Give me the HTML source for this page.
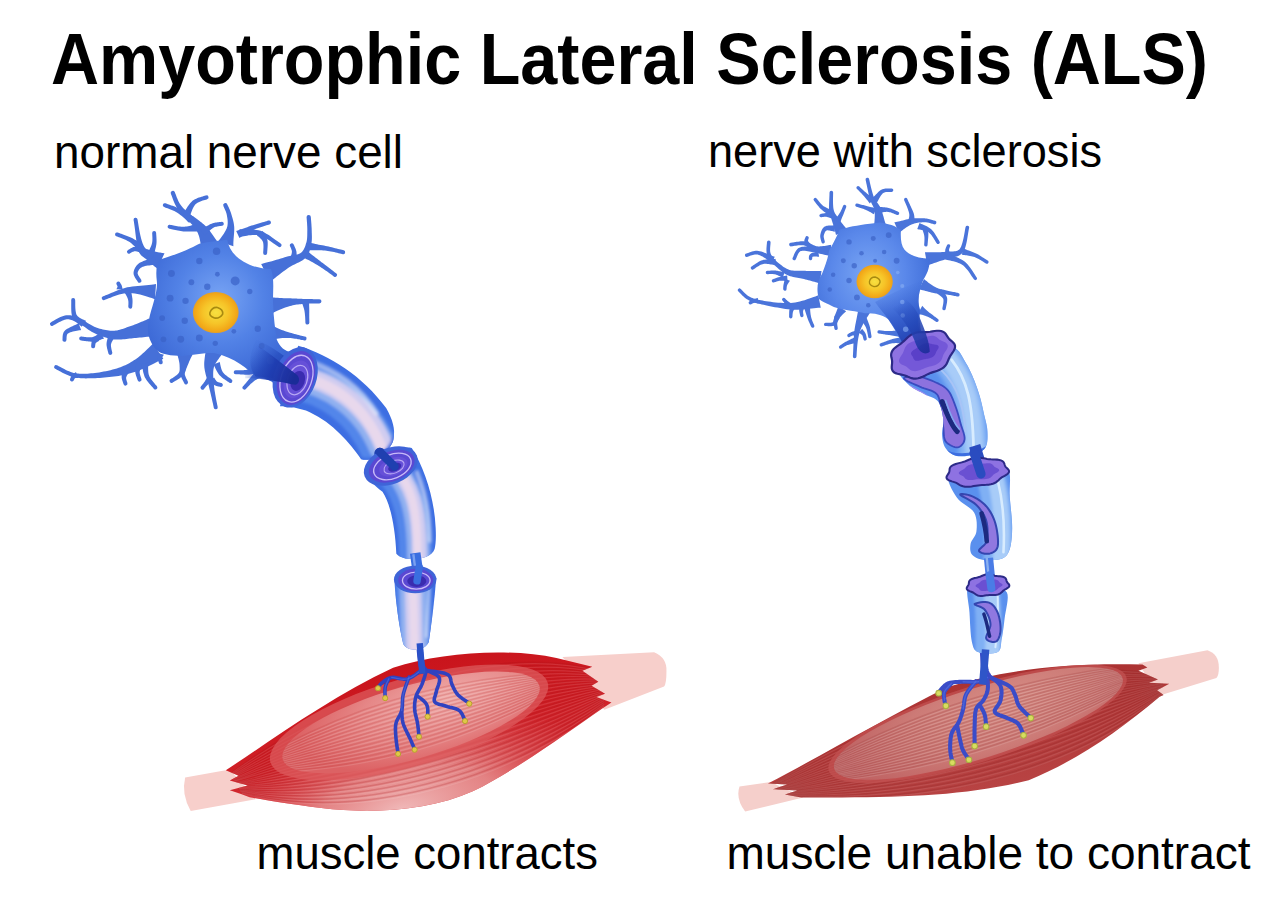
<!DOCTYPE html>
<html><head><meta charset="utf-8">
<style>
html,body{margin:0;padding:0;background:#fff;width:1280px;height:904px;overflow:hidden}
svg{display:block}
text{font-family:"Liberation Sans",sans-serif}
</style></head>
<body>
<svg width="1280" height="904" viewBox="0 0 1280 904">
<defs>
<linearGradient id="mL" x1="0" y1="0" x2="0.25" y2="1">
  <stop offset="0" stop-color="#c20e16"/>
  <stop offset="0.5" stop-color="#cf2a2e"/>
  <stop offset="0.8" stop-color="#d85a5c"/>
  <stop offset="1" stop-color="#e8a4a4"/>
</linearGradient>
<radialGradient id="mLi" cx="0.6" cy="0.4" r="0.65">
  <stop offset="0" stop-color="#f0b0ae"/>
  <stop offset="0.55" stop-color="#e48484"/>
  <stop offset="1" stop-color="#d45a5c"/>
</radialGradient>

<radialGradient id="soma" cx="0.5" cy="0.4" r="0.6">
  <stop offset="0" stop-color="#78a4f4"/>
  <stop offset="0.5" stop-color="#5282e6"/>
  <stop offset="1" stop-color="#3a66d4"/>
</radialGradient>
<radialGradient id="nuc" cx="0.5" cy="0.5" r="0.5">
  <stop offset="0" stop-color="#f6e040"/>
  <stop offset="0.55" stop-color="#f6c428"/>
  <stop offset="0.9" stop-color="#f2a818"/>
  <stop offset="1" stop-color="#e8a020"/>
</radialGradient>
<linearGradient id="hill" x1="0" y1="0" x2="1" y2="1">
  <stop offset="0" stop-color="#4a78e0" stop-opacity="0"/>
  <stop offset="0.45" stop-color="#2c54c4"/>
  <stop offset="1" stop-color="#1a34a0"/>
</linearGradient>

<radialGradient id="open" cx="0.5" cy="0.5" r="0.5">
  <stop offset="0" stop-color="#2a22a0"/>
  <stop offset="0.35" stop-color="#4a36c8"/>
  <stop offset="0.75" stop-color="#7a62e2"/>
  <stop offset="1" stop-color="#5a48d6"/>
</radialGradient>
<linearGradient id="tubeIn" x1="0" y1="0" x2="1" y2="1">
  <stop offset="0" stop-color="#dcdaf4"/>
  <stop offset="0.5" stop-color="#e9d8ec"/>
  <stop offset="1" stop-color="#d6d0f0"/>
</linearGradient>

<linearGradient id="mR" x1="0" y1="0" x2="0.2" y2="1">
  <stop offset="0" stop-color="#a83434"/>
  <stop offset="0.5" stop-color="#b84444"/>
  <stop offset="1" stop-color="#c86262"/>
</linearGradient>
<radialGradient id="mRi" cx="0.6" cy="0.4" r="0.65">
  <stop offset="0" stop-color="#dc9a9a"/>
  <stop offset="0.6" stop-color="#d07c7c"/>
  <stop offset="1" stop-color="#c66464"/>
</radialGradient>
<radialGradient id="somaR" cx="0.45" cy="0.4" r="0.6">
  <stop offset="0" stop-color="#7aa6f4"/>
  <stop offset="0.55" stop-color="#5a88ea"/>
  <stop offset="1" stop-color="#3e6cd8"/>
</radialGradient>
<linearGradient id="damTube" x1="0" y1="0" x2="1" y2="0">
  <stop offset="0" stop-color="#4a7ee6"/>
  <stop offset="0.4" stop-color="#8cb4f4"/>
  <stop offset="0.7" stop-color="#a6c6f8"/>
  <stop offset="1" stop-color="#5a8cec"/>
</linearGradient>
</defs>
<rect width="1280" height="904" fill="#fff"/>
<!--TEXT-->
<text x="51" y="83.5" font-size="72" font-weight="bold" fill="#000" textLength="1157" lengthAdjust="spacingAndGlyphs">Amyotrophic Lateral Sclerosis (ALS)</text>
<text x="54" y="167.5" font-size="46.5" fill="#000" textLength="349" lengthAdjust="spacingAndGlyphs">normal nerve cell</text>
<text x="708" y="167" font-size="46.5" fill="#000" textLength="394" lengthAdjust="spacingAndGlyphs">nerve with sclerosis</text>
<text x="256.5" y="869" font-size="46.5" fill="#000" textLength="341.5" lengthAdjust="spacingAndGlyphs">muscle contracts</text>
<text x="726.5" y="868.8" font-size="46.5" fill="#000" textLength="524" lengthAdjust="spacingAndGlyphs">muscle unable to contract</text>

<!--LEFT-->

<g id="muscleL" transform="translate(170,630) scale(0.39844)">
  <defs>
   <clipPath id="cmL"><path d="M140,352 C250,280 400,170 560,95 C680,55 850,45 970,70 L1060,92 L1035,102 L1075,130 L1058,140 L1092,160 L1070,168 L1108,182 L1085,197 C1000,255 880,345 760,405 C650,455 500,462 380,447 C300,437 240,427 200,420 L180,412 L150,402 L195,390 L150,378 L172,366 Z"/></clipPath>
   <clipPath id="cmLi"><ellipse cx="605" cy="232" rx="335" ry="92" transform="rotate(-16 605 232)"/></clipPath>
   <linearGradient id="mL2" gradientUnits="userSpaceOnUse" x1="560" y1="60" x2="640" y2="460">
    <stop offset="0" stop-color="#c8121a"/>
    <stop offset="0.5" stop-color="#cf1f26"/>
    <stop offset="1" stop-color="#d63a40"/>
   </linearGradient>
   <radialGradient id="mLpink" gradientUnits="userSpaceOnUse" cx="580" cy="450" r="520" gradientTransform="translate(580 450) rotate(-14) scale(1 0.42) translate(-580 -450)">
    <stop offset="0" stop-color="#f0b8b8" stop-opacity="1"/>
    <stop offset="0.45" stop-color="#e69090" stop-opacity="0.85"/>
    <stop offset="0.8" stop-color="#dc5a5e" stop-opacity="0.4"/>
    <stop offset="1" stop-color="#d84a50" stop-opacity="0"/>
   </radialGradient>
   <radialGradient id="mLi2" gradientUnits="userSpaceOnUse" cx="700" cy="200" r="380" gradientTransform="translate(700 200) scale(1 0.4) rotate(-16) translate(-700 -200)">
    <stop offset="0" stop-color="#f0aeac"/>
    <stop offset="0.55" stop-color="#e68888"/>
    <stop offset="1" stop-color="#dc6264"/>
   </radialGradient>
  </defs>
  <path d="M38,370 L150,350 L215,425 L52,454 Q28,412 38,370 Z" fill="#f7cfcb"/>
  <path d="M985,68 L1215,56 Q1248,70 1246,104 Q1246,135 1240,142 L1090,200 Z" fill="#f7cfcb"/>
  <path d="M140,352 C250,280 400,170 560,95 C680,55 850,45 970,70 L1060,92 L1035,102 L1075,130 L1058,140 L1092,160 L1070,168 L1108,182 L1085,197 C1000,255 880,345 760,405 C650,455 500,462 380,447 C300,437 240,427 200,420 L180,412 L150,402 L195,390 L150,378 L172,366 Z" fill="url(#mL2)"/>
  <g clip-path="url(#cmL)">
   <rect x="0" y="0" width="1300" height="600" fill="url(#mLpink)"/>
   <g fill="none" stroke="#a80c14" stroke-opacity="0.22" stroke-width="4"><path d="M151,361 C422,158 802,28 1080,102"/><path d="M152,363 C427,174 807,42 1081,106"/><path d="M153,366 C431,190 811,58 1081,110"/><path d="M155,368 C436,206 816,72 1082,114"/><path d="M156,370 C440,222 820,88 1082,118"/><path d="M158,372 C445,238 825,102 1082,122"/><path d="M159,375 C450,253 830,118 1083,127"/><path d="M160,377 C454,269 834,132 1083,131"/><path d="M162,379 C459,285 839,148 1084,135"/><path d="M163,382 C463,301 843,162 1084,139"/><path d="M164,384 C468,317 848,178 1085,143"/><path d="M166,386 C472,333 852,192 1085,147"/><path d="M167,388 C477,349 857,208 1086,151"/><path d="M168,391 C481,365 861,222 1086,155"/><path d="M170,393 C486,381 866,237 1087,159"/><path d="M171,395 C490,397 870,252 1087,163"/><path d="M172,398 C495,412 875,268 1088,168"/><path d="M174,400 C500,428 880,282 1088,172"/><path d="M175,402 C504,444 884,298 1088,176"/><path d="M177,404 C509,460 889,312 1089,180"/><path d="M178,407 C513,476 893,328 1089,184"/><path d="M179,409 C518,492 898,342 1090,188"/></g>
   <g fill="none" stroke="#ffffff" stroke-opacity="0.1" stroke-width="3"><path d="M151,362 C424,165 804,34 1080,104"/><path d="M153,364 C429,181 809,49 1081,108"/><path d="M154,367 C433,197 813,64 1081,112"/><path d="M155,369 C438,213 818,79 1082,116"/><path d="M157,371 C442,229 822,94 1082,120"/><path d="M158,374 C447,244 827,109 1083,124"/><path d="M159,376 C452,260 832,124 1083,128"/><path d="M161,378 C456,276 836,139 1084,132"/><path d="M162,380 C461,292 841,154 1084,137"/><path d="M164,383 C465,308 845,169 1085,141"/><path d="M165,385 C470,324 850,184 1085,145"/><path d="M166,387 C474,340 854,199 1085,149"/><path d="M168,389 C479,356 859,214 1086,153"/><path d="M169,392 C483,372 863,229 1086,157"/><path d="M170,394 C488,388 868,244 1087,161"/><path d="M172,396 C492,404 872,259 1087,165"/><path d="M173,398 C497,420 877,274 1088,169"/><path d="M174,401 C502,435 882,289 1088,173"/><path d="M176,403 C506,451 886,304 1089,177"/><path d="M177,405 C511,467 891,319 1089,182"/><path d="M179,408 C515,483 895,334 1090,186"/><path d="M180,410 C520,499 900,349 1090,190"/></g>
  </g>
  <ellipse cx="600" cy="232" rx="362" ry="110" transform="rotate(-16 600 232)" fill="#dc5a5c" opacity="0.75"/>
  <ellipse cx="605" cy="232" rx="335" ry="92" transform="rotate(-16 605 232)" fill="url(#mLi2)"/>
  <g clip-path="url(#cmLi)"><g transform="rotate(-16 605 232)">
   <g fill="none" stroke="#c03838" stroke-opacity="0.22" stroke-width="4"><path d="M250,206 Q605,125 960,206"/><path d="M250,210 Q605,142 960,210"/><path d="M250,214 Q605,158 960,214"/><path d="M250,218 Q605,174 960,218"/><path d="M250,222 Q605,191 960,222"/><path d="M250,226 Q605,207 960,226"/><path d="M250,230 Q605,224 960,230"/><path d="M250,234 Q605,240 960,234"/><path d="M250,238 Q605,257 960,238"/><path d="M250,242 Q605,273 960,242"/><path d="M250,246 Q605,290 960,246"/><path d="M250,250 Q605,306 960,250"/><path d="M250,254 Q605,322 960,254"/><path d="M250,258 Q605,339 960,258"/></g>
   <g fill="none" stroke="#ffffff" stroke-opacity="0.12" stroke-width="3"><path d="M250,208 Q605,133 960,208"/><path d="M250,212 Q605,150 960,212"/><path d="M250,216 Q605,166 960,216"/><path d="M250,220 Q605,183 960,220"/><path d="M250,224 Q605,199 960,224"/><path d="M250,228 Q605,216 960,228"/><path d="M250,232 Q605,232 960,232"/><path d="M250,236 Q605,248 960,236"/><path d="M250,240 Q605,265 960,240"/><path d="M250,244 Q605,281 960,244"/><path d="M250,248 Q605,298 960,248"/><path d="M250,252 Q605,314 960,252"/><path d="M250,256 Q605,331 960,256"/><path d="M250,260 Q605,347 960,260"/></g>
  </g></g>
</g>

<g transform="translate(170,630) scale(0.39844)">
<g fill="none" stroke="#3042c0" stroke-linecap="round" stroke-linejoin="round">
<path d="M624.9,20.0 L625.1,23.2 L625.4,27.4 L625.8,32.5 L626.2,38.1 L626.6,44.0 L627.1,49.8 L627.5,55.2 L628.0,60.0 L628.4,64.4 L628.9,68.7 L629.3,72.9 L629.7,76.9 L630.2,80.7 L630.8,84.2 L631.4,87.4 L632.1,90.2 L633.0,92.6 L634.0,94.7 L635.1,96.5 L636.3,98.0 L637.4,99.2 L638.5,100.3 L639.4,101.2 L640.0,102.0" stroke-width="16"/>
<path d="M632.0,100.0 L629.2,101.9 L625.6,104.7 L621.3,108.0 L616.5,111.6 L611.4,115.1 L606.1,118.3 L600.9,121.0 L596.0,122.7 L591.1,123.4 L586.0,123.2 L580.8,122.5 L575.5,121.4 L570.3,120.3 L565.3,119.4 L560.6,118.9 L556.3,119.1 L552.3,120.1 L548.6,121.5 L545.0,123.3 L541.7,125.3 L538.7,127.4 L535.8,129.6 L533.3,131.7 L531.0,133.5 L529.0,135.3 L527.4,137.1 L526.0,138.9 L524.9,140.8 L524.0,142.4 L523.2,144.0 L522.6,145.2 L522.0,146.2" stroke-width="9"/>
<path d="M549.1,122.7 L548.3,124.4 L547.3,126.5 L546.0,129.1 L544.6,132.0 L543.2,135.1 L541.9,138.2 L540.9,141.4 L540.1,144.4 L539.7,147.6 L539.5,151.0 L539.4,154.7 L539.5,158.4 L539.7,161.8 L539.9,165.0 L540.0,167.6 L540.1,169.6" stroke-width="9"/>
<path d="M600.0,118.0 L598.8,121.5 L597.1,126.1 L595.0,131.6 L592.8,137.7 L590.6,144.1 L588.5,150.6 L586.6,156.8 L585.2,162.4 L584.3,167.6 L583.8,172.8 L583.5,177.9 L583.4,183.0 L583.3,187.9 L583.0,192.8 L582.5,197.5 L581.6,202.1 L580.2,206.5 L578.4,210.6 L576.3,214.7 L574.1,218.6 L572.0,222.5 L570.0,226.4 L568.3,230.4 L567.1,234.6 L566.4,238.9 L566.0,243.3 L565.8,247.7 L565.9,252.2 L566.1,256.7 L566.4,261.3 L566.7,266.0 L567.1,270.7 L567.6,275.8 L568.2,281.3 L569.0,287.1 L569.8,292.8 L570.6,298.3 L571.4,303.2 L572.0,307.3 L572.5,310.4" stroke-width="9"/>
<path d="M581.6,202.1 L581.8,204.6 L581.9,207.8 L582.1,211.6 L582.3,215.9 L582.6,220.5 L583.2,225.2 L584.0,230.0 L585.2,234.6 L586.8,239.3 L588.9,244.4 L591.2,249.6 L593.8,254.9 L596.3,260.2 L598.9,265.2 L601.2,270.0 L603.2,274.3 L605.0,278.3 L606.7,282.2 L608.3,285.9 L609.7,289.4 L611.1,292.5 L612.2,295.3 L613.2,297.7 L614.0,299.5" stroke-width="9"/>
<path d="M642.9,104.7 L642.1,107.2 L641.0,110.6 L639.8,114.6 L638.4,119.1 L636.9,123.8 L635.3,128.5 L633.7,133.0 L632.1,137.1 L630.4,140.9 L628.5,144.5 L626.5,148.0 L624.4,151.5 L622.4,155.1 L620.5,158.6 L618.9,162.2 L617.6,166.0 L616.6,169.9 L615.7,173.8 L615.0,177.8 L614.4,181.8 L614.1,185.9 L613.9,190.0 L613.9,194.2 L614.0,198.5 L614.4,202.9 L615.1,207.4 L616.1,211.9 L617.2,216.6 L618.4,221.2 L619.5,225.7 L620.5,230.2 L621.3,234.6 L622.0,239.1 L622.5,243.7 L623.1,248.5 L623.6,253.1 L624.0,257.5 L624.3,261.3 L624.6,264.6 L624.9,267.1" stroke-width="9"/>
<path d="M621.3,166.0 L622.8,167.1 L624.8,168.6 L627.2,170.4 L629.8,172.3 L632.5,174.4 L635.1,176.5 L637.4,178.6 L639.3,180.5 L640.8,182.3 L642.0,183.9 L643.1,185.6 L644.0,187.3 L644.8,189.0 L645.5,190.8 L646.0,192.8 L646.5,194.9 L646.8,197.4 L647.0,200.3 L647.0,203.4 L647.0,206.6 L646.8,209.7 L646.7,212.5 L646.5,214.8 L646.5,216.5" stroke-width="9"/>
<path d="M640.0,100.0 L643.0,101.4 L647.4,103.0 L652.6,105.0 L658.1,107.3 L663.7,109.9 L668.7,112.7 L672.8,115.8 L675.4,119.1 L676.5,122.9 L676.5,127.2 L675.7,131.9 L674.2,136.8 L672.5,141.7 L670.7,146.5 L669.2,151.1 L668.2,155.2 L667.4,159.0 L666.3,162.6 L665.2,166.1 L664.1,169.4 L663.4,172.5 L663.1,175.4 L663.5,178.1 L664.6,180.5 L666.6,182.5 L669.4,184.2 L672.9,185.6 L676.7,186.8 L680.9,187.9 L685.2,188.9 L689.4,190.0 L693.4,191.3 L697.4,192.6 L701.7,193.7 L706.1,194.7 L710.5,195.8 L714.9,197.0 L719.0,198.4 L722.7,200.1 L725.9,202.1 L728.7,204.7 L731.1,208.0 L733.3,211.6 L735.2,215.4 L736.8,219.1 L738.2,222.5 L739.4,225.3 L740.4,227.4" stroke-width="9"/>
<path d="M650.0,102.0 L653.9,102.7 L659.3,103.4 L665.8,104.3 L672.8,105.4 L680.0,106.6 L686.7,108.1 L692.5,109.9 L697.0,111.9 L700.1,114.3 L702.2,117.1 L703.6,120.2 L704.5,123.5 L705.1,127.0 L705.8,130.4 L706.6,133.8 L707.9,137.1 L709.4,140.3 L710.9,143.5 L712.4,146.7 L714.0,150.0 L715.7,153.2 L717.6,156.3 L719.8,159.4 L722.3,162.4 L725.4,165.4 L729.2,168.6 L733.3,171.8 L737.6,174.8 L741.8,177.7 L745.7,180.3 L748.9,182.5 L751.2,184.1" stroke-width="9"/>
</g><g fill="none" stroke="#5a7ae8" stroke-opacity="0.5" stroke-linecap="round">
<path d="M632.0,100.0 L629.2,101.9 L625.6,104.7 L621.3,108.0 L616.5,111.6 L611.4,115.1 L606.1,118.3 L600.9,121.0 L596.0,122.7 L590.9,123.5 L585.4,123.6 L579.6,123.1 L573.9,122.3 L568.4,121.3 L563.5,120.4 L559.4,119.6 L556.3,119.1" stroke-width="3.15"/>
<path d="M549.1,122.7 L548.3,124.4 L547.3,126.5 L546.0,129.1 L544.6,132.0 L543.2,135.1 L541.9,138.2 L540.9,141.4 L540.1,144.4 L539.7,147.6 L539.5,151.0 L539.4,154.7 L539.5,158.4 L539.7,161.8 L539.9,165.0 L540.0,167.6 L540.1,169.6" stroke-width="3.15"/>
<path d="M600.0,118.0 L598.8,121.5 L597.1,126.1 L595.0,131.6 L592.8,137.7 L590.6,144.1 L588.5,150.6 L586.6,156.8 L585.2,162.4 L584.2,167.9 L583.4,173.6 L582.9,179.4 L582.5,185.0 L582.2,190.3 L582.0,195.1 L581.8,199.1 L581.6,202.1" stroke-width="3.15"/>
</g><g fill="#e0c848" stroke="#b8a030" stroke-width="2.5">
<circle cx="522.0" cy="146.2" r="6.5"/>
<circle cx="540.1" cy="171.0" r="6.5"/>
<circle cx="572.5" cy="311.0" r="6.5"/>
<circle cx="614.0" cy="300.5" r="6.5"/>
<circle cx="624.9" cy="268.0" r="6.5"/>
<circle cx="646.5" cy="217.5" r="6.5"/>
<circle cx="740.4" cy="228.5" r="6.5"/>
<circle cx="751.2" cy="185.0" r="6.5"/>
</g></g>

<g id="axonL">
 <defs>
  <filter id="blur8" filterUnits="userSpaceOnUse" x="-500" y="-500" width="2000" height="2000"><feGaussianBlur stdDeviation="10"/></filter>
  <filter id="blur5" filterUnits="userSpaceOnUse" x="-500" y="-500" width="2000" height="2000"><feGaussianBlur stdDeviation="6"/></filter>
  <clipPath id="cs1"><path d="M230,95 C420,150 620,280 760,470 C800,540 815,600 805,650 C800,720 690,800 610,778 C540,680 440,560 300,495 C240,470 170,460 120,460 Z"/></clipPath>
  <clipPath id="cs2"><path d="M95,110 C140,60 220,20 270,30 C320,110 355,220 360,330 C362,370 360,395 356,410 C340,455 240,460 212,428 C208,330 190,240 160,195 C130,170 100,150 95,110 Z"/></clipPath>
  <clipPath id="cs3"><path d="M205,525 C208,600 222,700 238,768 C255,800 320,795 334,760 C346,680 356,600 362,520 C340,490 230,490 205,525 Z"/></clipPath>
 </defs>
 <g transform="translate(260,330) scale(0.166)">
  <path d="M230,95 C420,150 620,280 760,470 C800,540 815,600 805,650 C800,720 690,800 610,778 C540,680 440,560 300,495 C240,470 170,460 120,460 Z" fill="#3d6ee2"/>
  <g clip-path="url(#cs1)"><g fill="none" stroke-linecap="round" filter="url(#blur8)">
   <path d="M190,300 C400,330 620,470 720,720" stroke="#5286ea" stroke-width="230"/>
   <path d="M205,285 C410,310 630,450 735,705" stroke="#90b0f0" stroke-width="160"/>
   <path d="M215,275 C420,300 640,440 745,700" stroke="#d0ccf0" stroke-width="110"/>
   <path d="M225,285 C430,310 630,450 735,710" stroke="#e8d8ec" stroke-width="60"/>
   <path d="M300,190 C460,240 610,350 700,500" stroke="#ffffff" stroke-opacity="0.45" stroke-width="30"/>
   <path d="M610,778 C690,800 800,720 805,650" stroke="#3d6ee2" stroke-width="26"/>
  </g></g>

 </g>
 <g transform="translate(340,440) scale(0.2657)">
  <path d="M150,50 L215,100" stroke="#1f40b0" stroke-width="42" stroke-linecap="round"/>
  <path d="M95,110 C140,60 220,20 270,30 C320,110 355,220 360,330 C362,370 360,395 356,410 C340,455 240,460 212,428 C208,330 190,240 160,195 C130,170 100,150 95,110 Z" fill="#3d6ee2"/>
  <g clip-path="url(#cs2)"><g fill="none" stroke-linecap="round" filter="url(#blur5)">
   <path d="M180,100 C250,170 285,260 285,440" stroke="#5286ea" stroke-width="125"/>
   <path d="M190,95 C262,165 295,255 295,440" stroke="#90b0f0" stroke-width="85"/>
   <path d="M195,95 C268,160 300,250 298,440" stroke="#d0ccf0" stroke-width="55"/>
   <path d="M200,100 C270,165 292,255 292,440" stroke="#e8d8ec" stroke-width="30"/>
   <path d="M290,120 C325,200 338,280 338,380" stroke="#ffffff" stroke-opacity="0.5" stroke-width="14"/>
  </g></g>
  <g transform="rotate(-22 190 95)">
   <ellipse cx="190" cy="98" rx="106" ry="68" fill="#3f64d8"/>
   <ellipse cx="193" cy="100" rx="90" ry="56" fill="#5a48d2"/>
   <ellipse cx="195" cy="102" rx="74" ry="45" fill="none" stroke="#c8baf8" stroke-width="5"/>
   <ellipse cx="198" cy="104" rx="56" ry="33" fill="#6650d8"/>
   <ellipse cx="200" cy="106" rx="40" ry="23" fill="none" stroke="#b8a8f4" stroke-width="4"/>
   <ellipse cx="202" cy="108" rx="26" ry="15" fill="#3a2cb0"/>
  </g>
  <path d="M150,45 L205,100" stroke="#1f40b0" stroke-width="32" stroke-linecap="round"/>
  <path d="M283,425 L297,525" stroke="#3a6ee0" stroke-width="40"/>
  <path d="M276,430 L288,520" stroke="#7aa0f0" stroke-width="9"/>
  <path d="M205,525 C208,600 222,700 238,768 C255,800 320,795 334,760 C346,680 356,600 362,520 C340,490 230,490 205,525 Z" fill="#3d6ee2"/>
  <g clip-path="url(#cs3)"><g fill="none" stroke-linecap="round" filter="url(#blur5)">
   <path d="M276,520 L282,780" stroke="#5286ea" stroke-width="135"/>
   <path d="M274,520 L280,780" stroke="#90b0f0" stroke-width="100"/>
   <path d="M274,520 L280,780" stroke="#d0ccf0" stroke-width="62"/>
   <path d="M274,520 L280,780" stroke="#e8d8ec" stroke-width="32"/>
   <path d="M335,560 L325,740" stroke="#ffffff" stroke-opacity="0.5" stroke-width="10"/>
  </g></g>
  <ellipse cx="283" cy="525" rx="80" ry="52" fill="#3f64d8"/>
  <ellipse cx="285" cy="527" rx="66" ry="42" fill="#5a48d2"/>
  <ellipse cx="287" cy="529" rx="52" ry="32" fill="none" stroke="#c8baf8" stroke-width="5"/>
  <ellipse cx="289" cy="531" rx="36" ry="22" fill="#3a2cb0"/>
  <path d="M290,530 L298,480" stroke="#3a6ee0" stroke-width="28" stroke-linecap="round"/>
  <path d="M300,765 L310,880" stroke="#2a52c8" stroke-width="24"/>
 </g>
</g>


<g id="neuronL" transform="translate(40,180) scale(0.26553)">
 <g fill="#4670d8">
<path d="M671.8,236.5 L670.2,234.6 L668.2,232.1 L665.8,228.8 L663.1,225.0 L660.2,220.8 L657.0,216.3 L653.8,211.6 L650.5,206.9 L647.2,202.1 L643.8,197.5 L640.5,193.0 L637.3,188.8 L634.2,185.1 L631.3,181.8 L628.3,178.6 L625.3,175.5 L622.4,172.6 L619.4,169.8 L616.5,167.1 L613.5,164.5 L610.5,161.9 L607.4,159.4 L604.3,156.8 L601.0,154.1 L597.4,151.3 L593.6,148.5 L589.8,145.7 L585.9,143.0 L582.0,140.4 L578.1,137.8 L574.3,135.2 L570.6,132.6 L567.0,130.1 L563.6,127.5 L560.4,125.0 L557.4,122.5 L554.4,119.9 L551.4,117.2 L548.6,114.7 L545.8,112.1 L543.2,109.6 L540.7,107.1 L538.2,104.5 L535.9,101.9 L533.6,99.2 L531.4,96.5 L529.3,93.6 L527.3,90.6 L525.3,87.4 L523.3,83.7 L521.3,79.6 L519.4,75.3 L517.5,70.8 L515.6,66.4 L513.9,62.0 L512.3,57.8 L510.9,53.9 L509.5,50.4 L508.4,47.4 L507.4,45.0 A8.0,8.0 0 0 0 492.6,51.0 L492.6,51.0 L493.5,53.2 L494.6,56.1 L495.9,59.5 L497.3,63.4 L498.9,67.7 L500.6,72.3 L502.4,76.9 L504.3,81.7 L506.3,86.4 L508.4,91.0 L510.5,95.3 L512.7,99.4 L514.9,103.1 L517.2,106.6 L519.5,109.9 L521.9,113.2 L524.4,116.3 L526.8,119.4 L529.4,122.4 L532.0,125.4 L534.6,128.4 L537.2,131.4 L539.9,134.4 L542.6,137.5 L545.6,140.8 L548.9,144.1 L552.1,147.4 L555.5,150.7 L558.8,154.0 L562.1,157.2 L565.4,160.5 L568.5,163.6 L571.5,166.8 L574.2,169.9 L576.7,172.9 L579.0,175.9 L581.3,178.9 L583.5,181.9 L585.5,184.9 L587.4,187.7 L589.2,190.5 L590.8,193.3 L592.3,196.1 L593.8,198.9 L595.1,201.8 L596.4,204.8 L597.6,208.0 L598.7,211.2 L599.7,214.6 L600.7,218.6 L601.7,223.1 L602.7,227.9 L603.6,233.0 L604.5,238.1 L605.2,243.1 L605.9,247.9 L606.6,252.5 L607.1,256.7 L607.7,260.5 L608.2,263.5 Z"/>
<path d="M728.5,249.2 L728.2,246.3 L728.1,242.5 L728.2,237.7 L728.4,232.2 L728.8,226.2 L729.3,219.8 L729.8,213.3 L730.4,206.6 L730.9,200.1 L731.3,193.6 L731.6,187.4 L731.6,181.6 L731.4,176.1 L730.8,170.9 L730.1,165.9 L729.3,161.1 L728.3,156.4 L727.2,151.8 L726.1,147.5 L724.9,143.2 L723.7,139.2 L722.6,135.3 L721.5,131.6 L720.4,127.9 L719.3,124.1 L717.9,120.3 L716.5,116.5 L715.0,112.9 L713.5,109.4 L712.0,106.1 L710.6,103.0 L709.2,100.1 L707.9,97.5 L706.9,95.3 L706.0,93.4 L705.4,91.9 A8.0,8.0 0 0 0 690.6,98.1 L690.6,98.1 L691.4,99.9 L692.4,102.0 L693.5,104.4 L694.7,106.9 L695.9,109.7 L697.2,112.7 L698.5,115.8 L699.8,119.0 L701.0,122.2 L702.0,125.5 L702.9,128.8 L703.6,132.1 L704.2,135.7 L704.9,139.4 L705.5,143.2 L706.1,147.1 L706.5,151.1 L706.8,155.0 L706.9,159.0 L706.9,163.0 L706.6,167.0 L706.1,170.9 L705.4,174.7 L704.4,178.4 L703.0,182.3 L701.0,186.6 L698.7,191.4 L695.9,196.3 L692.8,201.4 L689.5,206.4 L686.1,211.3 L682.7,215.9 L679.4,220.3 L676.3,224.2 L673.6,227.9 L671.5,230.8 Z"/>
<path d="M867.1,383.9 L870.6,380.9 L875.1,377.2 L880.3,372.8 L886.2,367.9 L892.6,362.8 L899.3,357.4 L906.3,352.0 L913.3,346.7 L920.3,341.6 L926.9,336.8 L933.1,332.5 L938.5,328.8 L943.4,325.7 L948.2,322.9 L953.2,320.3 L958.3,317.8 L963.5,315.4 L968.7,313.0 L973.9,310.6 L979.1,308.1 L984.2,305.4 L989.2,302.4 L994.0,298.9 L998.5,295.0 L1002.4,290.9 L1005.8,286.5 L1008.6,282.1 L1011.1,277.5 L1013.2,273.0 L1014.9,268.4 L1016.4,263.9 L1017.7,259.4 L1018.8,255.0 L1019.8,250.7 L1020.7,246.6 L1021.6,242.4 L1022.4,238.0 L1023.0,233.4 L1023.5,228.9 L1023.8,224.4 L1023.9,220.0 L1024.0,215.6 L1023.9,211.2 L1023.8,206.8 L1023.7,202.5 L1023.5,198.3 L1023.4,194.1 L1023.3,189.9 L1023.2,185.5 L1023.0,180.8 L1022.7,175.9 L1022.4,171.0 L1022.1,166.1 L1021.7,161.3 L1021.3,156.7 L1021.0,152.3 L1020.7,148.3 L1020.4,144.8 L1020.1,141.8 L1020.0,139.5 A8.0,8.0 0 0 0 1004.0,140.5 L1004.0,140.5 L1004.2,143.0 L1004.4,146.1 L1004.7,149.6 L1005.0,153.6 L1005.3,157.9 L1005.7,162.5 L1006.0,167.2 L1006.2,172.0 L1006.5,176.7 L1006.6,181.4 L1006.7,185.8 L1006.7,190.1 L1006.6,194.2 L1006.6,198.5 L1006.5,202.7 L1006.5,206.9 L1006.4,211.0 L1006.2,215.1 L1005.9,219.1 L1005.5,223.0 L1005.0,226.8 L1004.3,230.5 L1003.5,234.0 L1002.4,237.6 L1001.2,241.4 L1000.0,245.3 L998.7,249.1 L997.3,252.8 L995.8,256.3 L994.2,259.7 L992.5,262.9 L990.6,265.8 L988.6,268.5 L986.4,270.9 L984.0,273.1 L981.5,275.0 L978.8,276.5 L975.7,277.9 L972.1,279.2 L968.0,280.4 L963.5,281.5 L958.6,282.6 L953.2,283.7 L947.5,284.8 L941.4,286.1 L935.0,287.5 L928.3,289.2 L921.5,291.2 L914.4,293.4 L906.9,295.7 L898.8,298.2 L890.4,300.7 L881.8,303.3 L873.2,305.7 L864.8,308.1 L856.8,310.2 L849.4,312.1 L842.8,313.8 L837.3,315.1 L832.9,316.1 Z"/>
<path d="M870.3,503.8 L873.8,502.0 L878.4,499.7 L883.6,497.2 L889.5,494.4 L895.8,491.4 L902.5,488.5 L909.4,485.6 L916.4,482.9 L923.3,480.4 L929.9,478.1 L936.0,476.2 L941.6,474.5 L946.9,473.2 L952.0,472.0 L957.1,471.0 L962.1,470.1 L967.0,469.3 L971.9,468.6 L976.7,468.1 L981.4,467.5 L986.1,467.1 L990.8,466.7 L995.5,466.3 L1000.2,466.0 L1004.9,465.7 L1009.8,465.4 L1014.8,465.2 L1019.9,465.1 L1024.8,465.0 L1029.7,464.9 L1034.4,464.9 L1038.7,464.9 L1042.8,464.9 L1046.4,465.0 L1049.5,465.0 L1052.0,465.0 A8.0,8.0 0 0 0 1052.0,449.0 L1052.0,449.0 L1049.6,449.0 L1046.5,449.0 L1042.9,448.9 L1038.9,448.9 L1034.5,448.8 L1029.8,448.7 L1024.9,448.6 L1019.9,448.5 L1014.7,448.4 L1009.6,448.2 L1004.6,448.1 L999.8,448.0 L995.1,447.9 L990.4,447.8 L985.7,447.6 L980.9,447.3 L976.0,447.1 L971.0,446.9 L965.9,446.6 L960.7,446.3 L955.4,446.1 L949.9,445.9 L944.2,445.6 L938.4,445.5 L932.0,445.3 L925.1,445.1 L917.8,444.9 L910.3,444.6 L902.6,444.3 L895.0,443.9 L887.6,443.3 L880.5,442.8 L874.0,442.1 L868.3,441.5 L863.5,440.8 L859.7,440.2 Z"/>
<path d="M866.2,602.3 L869.9,601.5 L874.5,600.5 L879.8,599.5 L885.8,598.4 L892.3,597.4 L899.1,596.5 L906.0,595.8 L913.0,595.3 L919.9,595.0 L926.5,594.8 L932.6,594.9 L938.2,595.1 L943.6,595.5 L949.2,596.0 L954.8,596.6 L960.4,597.4 L965.9,598.3 L971.2,599.3 L976.3,600.2 L981.0,601.2 L985.4,602.1 L989.3,603.0 L992.7,603.7 L995.4,604.3 A7.5,7.5 0 0 0 998.6,589.7 L998.6,589.7 L995.9,589.1 L992.6,588.3 L988.7,587.4 L984.4,586.4 L979.6,585.3 L974.6,584.0 L969.3,582.6 L963.8,581.2 L958.2,579.6 L952.7,578.1 L947.1,576.5 L941.8,574.9 L936.2,573.2 L930.1,571.4 L923.7,569.3 L917.1,567.0 L910.4,564.6 L903.8,562.0 L897.4,559.3 L891.4,556.6 L885.9,554.0 L881.1,551.6 L877.0,549.4 L873.8,547.7 Z"/>
<path d="M411.7,521.5 L408.4,522.9 L404.2,524.7 L399.4,526.8 L394.1,529.1 L388.3,531.6 L382.2,534.2 L375.9,536.8 L369.5,539.4 L363.0,541.9 L356.8,544.3 L350.8,546.6 L345.0,548.6 L339.1,550.7 L333.2,552.8 L327.4,554.9 L321.8,557.0 L316.3,558.9 L310.9,560.8 L305.6,562.5 L300.4,564.0 L295.4,565.3 L290.4,566.4 L285.5,567.1 L280.5,567.6 L275.4,567.8 L270.1,567.8 L264.6,567.5 L259.1,567.0 L253.4,566.2 L247.8,565.3 L242.1,564.2 L236.4,562.9 L230.7,561.5 L225.1,559.9 L219.6,558.2 L214.3,556.5 L209.3,554.6 L204.4,552.5 L199.3,550.0 L194.3,547.2 L189.2,544.3 L184.1,541.2 L179.0,538.1 L174.0,535.0 L168.9,532.0 L163.8,529.1 L158.7,526.5 L153.7,524.2 L149.1,522.2 L144.7,520.2 L140.4,518.3 L136.1,516.5 L131.8,514.7 L127.4,513.2 L123.0,511.7 L118.5,510.6 L113.9,509.7 L109.1,509.1 L104.3,509.0 L99.2,509.3 L93.7,510.3 L88.1,511.9 L82.5,513.9 L76.9,516.4 L71.3,519.1 L65.9,521.9 L60.6,524.7 L55.7,527.5 L51.3,530.0 L47.4,532.3 L44.2,534.0 L41.6,535.3 A7.5,7.5 0 0 0 48.4,548.7 L48.4,548.7 L51.2,547.3 L54.7,545.4 L58.7,543.1 L63.1,540.6 L67.9,537.9 L72.9,535.2 L78.0,532.6 L83.1,530.2 L88.1,528.1 L92.8,526.4 L97.1,525.3 L100.8,524.7 L104.4,524.6 L107.9,524.8 L111.3,525.3 L114.8,526.0 L118.3,527.1 L121.9,528.3 L125.6,529.9 L129.5,531.6 L133.4,533.5 L137.6,535.5 L141.9,537.7 L146.3,539.8 L150.5,542.1 L154.8,544.6 L159.2,547.5 L163.8,550.7 L168.5,554.0 L173.4,557.5 L178.4,561.1 L183.5,564.6 L188.8,568.1 L194.3,571.5 L199.9,574.7 L205.7,577.5 L211.3,580.1 L217.0,582.5 L222.9,584.9 L228.8,587.2 L234.8,589.5 L241.0,591.6 L247.2,593.5 L253.5,595.3 L259.9,596.9 L266.4,598.3 L272.9,599.5 L279.5,600.4 L286.2,600.9 L293.0,601.1 L299.6,601.0 L306.2,600.7 L312.7,600.1 L319.1,599.5 L325.4,598.7 L331.6,597.9 L337.6,597.2 L343.5,596.5 L349.3,595.9 L355.0,595.4 L361.4,594.8 L368.2,594.2 L375.2,593.5 L382.4,592.8 L389.5,592.0 L396.5,591.3 L403.3,590.7 L409.6,590.1 L415.4,589.5 L420.6,589.1 L424.9,588.7 L428.3,588.5 Z"/>
<path d="M425.4,616.6 L422.2,619.6 L418.2,623.5 L413.8,627.8 L408.9,632.6 L403.7,637.7 L398.1,643.0 L392.3,648.4 L386.5,653.8 L380.6,658.9 L374.9,663.7 L369.4,668.1 L364.2,672.0 L358.9,675.6 L353.6,679.1 L348.3,682.5 L343.0,685.7 L337.7,688.8 L332.3,691.8 L326.8,694.6 L321.2,697.4 L315.3,700.0 L309.3,702.6 L302.9,705.0 L296.3,707.4 L289.2,709.7 L281.7,712.0 L273.7,714.1 L265.4,716.2 L256.9,718.1 L248.3,719.9 L239.7,721.6 L231.1,723.1 L222.7,724.5 L214.5,725.6 L206.7,726.7 L199.3,727.5 L192.3,728.2 L185.5,728.8 L178.9,729.3 L172.6,729.6 L166.5,729.8 L160.5,729.9 L154.7,729.8 L149.0,729.5 L143.4,729.0 L137.9,728.4 L132.3,727.5 L126.9,726.4 L121.3,724.9 L115.5,723.0 L109.5,720.6 L103.4,718.0 L97.3,715.1 L91.3,712.1 L85.5,709.1 L80.1,706.2 L75.0,703.4 L70.5,701.0 L66.5,698.9 L63.3,697.3 A7.5,7.5 0 0 0 56.7,710.7 L56.7,710.7 L59.7,712.2 L63.4,714.2 L67.8,716.6 L72.9,719.4 L78.4,722.4 L84.4,725.5 L90.6,728.7 L97.0,731.8 L103.6,734.7 L110.1,737.4 L116.7,739.8 L123.1,741.6 L129.3,743.0 L135.4,744.2 L141.5,745.1 L147.6,745.8 L153.8,746.4 L160.1,746.7 L166.5,747.0 L172.9,747.1 L179.6,747.0 L186.4,746.9 L193.4,746.7 L200.7,746.5 L208.3,746.2 L216.5,745.8 L225.0,745.3 L233.7,744.7 L242.6,744.0 L251.7,743.2 L260.8,742.3 L269.8,741.4 L278.7,740.3 L287.3,739.2 L295.7,737.9 L303.7,736.6 L311.4,735.1 L318.7,733.5 L325.9,731.9 L332.9,730.1 L339.7,728.2 L346.4,726.2 L353.0,724.1 L359.6,721.9 L366.1,719.6 L372.6,717.2 L379.1,714.7 L385.8,712.0 L393.1,709.0 L400.7,705.5 L408.4,701.8 L416.1,697.9 L423.8,694.1 L431.3,690.2 L438.4,686.5 L445.2,683.0 L451.3,679.9 L456.7,677.1 L461.1,675.0 L464.6,673.4 Z"/>
<path d="M624.6,634.3 L624.6,636.7 L624.5,639.8 L624.1,643.9 L623.4,648.7 L622.5,654.2 L621.6,660.2 L620.7,666.5 L619.9,673.1 L619.2,679.8 L618.6,686.7 L618.4,693.6 L618.6,700.4 L619.1,706.9 L620.0,713.1 L621.1,719.2 L622.4,725.2 L623.8,731.2 L625.4,737.2 L627.0,743.1 L628.7,749.1 L630.3,755.1 L632.0,761.2 L633.6,767.4 L635.2,773.7 L636.8,780.5 L638.6,787.9 L640.5,795.8 L642.5,804.0 L644.4,812.3 L646.3,820.5 L648.1,828.4 L649.8,836.0 L651.4,842.9 L652.7,849.1 L653.8,854.4 L654.7,858.5 A7.5,7.5 0 0 0 669.3,855.5 L669.3,855.5 L668.5,851.3 L667.4,846.0 L666.1,839.8 L664.7,832.8 L663.2,825.3 L661.7,817.3 L660.2,809.0 L658.8,800.7 L657.5,792.5 L656.4,784.6 L655.5,777.2 L654.8,770.3 L654.3,763.8 L653.7,757.4 L653.2,751.1 L652.7,745.0 L652.4,739.1 L652.2,733.3 L652.2,727.7 L652.4,722.4 L652.8,717.3 L653.4,712.4 L654.3,707.8 L655.4,703.6 L656.9,699.6 L658.8,695.5 L661.0,691.2 L663.6,686.8 L666.4,682.4 L669.4,678.1 L672.4,673.9 L675.4,669.8 L678.3,666.0 L681.0,662.3 L683.5,658.7 L685.4,655.7 Z"/>
<path d="M468.9,276.0 L466.4,275.5 L463.3,275.0 L459.9,274.5 L456.2,274.0 L452.4,273.4 L448.4,272.8 L444.4,272.1 L440.4,271.4 L436.5,270.5 L432.8,269.7 L429.4,268.8 L425.9,267.5 L421.6,265.8 L417.2,264.3 L413.3,263.2 L410.0,262.4 L407.2,261.8 L404.9,261.2 L402.8,260.5 L400.9,259.7 L398.8,258.5 L396.7,256.7 L394.3,254.0 L391.8,250.3 L389.1,245.0 L386.3,237.9 L383.5,229.4 L380.8,219.9 L378.3,209.7 L376.0,199.3 L374.0,188.9 L372.3,178.9 L370.7,169.5 L369.4,161.2 L368.3,154.1 L367.4,148.7 A7.5,7.5 0 0 0 352.6,151.3 L352.6,151.3 L353.5,156.5 L354.6,163.4 L355.7,171.7 L357.0,181.1 L358.3,191.3 L359.6,202.0 L360.9,212.8 L362.2,223.4 L363.5,233.7 L364.8,243.3 L366.4,252.1 L368.2,259.7 L370.5,266.3 L373.1,272.3 L376.3,277.5 L379.9,282.2 L383.7,286.1 L387.6,289.4 L391.4,292.2 L394.8,294.6 L397.8,296.7 L400.2,298.6 L402.1,300.3 L404.1,302.5 L407.2,305.4 L410.9,308.6 L414.7,311.8 L418.5,314.9 L422.3,318.0 L426.0,321.0 L429.4,323.8 L432.6,326.4 L435.5,328.8 L437.9,330.9 L439.7,332.6 L441.1,334.0 Z"/>
<path d="M437.0,391.3 L432.1,392.3 L425.9,393.4 L418.2,394.4 L409.4,395.4 L399.8,396.4 L389.6,397.3 L379.1,398.2 L368.5,399.2 L357.9,400.2 L347.6,401.3 L337.8,402.6 L328.6,404.3 L319.7,406.4 L310.8,409.1 L301.8,412.1 L292.9,415.4 L284.1,418.8 L275.6,422.3 L267.5,425.7 L259.9,428.9 L253.0,431.8 L246.8,434.4 L241.6,436.4 L237.4,437.9 A7.5,7.5 0 0 0 242.6,452.1 L242.6,452.1 L247.0,450.4 L252.4,448.3 L258.7,445.8 L265.7,443.0 L273.2,440.0 L281.3,437.1 L289.7,434.2 L298.2,431.6 L306.9,429.3 L315.4,427.5 L323.6,426.3 L331.4,425.7 L339.3,425.8 L348.0,426.4 L357.4,427.6 L367.1,429.4 L376.9,431.5 L386.6,433.9 L396.1,436.6 L405.0,439.4 L413.4,442.2 L420.9,444.7 L427.6,447.0 L433.0,448.7 Z"/>
<path d="M515.3,652.0 L516.0,654.4 L517.0,657.6 L518.1,661.1 L519.3,665.0 L520.4,669.1 L521.6,673.4 L522.6,677.8 L523.6,682.2 L524.4,686.5 L525.0,690.5 L525.4,694.1 L525.7,697.4 L525.8,700.7 L525.9,704.0 L526.0,707.0 L526.0,709.8 L526.0,712.3 L526.0,714.6 L525.8,716.8 L525.6,718.8 L525.2,720.7 L524.6,722.5 L523.9,724.4 L522.9,726.2 L521.5,728.2 L519.6,730.4 L517.1,732.8 L514.2,735.2 L511.0,737.6 L507.7,740.0 L504.3,742.2 L501.1,744.3 L498.0,746.2 L495.2,748.0 L492.7,749.5 L490.8,750.8 A7.5,7.5 0 0 0 499.2,763.2 L499.2,763.2 L500.8,762.1 L503.0,760.8 L505.8,759.1 L508.9,757.2 L512.4,755.2 L516.1,753.0 L519.8,750.7 L523.6,748.3 L527.3,745.9 L530.8,743.3 L534.2,740.6 L537.1,737.8 L539.6,734.8 L541.7,731.9 L543.6,728.9 L545.2,725.9 L546.6,722.9 L547.8,719.9 L548.9,716.9 L549.9,714.0 L550.9,711.1 L551.9,708.3 L553.1,705.6 L554.3,702.6 L555.8,699.0 L557.4,695.0 L559.1,690.8 L560.9,686.4 L562.7,682.0 L564.7,677.6 L566.6,673.3 L568.5,669.3 L570.4,665.7 L572.1,662.5 L573.5,660.0 L574.7,658.0 Z"/>
<path d="M820.7,672.8 L818.7,675.4 L816.4,678.6 L814.0,682.2 L811.5,685.9 L808.8,689.8 L806.0,693.7 L802.9,697.5 L799.7,701.1 L796.4,704.4 L793.1,707.3 L789.9,709.7 L786.9,711.6 L783.7,713.0 L779.8,714.3 L775.4,715.3 L770.6,716.0 L765.7,716.5 L760.8,716.7 L756.0,716.8 L751.3,716.8 L747.0,716.7 L743.1,716.6 L739.7,716.5 L737.0,716.5 A7.5,7.5 0 0 0 737.0,731.5 L737.0,731.5 L739.5,731.5 L742.6,731.6 L746.4,731.8 L750.7,732.0 L755.5,732.3 L760.6,732.6 L765.9,732.9 L771.3,733.2 L776.8,733.3 L782.3,733.3 L787.7,733.1 L793.1,732.4 L798.5,731.4 L803.9,729.9 L809.4,728.3 L814.9,726.6 L820.3,724.8 L825.7,723.0 L830.8,721.4 L835.7,719.9 L840.2,718.7 L844.0,717.8 L847.0,717.4 L849.3,717.2 Z"/>
<path d="M828.8,692.6 L827.4,695.3 L825.6,698.8 L823.3,702.8 L820.6,707.2 L817.5,711.9 L814.2,716.8 L810.7,721.6 L807.1,726.4 L803.5,731.0 L799.9,735.3 L796.5,739.3 L793.4,743.0 L790.5,746.4 L787.6,749.9 L784.7,753.4 L781.9,756.8 L779.1,760.0 L776.5,763.2 L773.9,766.2 L771.6,768.9 L769.4,771.4 L767.5,773.6 L765.8,775.4 L764.5,776.9 A7.5,7.5 0 0 0 775.5,787.1 L775.5,787.1 L777.0,785.5 L778.7,783.6 L780.7,781.4 L782.9,778.9 L785.3,776.3 L787.9,773.6 L790.7,770.7 L793.7,767.8 L796.8,765.0 L800.0,762.2 L803.3,759.5 L806.6,757.0 L810.2,754.5 L814.4,751.8 L819.0,749.1 L824.0,746.4 L829.2,743.7 L834.5,741.2 L839.8,739.0 L845.0,736.9 L849.8,735.2 L854.3,733.6 L858.1,732.4 L861.2,731.4 Z"/>
<path d="M562.6,142.0 L563.7,139.0 L565.1,135.2 L566.5,130.9 L568.0,126.3 L569.8,121.4 L571.7,116.4 L573.8,111.3 L576.0,106.4 L578.4,101.8 L580.9,97.7 L583.3,94.1 L585.7,91.4 L588.3,89.0 L591.6,86.8 L595.3,84.6 L599.5,82.6 L603.8,80.8 L608.3,79.1 L612.7,77.6 L617.0,76.3 L621.1,75.1 L624.7,74.0 L628.0,73.0 L630.6,72.0 A7.5,7.5 0 0 0 625.4,58.0 L625.4,58.0 L623.2,58.8 L620.4,59.6 L616.8,60.7 L612.7,61.8 L608.2,63.2 L603.4,64.6 L598.5,66.3 L593.4,68.1 L588.4,70.2 L583.4,72.6 L578.7,75.4 L574.3,78.6 L570.2,82.4 L566.3,86.7 L562.6,91.3 L559.1,96.2 L555.6,101.2 L552.3,106.1 L549.1,111.0 L546.2,115.5 L543.5,119.7 L541.1,123.2 L539.1,126.0 L537.4,128.0 Z"/>
<path d="M578.4,138.3 L575.8,137.0 L572.6,135.3 L568.7,133.1 L564.4,130.6 L559.6,127.8 L554.6,124.9 L549.5,121.8 L544.2,118.7 L539.0,115.6 L533.8,112.7 L528.9,110.0 L524.1,107.5 L519.4,105.3 L514.5,103.2 L509.4,101.2 L504.4,99.2 L499.4,97.4 L494.5,95.7 L489.8,94.0 L485.5,92.5 L481.5,91.1 L477.9,89.9 L475.0,88.9 L472.7,88.0 A7.5,7.5 0 0 0 467.3,102.0 L467.3,102.0 L469.8,103.0 L472.9,104.1 L476.5,105.3 L480.5,106.7 L484.7,108.3 L489.2,110.0 L493.9,111.8 L498.6,113.7 L503.2,115.8 L507.7,118.0 L512.0,120.2 L515.9,122.5 L519.8,125.0 L524.0,128.0 L528.4,131.4 L532.8,135.0 L537.3,138.8 L541.6,142.6 L545.8,146.4 L549.7,150.1 L553.3,153.6 L556.5,156.8 L559.4,159.5 L561.6,161.7 Z"/>
<path d="M588.3,165.7 L585.8,166.4 L582.7,167.3 L579.2,168.4 L575.3,169.5 L571.2,170.7 L566.8,171.9 L562.3,173.0 L557.7,174.0 L553.1,174.8 L548.6,175.5 L544.3,176.0 L540.3,176.2 L536.3,176.2 L531.9,176.0 L527.1,175.5 L522.2,174.9 L517.3,174.1 L512.4,173.3 L507.6,172.4 L503.1,171.5 L499.0,170.6 L495.2,169.8 L492.0,169.1 L489.4,168.6 A7.5,7.5 0 0 0 486.6,183.4 L486.6,183.4 L489.0,183.8 L492.1,184.5 L495.8,185.3 L500.0,186.2 L504.5,187.3 L509.4,188.3 L514.4,189.4 L519.5,190.5 L524.7,191.5 L529.8,192.4 L534.8,193.2 L539.7,193.8 L544.5,194.1 L549.5,194.3 L554.6,194.4 L559.7,194.4 L564.8,194.3 L569.7,194.2 L574.5,194.2 L578.9,194.1 L583.0,194.1 L586.5,194.1 L589.4,194.1 L591.7,194.3 Z"/>
<path d="M620.3,209.7 L622.1,207.9 L624.2,205.6 L626.6,203.0 L629.2,200.2 L632.1,197.2 L635.2,194.1 L638.4,191.1 L641.6,188.2 L644.8,185.6 L648.0,183.2 L650.9,181.2 L653.4,179.6 L655.9,178.4 L658.7,177.3 L661.6,176.4 L664.7,175.6 L667.8,174.9 L670.9,174.4 L674.0,174.0 L676.9,173.6 L679.6,173.3 L682.1,173.0 L684.4,172.7 L686.2,172.4 A7.5,7.5 0 0 0 683.8,157.6 L683.8,157.6 L682.3,157.9 L680.3,158.1 L678.0,158.3 L675.2,158.6 L672.1,159.0 L668.8,159.3 L665.3,159.8 L661.7,160.4 L657.9,161.1 L654.1,162.0 L650.3,163.0 L646.6,164.4 L642.8,166.0 L638.8,167.9 L634.8,170.0 L630.7,172.2 L626.5,174.5 L622.4,176.7 L618.5,178.9 L614.7,180.9 L611.2,182.8 L608.1,184.3 L605.6,185.5 L603.7,186.3 Z"/>
<path d="M751.1,218.0 L753.6,216.4 L756.7,214.4 L760.3,212.1 L764.4,209.6 L768.8,206.8 L773.5,204.0 L778.3,201.1 L783.4,198.3 L788.5,195.5 L793.5,192.9 L798.4,190.4 L803.2,188.2 L808.0,186.2 L813.4,184.0 L819.0,181.9 L824.9,179.8 L830.8,177.7 L836.7,175.8 L842.4,173.9 L847.9,172.2 L852.9,170.7 L857.4,169.3 L861.2,168.1 L864.3,167.2 A7.5,7.5 0 0 0 859.7,152.8 L859.7,152.8 L856.8,153.8 L853.0,154.9 L848.5,156.3 L843.5,157.8 L838.0,159.4 L832.2,161.1 L826.1,162.9 L820.0,164.7 L813.9,166.5 L807.9,168.3 L802.2,170.0 L796.8,171.8 L791.5,173.5 L786.1,175.5 L780.5,177.5 L774.8,179.5 L769.3,181.5 L763.8,183.5 L758.6,185.4 L753.6,187.1 L749.1,188.7 L745.1,190.0 L741.7,191.1 L738.9,192.0 Z"/>
<path d="M752.6,214.4 L756.6,213.8 L761.5,213.0 L767.0,211.9 L773.0,210.7 L779.4,209.6 L786.1,208.5 L793.0,207.7 L800.0,207.0 L806.9,206.8 L813.5,206.9 L819.7,207.5 L825.4,208.5 L831.2,210.3 L837.6,213.0 L844.4,216.3 L851.4,220.2 L858.5,224.4 L865.4,228.9 L872.2,233.4 L878.5,237.8 L884.4,242.0 L889.6,245.7 L894.2,248.9 L897.9,251.3 A7.5,7.5 0 0 0 906.1,238.7 L906.1,238.7 L902.6,236.5 L898.3,233.4 L893.1,229.7 L887.3,225.5 L880.9,220.9 L874.1,216.1 L867.0,211.3 L859.7,206.5 L852.3,202.0 L845.0,197.9 L837.7,194.3 L830.6,191.5 L823.2,189.4 L815.6,187.9 L807.9,186.9 L800.0,186.3 L792.2,186.0 L784.6,185.8 L777.4,185.8 L770.6,185.9 L764.4,186.0 L759.1,186.0 L754.8,185.9 L751.4,185.6 Z"/>
<path d="M816.9,208.2 L818.4,209.7 L820.4,211.5 L822.5,213.2 L824.6,215.1 L826.9,217.0 L829.2,219.1 L831.4,221.2 L833.5,223.5 L835.4,225.7 L837.0,228.0 L838.4,230.2 L839.4,232.3 L840.1,234.8 L840.8,237.9 L841.2,241.6 L841.5,245.6 L841.6,249.8 L841.6,254.0 L841.4,258.2 L841.2,262.3 L841.0,266.0 L840.7,269.4 L840.6,272.4 L840.5,274.8 A7.5,7.5 0 0 0 855.5,275.2 L855.5,275.2 L855.6,273.1 L855.7,270.4 L856.0,267.1 L856.3,263.3 L856.6,259.1 L856.9,254.7 L857.2,250.2 L857.5,245.5 L857.6,240.9 L857.6,236.4 L857.3,232.0 L856.6,227.7 L855.6,223.6 L854.1,219.6 L852.5,215.7 L850.6,212.1 L848.7,208.6 L846.8,205.3 L844.9,202.2 L843.2,199.4 L841.7,196.9 L840.4,194.7 L839.7,193.1 L839.1,191.8 Z"/>
<path d="M1010.4,264.3 L1013.8,264.2 L1018.1,264.2 L1023.1,264.1 L1028.6,264.1 L1034.6,264.1 L1040.9,264.1 L1047.5,264.3 L1054.1,264.6 L1060.6,264.9 L1067.0,265.3 L1073.0,265.9 L1078.6,266.5 L1084.0,267.2 L1089.8,268.2 L1095.7,269.2 L1101.7,270.4 L1107.6,271.6 L1113.5,272.9 L1119.1,274.2 L1124.4,275.5 L1129.2,276.6 L1133.5,277.7 L1137.3,278.6 L1140.3,279.3 A7.5,7.5 0 0 0 1143.7,264.7 L1143.7,264.7 L1140.8,264.0 L1137.1,263.1 L1132.8,262.0 L1127.9,260.8 L1122.7,259.5 L1117.0,258.1 L1111.2,256.6 L1105.1,255.1 L1099.1,253.6 L1093.0,252.1 L1087.1,250.8 L1081.4,249.5 L1075.6,248.3 L1069.5,247.1 L1063.0,245.9 L1056.4,244.6 L1049.8,243.4 L1043.3,242.1 L1037.0,240.9 L1031.1,239.6 L1025.7,238.5 L1020.8,237.4 L1016.8,236.5 L1013.6,235.7 Z"/>
<path d="M992.1,292.0 L995.2,293.6 L999.2,295.6 L1003.9,298.0 L1009.1,300.7 L1014.8,303.6 L1020.7,306.8 L1026.7,310.2 L1032.8,313.6 L1038.9,317.1 L1044.6,320.5 L1050.1,323.9 L1055.1,327.0 L1060.0,330.2 L1065.0,333.5 L1070.1,337.0 L1075.2,340.5 L1080.3,344.1 L1085.2,347.6 L1089.9,351.0 L1094.3,354.3 L1098.4,357.2 L1102.0,359.9 L1105.1,362.2 L1107.6,364.0 A7.5,7.5 0 0 0 1116.4,352.0 L1116.4,352.0 L1114.0,350.1 L1110.9,347.9 L1107.3,345.2 L1103.3,342.2 L1098.9,338.9 L1094.3,335.4 L1089.4,331.7 L1084.5,327.9 L1079.5,324.1 L1074.5,320.3 L1069.6,316.6 L1064.9,313.0 L1060.1,309.3 L1054.9,305.4 L1049.5,301.3 L1043.9,297.0 L1038.3,292.7 L1032.8,288.4 L1027.5,284.2 L1022.6,280.2 L1018.0,276.5 L1014.0,273.2 L1010.6,270.3 L1007.9,268.0 Z"/>
<path d="M967.6,296.3 L967.4,295.2 L967.2,293.8 L967.0,292.0 L966.9,289.8 L966.8,287.3 L966.7,284.7 L966.6,282.0 L966.5,279.2 L966.3,276.3 L966.1,273.5 L965.8,270.6 L965.3,267.8 L964.6,265.1 L963.8,262.4 L962.8,259.8 L961.8,257.2 L960.7,254.8 L959.6,252.4 L958.6,250.1 L957.6,248.0 L956.7,246.1 L955.9,244.5 L955.4,243.2 L954.9,242.2 A7.5,7.5 0 0 0 941.1,247.8 L941.1,247.8 L941.6,249.1 L942.3,250.7 L943.0,252.4 L943.9,254.3 L944.8,256.3 L945.6,258.4 L946.4,260.5 L947.2,262.7 L947.8,264.8 L948.3,266.8 L948.6,268.6 L948.7,270.2 L948.6,271.7 L948.4,273.5 L948.1,275.6 L947.6,277.8 L947.1,280.0 L946.4,282.3 L945.7,284.5 L944.9,286.6 L944.2,288.6 L943.5,290.5 L942.9,292.3 L942.4,293.7 Z"/>
<path d="M986.4,462.3 L987.0,463.8 L987.7,465.7 L988.4,467.8 L989.3,470.0 L990.2,472.5 L991.1,475.1 L992.0,477.9 L992.9,480.8 L993.8,483.8 L994.6,486.8 L995.3,489.8 L995.9,492.8 L996.5,496.1 L997.0,499.8 L997.5,503.8 L997.9,508.1 L998.3,512.4 L998.6,516.8 L998.8,521.0 L999.0,525.1 L999.2,528.8 L999.3,532.2 L999.4,535.1 L999.5,537.3 A7.5,7.5 0 0 0 1014.5,536.7 L1014.5,536.7 L1014.4,534.5 L1014.3,531.7 L1014.2,528.4 L1014.2,524.6 L1014.1,520.5 L1014.0,516.2 L1014.0,511.8 L1014.0,507.3 L1014.0,503.0 L1014.1,498.8 L1014.1,494.8 L1014.1,491.2 L1014.0,487.7 L1014.0,484.3 L1013.9,480.9 L1013.8,477.6 L1013.7,474.3 L1013.6,471.2 L1013.6,468.3 L1013.5,465.6 L1013.5,463.1 L1013.5,461.0 L1013.5,459.2 L1013.6,457.7 Z"/>
<path d="M173.3,531.0 L171.0,529.6 L167.9,528.1 L164.7,526.6 L161.3,525.0 L157.8,523.4 L154.2,521.6 L150.8,519.6 L147.5,517.5 L144.5,515.3 L141.9,513.0 L139.8,510.7 L138.2,508.3 L136.9,505.4 L135.7,501.4 L134.7,496.6 L133.9,491.3 L133.4,485.7 L133.0,479.9 L132.8,474.2 L132.7,468.7 L132.7,463.5 L132.7,458.8 L132.6,454.8 L132.5,451.6 A7.5,7.5 0 0 0 117.5,452.4 L117.5,452.4 L117.6,455.2 L117.7,458.9 L117.7,463.5 L117.6,468.7 L117.6,474.4 L117.6,480.3 L117.7,486.5 L117.9,492.7 L118.3,498.8 L119.0,504.7 L120.1,510.3 L121.8,515.7 L124.1,520.6 L127.1,525.2 L130.4,529.3 L134.0,533.2 L137.7,536.7 L141.4,539.9 L145.0,542.9 L148.3,545.6 L151.3,548.0 L153.8,550.1 L155.5,551.7 L156.7,553.0 Z"/>
<path d="M145.3,539.0 L143.1,540.4 L140.1,542.0 L136.4,543.9 L132.0,546.0 L127.2,548.3 L122.2,550.6 L117.1,553.0 L112.0,555.4 L107.2,557.9 L102.6,560.4 L98.4,563.0 L94.8,565.9 L91.7,569.3 L89.3,572.9 L87.7,576.7 L86.5,580.4 L85.8,584.0 L85.4,587.4 L85.1,590.6 L85.0,593.6 L84.9,596.2 L84.9,598.3 L84.8,599.7 L84.6,600.7 A7.5,7.5 0 0 0 99.4,603.3 L99.4,603.3 L99.7,601.4 L99.9,599.0 L100.0,596.6 L100.0,594.1 L100.2,591.6 L100.4,589.1 L100.8,586.6 L101.3,584.4 L102.0,582.3 L102.9,580.6 L104.0,579.2 L105.2,578.1 L107.3,576.8 L110.4,575.3 L114.3,573.8 L118.8,572.3 L123.7,570.9 L128.8,569.7 L134.0,568.6 L139.0,567.6 L143.7,566.8 L148.0,566.1 L151.8,565.5 L154.7,565.0 Z"/>
<path d="M258.2,582.4 L258.0,583.7 L257.7,585.5 L257.1,587.7 L256.4,590.3 L255.5,593.3 L254.6,596.4 L253.7,599.7 L252.8,603.1 L252.0,606.6 L251.3,610.2 L250.8,613.7 L250.6,617.4 L250.6,621.0 L251.0,624.6 L251.6,628.2 L252.3,631.7 L253.0,635.2 L253.9,638.6 L254.7,641.9 L255.5,644.9 L256.2,647.7 L256.9,650.1 L257.3,652.0 L257.7,653.5 A7.5,7.5 0 0 0 272.3,650.5 L272.3,650.5 L272.0,648.7 L271.4,646.4 L270.8,643.9 L270.1,641.2 L269.4,638.3 L268.8,635.2 L268.2,632.1 L267.7,629.0 L267.3,626.0 L267.2,623.2 L267.2,620.7 L267.4,618.6 L267.9,616.7 L268.6,614.4 L269.6,612.0 L270.8,609.5 L272.2,606.9 L273.6,604.4 L275.2,601.9 L276.7,599.5 L278.2,597.3 L279.6,595.2 L280.8,593.2 L281.8,591.6 Z"/>
<path d="M229.1,572.5 L227.3,573.7 L225.2,575.3 L222.9,577.0 L220.6,578.9 L218.0,580.8 L215.3,582.7 L212.6,584.6 L209.7,586.4 L206.8,588.0 L204.0,589.4 L201.3,590.4 L198.7,591.2 L195.9,591.8 L192.5,592.1 L188.7,592.3 L184.6,592.3 L180.4,592.1 L176.1,591.8 L172.0,591.4 L168.0,591.0 L164.3,590.5 L160.9,590.1 L158.0,589.7 L155.7,589.5 A7.5,7.5 0 0 0 154.3,604.5 L154.3,604.5 L156.4,604.7 L159.1,605.0 L162.4,605.4 L166.1,605.9 L170.2,606.5 L174.5,607.1 L179.0,607.6 L183.6,608.2 L188.1,608.6 L192.6,608.9 L197.0,609.0 L201.3,608.8 L205.5,608.2 L209.7,607.4 L213.7,606.3 L217.7,605.2 L221.6,603.9 L225.3,602.6 L228.8,601.4 L232.0,600.2 L234.9,599.2 L237.4,598.4 L239.3,597.8 L240.9,597.5 Z"/>
<path d="M206.4,588.5 L206.2,589.1 L205.8,590.0 L205.2,591.0 L204.3,592.3 L203.4,593.8 L202.3,595.3 L201.2,597.0 L200.0,598.6 L198.8,600.4 L197.7,602.3 L196.6,604.2 L195.6,606.3 L194.8,608.5 L194.3,610.6 L193.9,612.6 L193.6,614.6 L193.4,616.6 L193.2,618.4 L193.1,620.2 L192.9,621.8 L192.8,623.2 L192.8,624.4 L192.7,625.3 L192.6,626.0 A7.5,7.5 0 0 0 207.4,628.0 L207.4,628.0 L207.6,627.0 L207.7,625.8 L207.8,624.5 L207.9,623.1 L208.1,621.7 L208.3,620.2 L208.6,618.7 L208.9,617.4 L209.2,616.1 L209.6,615.0 L210.0,614.2 L210.4,613.7 L210.9,613.3 L211.6,612.6 L212.5,611.9 L213.6,611.1 L214.8,610.3 L216.1,609.6 L217.4,608.8 L218.8,608.1 L220.1,607.4 L221.4,606.8 L222.6,606.1 L223.6,605.5 Z"/>
<path d="M309.9,718.3 L310.0,719.2 L309.9,720.3 L309.8,721.9 L309.5,723.8 L309.2,726.0 L308.9,728.3 L308.5,730.7 L308.1,733.3 L307.8,735.9 L307.6,738.5 L307.5,741.2 L307.5,744.0 L307.9,746.7 L308.4,749.4 L309.0,751.9 L309.8,754.4 L310.6,756.8 L311.4,759.2 L312.1,761.4 L312.9,763.5 L313.5,765.3 L314.1,766.9 L314.5,768.1 L314.8,769.1 A7.5,7.5 0 0 0 329.2,764.9 L329.2,764.9 L328.8,763.6 L328.3,762.1 L327.7,760.4 L327.1,758.5 L326.5,756.6 L325.9,754.6 L325.4,752.5 L324.9,750.5 L324.6,748.5 L324.4,746.7 L324.3,745.2 L324.5,744.0 L324.7,742.9 L325.2,741.5 L325.8,739.9 L326.5,738.3 L327.4,736.5 L328.4,734.8 L329.4,733.1 L330.5,731.5 L331.5,729.9 L332.5,728.4 L333.4,727.0 L334.1,725.7 Z"/>
<path d="M362.9,688.3 L362.8,689.7 L362.6,691.3 L362.3,693.5 L361.9,696.1 L361.3,698.9 L360.8,702.0 L360.2,705.2 L359.6,708.5 L359.1,711.8 L358.8,715.2 L358.6,718.6 L358.6,722.0 L358.9,725.4 L359.5,728.7 L360.3,731.9 L361.2,735.1 L362.2,738.2 L363.3,741.2 L364.3,744.1 L365.2,746.7 L366.1,749.1 L366.9,751.2 L367.4,752.9 L367.8,754.2 A7.5,7.5 0 0 0 382.2,749.8 L382.2,749.8 L381.7,748.2 L381.0,746.3 L380.3,744.1 L379.4,741.7 L378.6,739.2 L377.7,736.5 L377.0,733.8 L376.3,731.1 L375.8,728.5 L375.5,726.0 L375.3,723.8 L375.4,722.0 L375.7,720.2 L376.2,718.1 L377.0,715.8 L377.9,713.3 L379.0,710.8 L380.2,708.3 L381.5,705.8 L382.8,703.5 L384.1,701.3 L385.2,699.2 L386.3,697.2 L387.1,695.7 Z"/>
<path d="M382.5,691.6 L383.0,693.8 L383.6,696.5 L384.3,700.1 L385.1,704.1 L385.9,708.6 L386.8,713.5 L387.7,718.5 L388.8,723.6 L390.1,728.7 L391.6,733.8 L393.2,738.7 L395.2,743.4 L397.7,747.9 L400.5,752.3 L403.6,756.6 L406.9,760.9 L410.2,765.0 L413.7,769.0 L417.0,772.8 L420.2,776.4 L423.1,779.6 L425.6,782.5 L427.6,784.8 L429.2,786.7 A7.5,7.5 0 0 0 440.8,777.3 L440.8,777.3 L439.1,775.2 L436.9,772.6 L434.3,769.7 L431.5,766.4 L428.4,762.9 L425.3,759.2 L422.3,755.4 L419.3,751.4 L416.6,747.5 L414.2,743.6 L412.2,740.0 L410.8,736.6 L409.7,733.2 L408.8,729.3 L408.1,725.1 L407.7,720.6 L407.4,715.9 L407.2,711.3 L407.2,706.7 L407.3,702.4 L407.4,698.3 L407.5,694.5 L407.6,691.1 L407.5,688.4 Z"/>
<path d="M135.3,722.9 L135.0,723.3 L134.6,723.8 L133.8,724.5 L132.8,725.3 L131.6,726.1 L130.3,727.0 L128.9,728.0 L127.5,729.0 L126.0,730.0 L124.5,731.2 L123.0,732.4 L121.5,733.8 L120.1,735.4 L119.0,737.0 L118.1,738.6 L117.3,740.1 L116.5,741.6 L115.9,743.0 L115.3,744.3 L114.8,745.5 L114.3,746.6 L113.9,747.4 L113.6,748.0 L113.4,748.5 A7.5,7.5 0 0 0 126.6,755.5 L126.6,755.5 L127.0,754.8 L127.5,753.8 L127.9,752.8 L128.4,751.8 L128.9,750.8 L129.5,749.8 L130.1,748.8 L130.7,747.9 L131.2,747.2 L131.8,746.6 L132.3,746.2 L132.5,746.2 L132.8,746.1 L133.4,746.0 L134.2,745.8 L135.2,745.7 L136.4,745.6 L137.5,745.5 L138.8,745.4 L140.0,745.4 L141.2,745.4 L142.4,745.3 L143.7,745.3 L144.7,745.1 Z"/>
<path d="M316.9,421.2 L317.8,422.8 L319.0,424.8 L320.4,427.1 L321.9,429.6 L323.5,432.3 L325.0,435.1 L326.5,438.0 L327.9,441.0 L329.2,443.9 L330.3,446.6 L331.2,449.2 L331.8,451.4 L332.3,453.5 L332.6,455.7 L332.9,458.0 L333.0,460.5 L333.1,462.9 L333.0,465.3 L333.0,467.6 L332.9,469.7 L332.7,471.8 L332.6,473.7 L332.5,475.4 L332.5,476.8 A7.5,7.5 0 0 0 347.5,477.2 L347.5,477.2 L347.5,476.0 L347.6,474.6 L347.7,472.8 L347.9,470.7 L348.0,468.4 L348.2,465.9 L348.4,463.2 L348.5,460.4 L348.5,457.6 L348.5,454.6 L348.4,451.6 L348.2,448.6 L347.8,445.5 L347.3,442.3 L346.8,438.9 L346.2,435.5 L345.6,432.0 L345.0,428.5 L344.5,425.2 L344.0,422.0 L343.7,419.1 L343.4,416.5 L343.2,414.4 L343.1,412.8 Z"/>
<path d="M312.1,412.3 L311.8,411.9 L311.5,411.4 L311.2,410.6 L310.8,409.5 L310.5,408.3 L310.2,407.1 L309.9,405.7 L309.5,404.3 L309.2,402.8 L308.9,401.3 L308.5,399.8 L308.0,398.2 L307.5,396.6 L306.8,395.2 L306.1,393.9 L305.4,392.7 L304.8,391.6 L304.1,390.5 L303.5,389.5 L302.9,388.6 L302.4,387.9 L302.0,387.2 L301.8,386.8 L301.6,386.4 A7.5,7.5 0 0 0 288.4,393.6 L288.4,393.6 L288.7,394.2 L289.2,394.9 L289.6,395.6 L290.0,396.4 L290.5,397.2 L290.9,398.0 L291.3,398.8 L291.6,399.6 L291.8,400.3 L292.0,401.0 L292.0,401.5 L292.0,401.8 L291.8,402.2 L291.7,402.7 L291.5,403.5 L291.2,404.3 L290.9,405.2 L290.5,406.2 L290.0,407.2 L289.5,408.1 L289.1,409.0 L288.6,410.0 L288.2,410.9 L287.9,411.7 Z"/>
<path d="M388.5,244.1 L386.5,243.0 L384.0,241.6 L381.0,239.7 L377.7,237.6 L373.9,235.2 L370.0,232.7 L365.9,230.0 L361.6,227.3 L357.3,224.6 L352.9,222.0 L348.5,219.6 L344.2,217.4 L339.8,215.3 L335.1,213.3 L330.2,211.4 L325.2,209.5 L320.1,207.7 L315.2,205.9 L310.4,204.3 L305.9,202.7 L301.7,201.3 L298.1,200.0 L295.1,198.9 L292.7,198.0 A7.5,7.5 0 0 0 287.3,212.0 L287.3,212.0 L289.8,213.0 L293.0,214.1 L296.7,215.4 L300.8,216.9 L305.2,218.5 L309.8,220.3 L314.6,222.2 L319.3,224.2 L323.9,226.3 L328.2,228.4 L332.2,230.5 L335.8,232.6 L339.1,234.9 L342.5,237.5 L346.0,240.4 L349.5,243.4 L352.9,246.6 L356.3,249.8 L359.4,253.0 L362.3,256.1 L365.1,259.0 L367.5,261.7 L369.7,264.0 L371.5,265.9 Z"/>
<path d="M428.0,289.6 L428.4,287.4 L428.9,284.6 L429.6,281.2 L430.4,277.3 L431.4,273.1 L432.5,268.6 L433.6,264.0 L434.7,259.3 L435.8,254.7 L436.8,250.1 L437.6,245.7 L438.3,241.5 L438.7,237.3 L438.9,233.1 L438.9,229.0 L438.9,224.8 L438.7,220.8 L438.5,216.9 L438.3,213.2 L438.1,209.7 L437.8,206.6 L437.7,203.9 L437.5,201.6 L437.5,199.8 A7.5,7.5 0 0 0 422.5,200.2 L422.5,200.2 L422.6,202.2 L422.7,204.7 L422.9,207.6 L423.0,210.7 L423.2,214.0 L423.3,217.5 L423.4,221.1 L423.3,224.8 L423.2,228.5 L422.9,232.0 L422.4,235.4 L421.7,238.5 L420.8,241.8 L419.6,245.4 L418.1,249.2 L416.4,253.3 L414.5,257.3 L412.5,261.4 L410.5,265.3 L408.5,269.0 L406.5,272.4 L404.7,275.5 L403.2,278.2 L402.0,280.4 Z"/>
<path d="M381.4,250.0 L380.4,250.2 L379.1,250.3 L377.4,250.4 L375.4,250.5 L373.1,250.5 L370.6,250.6 L368.1,250.6 L365.4,250.7 L362.7,250.8 L360.0,251.0 L357.3,251.3 L354.6,251.9 L351.9,252.6 L349.4,253.6 L347.0,254.7 L344.7,255.8 L342.5,257.0 L340.4,258.2 L338.4,259.4 L336.5,260.5 L334.9,261.4 L333.5,262.3 L332.4,262.9 L331.5,263.3 A7.5,7.5 0 0 0 338.5,276.7 L338.5,276.7 L339.6,276.1 L341.0,275.3 L342.5,274.4 L344.1,273.5 L345.8,272.5 L347.6,271.5 L349.5,270.6 L351.3,269.8 L353.1,269.1 L354.8,268.6 L356.3,268.3 L357.4,268.1 L358.7,268.2 L360.2,268.3 L362.0,268.6 L363.9,269.0 L365.9,269.6 L368.0,270.2 L370.0,270.9 L372.0,271.6 L373.8,272.3 L375.6,273.0 L377.3,273.6 L378.6,274.0 Z"/>
<path d="M431.6,291.0 L429.1,292.0 L425.8,293.2 L421.7,294.6 L416.9,296.1 L411.7,297.8 L406.2,299.6 L400.6,301.4 L395.0,303.3 L389.6,305.4 L384.5,307.5 L379.7,309.7 L375.4,312.1 L371.8,314.8 L368.6,317.5 L365.7,320.4 L363.1,323.4 L360.7,326.5 L358.7,329.7 L356.9,333.0 L355.4,336.2 L354.2,339.5 L353.3,342.8 L352.6,346.1 L352.3,349.6 L352.4,353.5 L353.3,357.4 L354.6,361.0 L356.2,364.5 L358.0,367.8 L359.9,370.9 L361.8,373.8 L363.6,376.5 L365.3,378.9 L366.8,381.0 L367.8,382.5 L368.5,383.7 A7.5,7.5 0 0 0 381.5,376.3 L381.5,376.3 L380.5,374.6 L379.2,372.5 L377.6,370.3 L376.0,368.0 L374.3,365.5 L372.6,362.9 L371.1,360.3 L369.8,357.7 L368.7,355.4 L368.0,353.3 L367.7,351.7 L367.7,350.4 L368.0,348.8 L368.5,346.8 L369.2,344.8 L370.1,342.6 L371.2,340.5 L372.6,338.4 L374.1,336.4 L375.8,334.4 L377.7,332.5 L379.9,330.8 L382.2,329.2 L384.6,327.9 L387.4,326.6 L391.1,325.5 L395.5,324.3 L400.5,323.3 L405.8,322.4 L411.3,321.7 L416.7,321.0 L422.0,320.5 L426.9,320.1 L431.4,319.7 L435.3,319.3 L438.4,319.0 Z"/>
<path d="M633.9,731.8 L633.5,732.9 L632.9,734.4 L632.2,736.1 L631.5,737.9 L630.6,739.9 L629.7,742.0 L628.7,744.2 L627.6,746.3 L626.5,748.5 L625.4,750.6 L624.2,752.6 L623.1,754.6 L621.9,756.5 L620.5,758.6 L619.0,760.8 L617.4,763.0 L615.8,765.2 L614.1,767.4 L612.5,769.5 L611.0,771.4 L609.5,773.2 L608.2,774.8 L607.1,776.2 L606.2,777.2 A7.5,7.5 0 0 0 617.8,786.8 L617.8,786.8 L618.7,785.7 L619.8,784.4 L621.1,782.8 L622.6,781.0 L624.2,779.1 L626.0,777.1 L627.8,775.1 L629.7,773.0 L631.6,771.0 L633.4,769.0 L635.2,767.2 L636.9,765.4 L638.6,763.8 L640.3,762.0 L642.1,760.3 L643.9,758.6 L645.7,756.9 L647.5,755.2 L649.3,753.7 L651.0,752.3 L652.5,751.0 L653.9,749.9 L655.1,749.0 L656.1,748.2 Z"/>
<path d="M638.5,760.6 L639.3,760.9 L640.2,761.5 L641.4,762.2 L642.8,763.2 L644.4,764.3 L646.1,765.6 L647.9,766.9 L649.8,768.2 L651.7,769.5 L653.7,770.8 L655.7,772.1 L657.9,773.2 L660.1,774.2 L662.3,775.0 L664.6,775.7 L666.8,776.3 L669.0,776.8 L671.1,777.3 L673.1,777.7 L675.0,778.1 L676.7,778.4 L678.1,778.8 L679.2,779.0 L680.1,779.2 A7.5,7.5 0 0 0 683.9,764.8 L683.9,764.8 L682.8,764.5 L681.4,764.1 L679.9,763.8 L678.3,763.4 L676.6,763.0 L674.8,762.5 L673.0,762.0 L671.3,761.4 L669.7,760.7 L668.2,760.1 L667.0,759.4 L666.1,758.8 L665.3,758.1 L664.4,757.1 L663.4,755.9 L662.4,754.6 L661.4,753.2 L660.4,751.7 L659.5,750.1 L658.6,748.6 L657.8,747.2 L657.0,745.8 L656.2,744.5 L655.5,743.4 Z"/>
<path d="M653.2,694.7 L654.2,696.3 L655.3,698.3 L656.7,701.0 L658.2,704.2 L659.9,707.6 L661.7,711.4 L663.6,715.2 L665.6,719.2 L667.8,723.1 L670.1,727.0 L672.6,730.7 L675.3,734.2 L678.3,737.4 L681.6,740.5 L685.1,743.4 L688.7,746.3 L692.4,749.0 L696.1,751.6 L699.6,754.1 L703.0,756.3 L706.0,758.4 L708.7,760.2 L710.8,761.7 L712.5,763.0 A7.5,7.5 0 0 0 721.5,751.0 L721.5,751.0 L719.7,749.6 L717.3,747.9 L714.5,746.0 L711.5,743.9 L708.3,741.7 L705.0,739.3 L701.7,736.7 L698.5,734.1 L695.5,731.4 L692.8,728.8 L690.5,726.2 L688.7,723.8 L687.2,721.3 L685.7,718.4 L684.4,715.1 L683.1,711.5 L682.0,707.9 L681.0,704.1 L680.1,700.4 L679.3,696.9 L678.6,693.5 L678.0,690.4 L677.3,687.6 L676.8,685.3 Z"/>
<path d="M528.0,698.5 L528.1,699.8 L528.2,701.6 L528.1,703.9 L528.1,706.5 L528.0,709.5 L527.8,712.7 L527.7,716.0 L527.7,719.4 L527.7,722.9 L527.9,726.4 L528.2,729.9 L528.8,733.3 L529.7,736.7 L530.8,740.0 L532.1,743.2 L533.5,746.3 L535.0,749.4 L536.5,752.4 L538.0,755.2 L539.4,757.8 L540.7,760.2 L541.7,762.2 L542.6,763.9 L543.2,765.2 A7.5,7.5 0 0 0 556.8,758.8 L556.8,758.8 L556.0,757.2 L555.1,755.3 L553.9,753.1 L552.7,750.8 L551.4,748.3 L550.1,745.6 L548.9,742.9 L547.8,740.2 L546.8,737.5 L546.0,735.0 L545.5,732.7 L545.2,730.7 L545.2,728.7 L545.3,726.4 L545.7,723.9 L546.2,721.1 L546.8,718.4 L547.5,715.6 L548.4,712.8 L549.2,710.2 L550.0,707.7 L550.8,705.4 L551.5,703.3 L552.0,701.5 Z"/>
<path d="M443.4,651.7 L443.5,652.3 L443.6,653.2 L443.6,654.4 L443.5,655.8 L443.4,657.4 L443.2,659.1 L443.1,660.9 L442.9,662.8 L442.8,664.8 L442.6,666.8 L442.6,668.9 L442.7,671.0 L442.9,673.1 L443.3,675.1 L443.8,677.0 L444.4,678.8 L444.9,680.5 L445.5,682.2 L446.0,683.8 L446.5,685.2 L447.0,686.5 L447.3,687.6 L447.6,688.4 L447.8,689.0 A7.5,7.5 0 0 0 462.2,685.0 L462.2,685.0 L462.0,684.1 L461.6,682.9 L461.2,681.7 L460.8,680.5 L460.4,679.2 L460.0,677.8 L459.7,676.4 L459.4,675.1 L459.2,673.8 L459.2,672.6 L459.2,671.7 L459.3,671.0 L459.5,670.4 L459.9,669.5 L460.3,668.4 L460.9,667.3 L461.5,666.1 L462.3,664.9 L463.0,663.7 L463.8,662.5 L464.6,661.4 L465.4,660.3 L466.1,659.2 L466.6,658.3 Z"/>
 </g>
 <path d="M450,300 C500,285 560,262 600,240 C640,232 680,228 705,225 C715,290 790,335 870,335 C885,380 875,430 878,470 C880,520 885,560 892,602 C905,630 920,645 950,650 L900,780 C870,755 850,745 822,747 C790,720 740,670 660,652 C600,650 560,665 520,662 C480,660 445,655 430,630 C410,600 400,570 410,527 C420,480 445,420 440,380 C435,340 440,315 450,300 Z" fill="url(#soma)"/>
 <path d="M815,600 C870,625 925,665 975,705 L955,770 C915,750 865,742 812,740 C780,700 790,650 815,600 Z" fill="url(#hill)"/>
 <g fill="#3a62c8" opacity="0.7">
  <circle cx="665" cy="268" r="14"/><circle cx="600" cy="305" r="12"/><circle cx="495" cy="352" r="13"/>
  <circle cx="570" cy="385" r="11"/><circle cx="630" cy="402" r="12"/><circle cx="735" cy="380" r="17"/>
  <circle cx="490" cy="445" r="13"/><circle cx="548" cy="455" r="12"/><circle cx="460" cy="520" r="11"/>
  <circle cx="545" cy="530" r="12"/><circle cx="465" cy="600" r="11"/><circle cx="530" cy="600" r="13"/>
  <circle cx="600" cy="595" r="13"/><circle cx="660" cy="615" r="10"/><circle cx="730" cy="570" r="9"/>
  <circle cx="790" cy="420" r="10"/><circle cx="820" cy="560" r="12"/><circle cx="835" cy="625" r="11"/>
  <circle cx="868" cy="680" r="14"/><circle cx="668" cy="355" r="9"/>
 </g>
 <ellipse cx="662" cy="499" rx="86" ry="77" fill="url(#nuc)"/>
 <path d="M640,499 Q648,478 668,480 Q690,486 688,505 Q678,522 657,520 Q636,512 640,499 Z" fill="none" stroke="#a88a10" stroke-width="6"/>
</g>


<g id="openL1" transform="translate(260,330) scale(0.166)">
  <g transform="rotate(20 212 285)">
   <ellipse cx="212" cy="285" rx="128" ry="188" fill="#3f64d8"/>
   <ellipse cx="218" cy="287" rx="108" ry="168" fill="#5a48d2"/>
   <ellipse cx="222" cy="290" rx="92" ry="146" fill="none" stroke="#c8baf8" stroke-width="8"/>
   <ellipse cx="226" cy="293" rx="74" ry="118" fill="#6650d8"/>
   <ellipse cx="230" cy="296" rx="58" ry="92" fill="none" stroke="#b8a8f4" stroke-width="7"/>
   <ellipse cx="234" cy="300" rx="42" ry="62" fill="#3a2cb0"/>
  </g>
  <linearGradient id="coreL" gradientUnits="userSpaceOnUse" x1="-60" y1="180" x2="200" y2="300"><stop offset="0" stop-color="#2a50c0" stop-opacity="0"/><stop offset="0.5" stop-color="#1e3cb0" stop-opacity="0.9"/><stop offset="1" stop-color="#1a2c98"/></linearGradient>
  <path d="M-90,40 C20,110 140,210 225,272 C242,292 238,320 215,330 C140,318 40,290 -90,290 Z" fill="url(#coreL)"/>
</g>

<!--RIGHT-->

<g id="muscleR" transform="translate(720,630) scale(0.40625)">
  <defs>
   <clipPath id="cmR"><path d="M118,378 C230,320 400,220 560,140 C700,98 850,80 1040,85 L1052,92 L1030,100 L1078,122 L1056,130 L1106,132 L1076,148 L1092,160 L1082,164 C980,250 880,320 760,370 C620,405 480,412 300,412 L200,412 L160,405 L190,395 L130,392 L165,380 Z"/></clipPath>
   <clipPath id="cmRi"><ellipse cx="636" cy="230" rx="372" ry="86" transform="rotate(-17.5 636 230)"/></clipPath>
   <linearGradient id="mR2" gradientUnits="userSpaceOnUse" x1="600" y1="90" x2="640" y2="410">
    <stop offset="0" stop-color="#a83030"/>
    <stop offset="0.5" stop-color="#b43a3a"/>
    <stop offset="1" stop-color="#b84444"/>
   </linearGradient>
   <radialGradient id="mRi2" gradientUnits="userSpaceOnUse" cx="700" cy="210" r="400" gradientTransform="translate(700 210) scale(1 0.4) rotate(-17.5) translate(-700 -210)">
    <stop offset="0" stop-color="#d89088"/>
    <stop offset="0.6" stop-color="#cc7a76"/>
    <stop offset="1" stop-color="#c06464"/>
   </radialGradient>
  </defs>
  <path d="M48,385 L125,374 L205,412 L62,447 Q38,415 48,385 Z" fill="#f5cfcb"/>
  <path d="M1030,82 L1200,50 Q1228,60 1228,92 Q1228,112 1222,118 L1080,162 Z" fill="#f5cfcb"/>
  <path d="M118,378 C230,320 400,220 560,140 C700,98 850,80 1040,85 L1052,92 L1030,100 L1078,122 L1056,130 L1106,132 L1076,148 L1092,160 L1082,164 C980,250 880,320 760,370 C620,405 480,412 300,412 L200,412 L160,405 L190,395 L130,392 L165,380 Z" fill="url(#mR2)"/>
  <g clip-path="url(#cmR)">
   <g fill="none" stroke="#801818" stroke-opacity="0.2" stroke-width="4"><path d="M126,381 C424,196 802,57 1090,111"/><path d="M128,382 C430,209 808,71 1090,114"/><path d="M129,384 C438,221 812,85 1090,116"/><path d="M131,385 C444,234 818,99 1090,119"/><path d="M133,387 C452,246 822,113 1090,121"/><path d="M135,388 C458,259 828,127 1090,124"/><path d="M136,390 C466,271 832,141 1090,126"/><path d="M138,391 C472,284 838,155 1090,129"/><path d="M140,393 C480,296 842,169 1090,131"/><path d="M142,394 C486,309 848,183 1090,134"/><path d="M143,396 C494,321 852,197 1090,136"/><path d="M145,397 C500,334 858,211 1090,139"/><path d="M147,399 C508,346 862,225 1090,141"/><path d="M149,400 C514,359 868,239 1090,144"/><path d="M150,402 C522,371 872,253 1090,146"/><path d="M152,403 C528,384 878,267 1090,149"/><path d="M154,405 C536,396 882,281 1090,151"/><path d="M156,406 C542,409 888,295 1090,154"/><path d="M157,408 C550,421 892,309 1090,156"/><path d="M159,409 C556,434 898,323 1090,159"/></g>
   <g fill="none" stroke="#ffffff" stroke-opacity="0.08" stroke-width="3"><path d="M127,381 C426,201 804,63 1090,112"/><path d="M128,383 C433,214 810,77 1090,115"/><path d="M130,384 C440,226 814,91 1090,117"/><path d="M132,386 C447,239 820,105 1090,120"/><path d="M134,387 C454,251 824,119 1090,122"/><path d="M135,389 C461,264 830,133 1090,125"/><path d="M137,390 C468,276 834,147 1090,127"/><path d="M139,392 C475,289 840,161 1090,130"/><path d="M141,393 C482,301 844,175 1090,132"/><path d="M142,395 C489,314 850,189 1090,135"/><path d="M144,396 C496,326 854,203 1090,137"/><path d="M146,398 C503,339 860,217 1090,140"/><path d="M148,399 C510,351 864,231 1090,142"/><path d="M149,401 C517,364 870,245 1090,145"/><path d="M151,402 C524,376 874,259 1090,147"/><path d="M153,404 C531,389 880,273 1090,150"/><path d="M155,405 C538,401 884,287 1090,152"/><path d="M156,407 C545,414 890,301 1090,155"/><path d="M158,408 C552,426 894,315 1090,157"/><path d="M160,410 C559,439 900,329 1090,160"/></g>
  </g>
  <ellipse cx="634" cy="231" rx="384" ry="93" transform="rotate(-17.5 634 231)" fill="#c25050" opacity="0.8"/>
  <ellipse cx="636" cy="230" rx="372" ry="86" transform="rotate(-17.5 636 230)" fill="url(#mRi2)"/>
  <g clip-path="url(#cmRi)"><g transform="rotate(-17.5 636 230)">
   <g fill="none" stroke="#a04040" stroke-opacity="0.28" stroke-width="4"><path d="M244,206 Q636,129 1028,206"/><path d="M244,209 Q636,143 1028,209"/><path d="M244,212 Q636,156 1028,212"/><path d="M244,215 Q636,170 1028,215"/><path d="M244,219 Q636,183 1028,219"/><path d="M244,222 Q636,196 1028,222"/><path d="M244,225 Q636,210 1028,225"/><path d="M244,228 Q636,223 1028,228"/><path d="M244,232 Q636,237 1028,232"/><path d="M244,235 Q636,250 1028,235"/><path d="M244,238 Q636,264 1028,238"/><path d="M244,241 Q636,277 1028,241"/><path d="M244,245 Q636,290 1028,245"/><path d="M244,248 Q636,304 1028,248"/><path d="M244,251 Q636,317 1028,251"/><path d="M244,254 Q636,331 1028,254"/></g>
   <g fill="none" stroke="#ffffff" stroke-opacity="0.12" stroke-width="3"><path d="M244,207 Q636,136 1028,207"/><path d="M244,211 Q636,149 1028,211"/><path d="M244,214 Q636,163 1028,214"/><path d="M244,217 Q636,176 1028,217"/><path d="M244,220 Q636,190 1028,220"/><path d="M244,224 Q636,203 1028,224"/><path d="M244,227 Q636,217 1028,227"/><path d="M244,230 Q636,230 1028,230"/><path d="M244,233 Q636,243 1028,233"/><path d="M244,236 Q636,257 1028,236"/><path d="M244,240 Q636,270 1028,240"/><path d="M244,243 Q636,284 1028,243"/><path d="M244,246 Q636,297 1028,246"/><path d="M244,249 Q636,311 1028,249"/><path d="M244,253 Q636,324 1028,253"/><path d="M244,256 Q636,338 1028,256"/></g>
  </g></g>
</g>

<g transform="translate(720,630) scale(0.40625)">
<g fill="none" stroke="#3a4cc8" stroke-linecap="round" stroke-linejoin="round">
<path d="M648.0,40.0 L648.3,44.5 L648.6,50.8 L648.9,58.4 L649.4,66.6 L649.8,75.0 L650.4,82.9 L651.0,89.9 L651.6,95.4 L652.4,99.5 L653.3,102.9 L654.3,105.6 L655.4,107.7 L656.4,109.4 L657.3,110.8 L658.1,112.0 L658.7,113.1" stroke-width="18"/>
<path d="M658.7,116.6 L656.9,117.5 L654.5,118.8 L651.7,120.3 L648.5,121.9 L645.1,123.6 L641.4,125.1 L637.7,126.4 L633.9,127.3 L630.0,127.8 L625.8,128.0 L621.4,127.9 L616.9,127.7 L612.2,127.5 L607.6,127.3 L603.0,127.2 L598.5,127.3 L594.0,127.5 L589.2,127.7 L584.4,127.9 L579.7,128.2 L575.1,128.6 L570.7,129.1 L566.7,129.8 L563.1,130.8 L560.0,132.1 L557.2,133.7 L554.7,135.5 L552.5,137.5 L550.5,139.5 L548.7,141.5 L547.0,143.3 L545.4,145.0 L544.0,146.6 L542.7,148.2 L541.6,149.7 L540.7,151.2 L540.0,152.6 L539.3,153.8 L538.8,154.8 L538.3,155.6" stroke-width="10"/>
<path d="M570.2,130.8 L568.7,132.4 L566.6,134.6 L564.1,137.2 L561.4,140.1 L558.6,143.1 L556.1,146.2 L554.0,149.2 L552.5,152.0 L551.6,154.7 L551.2,157.5 L551.0,160.4 L551.2,163.2 L551.5,166.0 L551.8,168.6 L552.2,171.1 L552.5,173.3 L552.8,175.4 L553.2,177.3 L553.7,179.1 L554.2,180.8 L554.8,182.3 L555.3,183.7 L555.7,184.8 L556.0,185.7" stroke-width="10"/>
<path d="M630.0,126.0 L628.0,128.5 L625.2,131.9 L621.9,135.9 L618.2,140.3 L614.6,145.1 L611.1,149.9 L608.0,154.6 L605.6,159.1 L603.9,163.4 L602.7,167.9 L601.8,172.4 L601.2,176.9 L600.7,181.4 L600.1,185.8 L599.4,190.2 L598.5,194.5 L597.4,198.7 L596.3,202.8 L595.1,206.9 L593.9,210.9 L592.5,214.9 L591.1,218.8 L589.6,222.6 L587.9,226.4 L585.9,230.0 L583.6,233.5 L581.2,236.8 L578.6,240.1 L576.1,243.5 L573.8,247.0 L571.8,250.7 L570.2,254.7 L569.0,259.1 L568.1,263.8 L567.4,268.8 L567.0,273.9 L566.7,279.1 L566.5,284.1 L566.5,289.0 L566.6,293.6 L566.9,298.1 L567.4,302.8 L568.2,307.5 L569.1,312.0 L570.0,316.2 L570.8,319.9 L571.5,323.1 L572.0,325.5" stroke-width="10"/>
<path d="M584.3,237.0 L584.8,239.8 L585.6,243.6 L586.4,248.1 L587.4,253.1 L588.4,258.3 L589.5,263.5 L590.5,268.2 L591.4,272.4 L592.2,276.0 L593.0,279.4 L593.8,282.6 L594.5,285.7 L595.3,288.6 L596.2,291.5 L597.3,294.3 L598.5,297.2 L600.0,300.2 L601.9,303.2 L603.9,306.3 L606.0,309.3 L608.1,312.2 L610.0,314.7 L611.6,316.8 L612.7,318.4" stroke-width="10"/>
<path d="M658.7,120.2 L658.8,122.4 L659.0,125.4 L659.2,128.9 L659.4,132.8 L659.5,136.9 L659.5,141.0 L659.2,144.9 L658.7,148.5 L657.9,151.8 L656.9,155.0 L655.8,158.2 L654.5,161.3 L653.0,164.4 L651.4,167.4 L649.7,170.4 L648.0,173.3 L646.0,176.0 L643.8,178.4 L641.3,180.6 L638.8,182.8 L636.3,185.1 L634.0,187.8 L632.0,190.9 L630.4,194.5 L629.3,198.8 L628.4,203.5 L627.9,208.6 L627.5,214.1 L627.3,219.7 L627.1,225.5 L627.0,231.3 L626.8,237.0 L626.6,243.0 L626.5,249.7 L626.5,256.6 L626.6,263.6 L626.6,270.1 L626.7,276.1 L626.8,281.1 L626.8,284.8" stroke-width="10"/>
<path d="M641.0,187.4 L641.9,189.0 L643.1,191.1 L644.5,193.5 L646.1,196.3 L647.7,199.3 L649.2,202.4 L650.5,205.6 L651.6,208.7 L652.4,212.1 L653.1,215.9 L653.6,220.0 L654.0,224.2 L654.4,228.2 L654.6,231.8 L654.9,234.8 L655.1,237.0" stroke-width="10"/>
<path d="M665.0,115.0 L667.1,116.7 L670.2,118.8 L673.8,121.4 L677.8,124.2 L681.7,127.4 L685.3,130.8 L688.4,134.3 L690.5,137.9 L691.8,141.8 L692.6,146.0 L693.0,150.6 L693.0,155.3 L692.7,160.0 L692.1,164.7 L691.3,169.1 L690.5,173.3 L689.1,177.3 L687.0,181.2 L684.4,185.1 L681.7,188.8 L679.2,192.3 L677.3,195.7 L676.2,198.8 L676.4,201.6 L677.9,204.1 L680.5,206.1 L683.9,208.0 L687.9,209.6 L692.2,211.1 L696.6,212.6 L700.9,214.1 L704.7,215.8 L708.3,217.5 L712.1,219.0 L715.9,220.5 L719.7,222.0 L723.4,223.6 L726.9,225.4 L730.1,227.5 L733.0,229.9 L735.5,233.0 L737.9,236.6 L740.0,240.7 L741.9,244.9 L743.5,249.0 L745.0,252.8 L746.2,255.9 L747.2,258.2" stroke-width="10"/>
<path d="M668.0,118.0 L671.6,119.5 L676.6,121.5 L682.5,123.9 L689.0,126.6 L695.6,129.5 L701.9,132.4 L707.4,135.2 L711.8,137.9 L715.0,140.4 L717.5,142.9 L719.4,145.4 L720.9,148.0 L722.2,150.6 L723.3,153.3 L724.5,156.1 L725.9,159.1 L727.3,162.3 L728.4,165.7 L729.4,169.2 L730.4,172.8 L731.4,176.5 L732.8,180.2 L734.4,183.8 L736.6,187.4 L739.5,191.1 L743.1,195.2 L747.2,199.3 L751.4,203.4 L755.6,207.2 L759.4,210.7 L762.6,213.6 L764.9,215.8" stroke-width="10"/>
</g><g fill="none" stroke="#5a7ae8" stroke-opacity="0.5" stroke-linecap="round">
<path d="M658.7,116.6 L656.9,117.5 L654.5,118.8 L651.7,120.3 L648.5,121.9 L645.1,123.6 L641.4,125.1 L637.7,126.4 L633.9,127.3 L629.7,127.8 L625.0,128.1 L619.8,128.1 L614.6,128.0 L609.6,127.8 L605.1,127.6 L601.3,127.4 L598.5,127.3" stroke-width="3.5"/>
<path d="M570.2,130.8 L568.7,132.4 L566.6,134.6 L564.1,137.2 L561.4,140.1 L558.6,143.1 L556.1,146.2 L554.0,149.2 L552.5,152.0 L551.7,154.8 L551.3,157.8 L551.2,160.9 L551.4,164.0 L551.7,166.9 L552.1,169.5 L552.4,171.7 L552.5,173.3" stroke-width="3.5"/>
<path d="M630.0,126.0 L628.0,128.5 L625.2,131.9 L621.9,135.9 L618.2,140.3 L614.6,145.1 L611.1,149.9 L608.0,154.6 L605.6,159.1 L603.8,163.7 L602.4,168.6 L601.4,173.8 L600.5,178.9 L599.9,183.7 L599.4,188.1 L598.9,191.8 L598.5,194.5" stroke-width="3.5"/>
</g><g fill="#d8dc60" stroke="#a8b040" stroke-width="2.5">
<circle cx="538.3" cy="155.6" r="7"/>
<circle cx="556.0" cy="186.7" r="7"/>
<circle cx="572.0" cy="326.5" r="7"/>
<circle cx="612.7" cy="319.4" r="7"/>
<circle cx="626.8" cy="285.8" r="7"/>
<circle cx="655.1" cy="238.0" r="7"/>
<circle cx="747.2" cy="259.2" r="7"/>
<circle cx="764.9" cy="216.8" r="7"/>
</g></g>

<g id="axonR">
 <defs>
  <clipPath id="cr1"><path d="M65.0,180.0 L57.8,187.9 L55.7,197.2 L57.5,207.6 L62.2,218.6 L68.8,230.0 L76.4,241.3 L83.8,252.1 L90.0,262.0 L95.7,271.3 L102.3,280.6 L109.4,289.7 L117.1,298.5 L125.1,307.0 L133.3,315.2 L141.7,322.8 L150.0,330.0 L158.4,336.5 L167.2,342.4 L176.2,347.8 L185.4,352.9 L194.6,357.7 L203.9,362.4 L213.0,367.1 L222.0,372.0 L231.1,376.6 L240.7,380.6 L250.3,384.3 L259.9,388.0 L269.1,392.1 L277.6,396.9 L285.4,402.8 L292.0,410.0 L297.6,418.8 L302.3,429.1 L306.4,440.4 L309.8,452.4 L312.5,464.7 L314.8,477.0 L316.6,488.9 L318.0,500.0 L318.6,510.6 L318.2,521.1 L317.0,531.4 L315.5,541.6 L313.9,551.5 L312.6,561.3 L311.8,570.8 L312.0,580.0 L312.8,589.0 L313.9,597.9 L315.4,606.7 L317.2,615.1 L319.5,623.3 L322.3,631.0 L325.8,638.3 L330.0,645.0 L334.9,651.3 L340.4,657.5 L346.6,663.2 L353.3,668.5 L360.6,673.2 L368.3,677.3 L376.4,680.6 L385.0,683.0 L394.4,684.5 L404.7,685.1 L415.8,684.9 L427.2,684.1 L438.6,682.7 L449.8,680.8 L460.4,678.6 L470.0,676.0 L479.0,673.2 L487.9,670.1 L496.5,666.6 L504.7,662.6 L512.3,658.0 L519.1,652.8 L525.1,646.8 L530.0,640.0 L533.8,632.2 L536.7,623.3 L538.6,613.7 L539.9,603.4 L540.5,592.7 L540.6,581.7 L540.4,570.8 L540.0,560.0 L539.1,549.2 L537.6,538.2 L535.5,527.0 L533.0,515.6 L530.3,504.2 L527.4,492.7 L524.6,481.3 L522.0,470.0 L519.5,458.8 L517.0,447.5 L514.5,436.2 L511.9,425.0 L509.2,413.8 L506.3,402.5 L503.3,391.2 L500.0,380.0 L496.5,368.7 L492.9,357.3 L489.1,345.8 L485.1,334.4 L481.0,323.0 L476.8,311.8 L472.5,300.8 L468.0,290.0 L463.5,279.5 L458.9,269.1 L454.3,258.8 L449.5,248.8 L444.5,238.8 L439.3,229.1 L433.8,219.5 L428.0,210.0 L422.2,200.2 L416.7,189.9 L411.1,179.5 L405.1,169.4 L398.5,160.0 L391.0,151.6 L382.3,144.9 L372.0,140.0 L360.3,137.3 L347.6,136.4 L333.9,137.0 L319.1,138.8 L303.3,141.3 L286.5,144.2 L268.7,147.2 L250.0,150.0 L228.5,152.4 L203.3,154.9 L176.0,157.5 L148.3,160.5 L121.8,164.1 L98.0,168.4 L78.5,173.6 Z"/></clipPath>
  <clipPath id="cr2"><path d="M100.0,120.0 L97.2,126.8 L97.2,135.7 L99.7,146.1 L104.0,157.4 L109.5,169.0 L115.8,180.3 L122.1,190.9 L128.0,200.0 L134.3,207.7 L142.0,214.6 L150.4,220.9 L159.2,226.9 L167.9,232.7 L175.9,238.7 L182.8,245.0 L188.0,252.0 L191.7,259.7 L194.3,268.1 L196.0,276.8 L197.0,285.6 L197.3,294.4 L197.2,302.9 L196.7,310.8 L196.0,318.0 L194.7,324.4 L192.4,330.2 L189.4,335.6 L186.1,340.6 L182.8,345.5 L179.8,350.2 L177.4,355.0 L176.0,360.0 L175.2,365.2 L174.6,370.7 L174.4,376.1 L174.6,381.5 L175.4,386.7 L176.8,391.6 L179.0,396.1 L182.0,400.0 L186.0,403.5 L191.0,406.8 L196.7,409.9 L203.1,412.5 L210.0,414.7 L217.2,416.4 L224.6,417.5 L232.0,418.0 L240.0,418.1 L248.9,417.9 L258.3,417.4 L267.9,416.2 L277.2,414.3 L286.0,411.4 L293.7,407.4 L300.0,402.0 L305.0,395.2 L309.0,387.0 L312.2,377.8 L314.8,367.5 L316.7,356.4 L318.1,344.7 L319.2,332.5 L320.0,320.0 L320.4,306.7 L320.0,292.3 L319.1,277.1 L317.9,261.4 L316.4,245.6 L314.8,229.8 L313.3,214.5 L312.0,200.0 L311.5,185.3 L311.8,169.9 L312.4,154.3 L312.9,139.1 L312.6,124.9 L311.0,112.5 L307.7,102.3 L302.0,95.0 L293.6,91.2 L282.9,90.4 L270.4,92.1 L256.6,95.3 L242.1,99.5 L227.5,103.8 L213.3,107.5 L200.0,110.0 L186.5,111.0 L171.9,111.2 L156.7,111.0 L141.9,110.9 L128.0,111.3 L116.0,112.7 L106.4,115.4 Z"/></clipPath>
  <clipPath id="cr3"><path d="M168.0,505.0 L164.8,511.6 L163.6,520.9 L163.8,532.3 L165.0,545.3 L166.9,559.2 L168.9,573.3 L170.8,587.1 L172.0,600.0 L172.7,612.7 L173.4,626.1 L174.1,639.9 L174.9,653.6 L175.8,666.9 L176.9,679.3 L178.3,690.5 L180.0,700.0 L181.8,707.9 L183.4,714.5 L185.2,720.1 L187.2,724.8 L189.8,728.6 L192.9,731.8 L197.0,734.6 L202.0,737.0 L208.7,739.1 L217.0,740.7 L226.5,741.8 L236.5,742.2 L246.4,742.1 L255.7,741.2 L263.8,739.5 L270.0,737.0 L274.4,733.5 L277.4,729.1 L279.4,723.8 L280.6,717.9 L281.4,711.4 L282.0,704.5 L282.8,697.3 L284.0,690.0 L285.5,682.5 L286.8,674.6 L288.1,666.3 L289.4,657.7 L290.6,648.7 L291.7,639.4 L292.9,629.9 L294.0,620.0 L295.6,609.2 L297.8,597.0 L300.2,584.2 L302.5,571.2 L304.2,558.8 L305.0,547.3 L304.4,537.6 L302.0,530.0 L297.7,525.0 L291.7,522.0 L284.3,520.6 L276.0,520.3 L267.1,520.6 L257.8,521.0 L248.7,520.9 L240.0,520.0 L231.0,517.6 L220.9,514.0 L210.4,509.9 L199.9,505.9 L189.9,502.8 L180.9,501.1 L173.4,501.6 Z"/></clipPath>
 </defs>
 <g transform="translate(880,320) scale(0.199)">
  <path d="M65.0,180.0 L57.8,187.9 L55.7,197.2 L57.5,207.6 L62.2,218.6 L68.8,230.0 L76.4,241.3 L83.8,252.1 L90.0,262.0 L95.7,271.3 L102.3,280.6 L109.4,289.7 L117.1,298.5 L125.1,307.0 L133.3,315.2 L141.7,322.8 L150.0,330.0 L158.4,336.5 L167.2,342.4 L176.2,347.8 L185.4,352.9 L194.6,357.7 L203.9,362.4 L213.0,367.1 L222.0,372.0 L231.1,376.6 L240.7,380.6 L250.3,384.3 L259.9,388.0 L269.1,392.1 L277.6,396.9 L285.4,402.8 L292.0,410.0 L297.6,418.8 L302.3,429.1 L306.4,440.4 L309.8,452.4 L312.5,464.7 L314.8,477.0 L316.6,488.9 L318.0,500.0 L318.6,510.6 L318.2,521.1 L317.0,531.4 L315.5,541.6 L313.9,551.5 L312.6,561.3 L311.8,570.8 L312.0,580.0 L312.8,589.0 L313.9,597.9 L315.4,606.7 L317.2,615.1 L319.5,623.3 L322.3,631.0 L325.8,638.3 L330.0,645.0 L334.9,651.3 L340.4,657.5 L346.6,663.2 L353.3,668.5 L360.6,673.2 L368.3,677.3 L376.4,680.6 L385.0,683.0 L394.4,684.5 L404.7,685.1 L415.8,684.9 L427.2,684.1 L438.6,682.7 L449.8,680.8 L460.4,678.6 L470.0,676.0 L479.0,673.2 L487.9,670.1 L496.5,666.6 L504.7,662.6 L512.3,658.0 L519.1,652.8 L525.1,646.8 L530.0,640.0 L533.8,632.2 L536.7,623.3 L538.6,613.7 L539.9,603.4 L540.5,592.7 L540.6,581.7 L540.4,570.8 L540.0,560.0 L539.1,549.2 L537.6,538.2 L535.5,527.0 L533.0,515.6 L530.3,504.2 L527.4,492.7 L524.6,481.3 L522.0,470.0 L519.5,458.8 L517.0,447.5 L514.5,436.2 L511.9,425.0 L509.2,413.8 L506.3,402.5 L503.3,391.2 L500.0,380.0 L496.5,368.7 L492.9,357.3 L489.1,345.8 L485.1,334.4 L481.0,323.0 L476.8,311.8 L472.5,300.8 L468.0,290.0 L463.5,279.5 L458.9,269.1 L454.3,258.8 L449.5,248.8 L444.5,238.8 L439.3,229.1 L433.8,219.5 L428.0,210.0 L422.2,200.2 L416.7,189.9 L411.1,179.5 L405.1,169.4 L398.5,160.0 L391.0,151.6 L382.3,144.9 L372.0,140.0 L360.3,137.3 L347.6,136.4 L333.9,137.0 L319.1,138.8 L303.3,141.3 L286.5,144.2 L268.7,147.2 L250.0,150.0 L228.5,152.4 L203.3,154.9 L176.0,157.5 L148.3,160.5 L121.8,164.1 L98.0,168.4 L78.5,173.6 Z" fill="#5a90ee"/>
  <g clip-path="url(#cr1)" fill="none" stroke-linecap="round">
   <g filter="url(#blur8)">
   <path d="M300,160 C420,280 470,420 470,700" stroke="#80b0f4" stroke-width="150"/>
   <path d="M320,170 C430,290 475,430 475,700" stroke="#a8ccf8" stroke-width="90"/>
   </g>
   <path d="M360,200 C440,300 465,420 470,640" stroke="#d8ecfe" stroke-width="14"/>
   <path d="M280,230 C380,300 420,420 430,560" stroke="#a8c4f6" stroke-width="10"/>
   <path d="M120.0,295.0 L123.3,298.7 L130.0,303.2 L139.5,308.2 L150.9,313.5 L163.5,319.0 L176.4,324.6 L188.8,330.0 L200.0,335.0 L210.8,339.5 L222.4,343.5 L234.4,347.3 L246.2,351.1 L257.7,355.3 L268.2,359.9 L277.5,365.4 L285.0,372.0 L290.7,379.7 L294.7,388.3 L297.6,397.7 L299.5,407.7 L300.9,418.1 L302.0,428.7 L303.3,439.4 L305.0,450.0 L307.0,460.8 L308.8,472.1 L310.4,483.8 L312.0,495.5 L313.5,507.2 L315.0,518.6 L316.5,529.6 L318.0,540.0 L319.2,550.0 L319.9,559.8 L320.5,569.5 L321.1,578.8 L322.0,587.6 L323.6,595.8 L326.2,603.3 L330.0,610.0 L335.4,616.1 L342.2,622.0 L350.1,627.3 L358.6,631.9 L367.2,635.6 L375.6,638.4 L383.4,639.9 L390.0,640.0 L395.9,638.6 L401.8,635.9 L407.4,631.9 L412.5,626.9 L417.0,621.0 L420.7,614.5 L423.4,607.4 L425.0,600.0 L425.2,592.0 L424.0,583.0 L421.8,573.4 L418.9,563.1 L415.4,552.5 L411.8,541.6 L408.2,530.8 L405.0,520.0 L402.0,509.2 L399.0,498.0 L396.0,486.5 L392.8,475.0 L389.4,463.5 L385.8,452.0 L382.0,440.8 L378.0,430.0 L373.9,419.3 L369.8,408.5 L365.6,397.7 L361.2,387.2 L356.4,377.0 L351.0,367.3 L344.9,358.3 L338.0,350.0 L330.1,342.5 L321.2,335.8 L311.6,329.6 L301.5,323.9 L291.1,318.7 L280.5,313.9 L270.1,309.3 L260.0,305.0 L250.0,300.8 L239.7,296.9 L229.3,293.2 L218.9,289.9 L208.6,287.0 L198.6,284.7 L189.1,283.0 L180.0,282.0 L170.6,281.7 L160.3,282.1 L149.9,283.1 L140.0,284.6 L131.4,286.6 L124.7,289.0 L120.7,291.8 Z" fill="#8c72de" stroke="#3a4cc0" stroke-width="9"/>
   <path d="M120,320 C200,360 260,390 290,440" stroke="#a58af0" stroke-width="14"/>
   <path d="M312,410 C335,470 360,530 388,560" stroke="#1c2a80" stroke-width="26"/>
   <path d="M330,405 C350,470 372,520 398,548" stroke="#80a6f0" stroke-width="8"/>
   <path d="M300,640 C360,690 460,690 540,640" stroke="#3d6ee0" stroke-width="16"/>
  </g>
 </g>
 <g transform="translate(920,440) scale(0.28777)">
  <path d="M190,20 L214,100" stroke="#2a4cc0" stroke-width="40"/>
  <path d="M100.0,120.0 L97.2,126.8 L97.2,135.7 L99.7,146.1 L104.0,157.4 L109.5,169.0 L115.8,180.3 L122.1,190.9 L128.0,200.0 L134.3,207.7 L142.0,214.6 L150.4,220.9 L159.2,226.9 L167.9,232.7 L175.9,238.7 L182.8,245.0 L188.0,252.0 L191.7,259.7 L194.3,268.1 L196.0,276.8 L197.0,285.6 L197.3,294.4 L197.2,302.9 L196.7,310.8 L196.0,318.0 L194.7,324.4 L192.4,330.2 L189.4,335.6 L186.1,340.6 L182.8,345.5 L179.8,350.2 L177.4,355.0 L176.0,360.0 L175.2,365.2 L174.6,370.7 L174.4,376.1 L174.6,381.5 L175.4,386.7 L176.8,391.6 L179.0,396.1 L182.0,400.0 L186.0,403.5 L191.0,406.8 L196.7,409.9 L203.1,412.5 L210.0,414.7 L217.2,416.4 L224.6,417.5 L232.0,418.0 L240.0,418.1 L248.9,417.9 L258.3,417.4 L267.9,416.2 L277.2,414.3 L286.0,411.4 L293.7,407.4 L300.0,402.0 L305.0,395.2 L309.0,387.0 L312.2,377.8 L314.8,367.5 L316.7,356.4 L318.1,344.7 L319.2,332.5 L320.0,320.0 L320.4,306.7 L320.0,292.3 L319.1,277.1 L317.9,261.4 L316.4,245.6 L314.8,229.8 L313.3,214.5 L312.0,200.0 L311.5,185.3 L311.8,169.9 L312.4,154.3 L312.9,139.1 L312.6,124.9 L311.0,112.5 L307.7,102.3 L302.0,95.0 L293.6,91.2 L282.9,90.4 L270.4,92.1 L256.6,95.3 L242.1,99.5 L227.5,103.8 L213.3,107.5 L200.0,110.0 L186.5,111.0 L171.9,111.2 L156.7,111.0 L141.9,110.9 L128.0,111.3 L116.0,112.7 L106.4,115.4 Z" fill="#5a90ee"/>
  <g clip-path="url(#cr2)" fill="none" stroke-linecap="round">
   <g filter="url(#blur5)">
   <path d="M240,110 C270,200 280,300 270,420" stroke="#80b0f4" stroke-width="100"/>
   <path d="M255,110 C282,200 290,300 280,420" stroke="#a8ccf8" stroke-width="55"/>
   </g>
   <path d="M270,140 C290,220 295,300 290,390" stroke="#d8ecfe" stroke-width="9"/>
   <path d="M140.0,190.0 L142.5,192.3 L147.5,195.5 L154.5,199.3 L162.8,203.8 L171.7,208.7 L180.4,213.9 L188.4,219.4 L195.0,225.0 L200.6,230.8 L205.9,237.0 L211.0,243.5 L215.8,250.3 L220.2,257.4 L224.0,264.7 L227.3,272.3 L230.0,280.0 L232.0,288.3 L233.5,297.3 L234.4,306.7 L234.9,316.2 L234.8,325.7 L234.3,334.6 L233.4,342.8 L232.0,350.0 L229.6,356.2 L225.8,361.8 L221.3,366.8 L216.4,371.2 L211.9,375.2 L208.1,378.8 L205.6,382.1 L205.0,385.0 L206.4,387.7 L209.5,390.1 L213.8,392.1 L218.9,393.8 L224.5,394.9 L230.1,395.5 L235.4,395.6 L240.0,395.0 L244.2,393.9 L248.7,392.5 L253.3,390.6 L257.7,388.1 L261.8,384.9 L265.3,380.9 L268.1,376.0 L270.0,370.0 L271.0,362.5 L271.2,353.4 L270.8,343.1 L269.9,332.2 L268.4,321.0 L266.6,309.9 L264.4,299.4 L262.0,290.0 L259.3,281.4 L256.1,273.0 L252.5,264.9 L248.6,257.2 L244.4,249.8 L239.8,242.8 L235.0,236.2 L230.0,230.0 L224.5,224.2 L218.5,218.8 L212.1,213.7 L205.5,209.1 L198.8,204.8 L192.2,201.1 L185.9,197.8 L180.0,195.0 L173.9,192.7 L167.1,190.7 L160.1,189.2 L153.4,188.1 L147.6,187.6 L143.1,187.7 L140.4,188.5 Z" fill="#9078e0" stroke="#3446b0" stroke-width="7"/>
   <path d="M214,255 C224,290 230,320 232,352" stroke="#1c2a80" stroke-width="16"/>
  </g>
  <path d="M238,410 L246,490" stroke="#4a7ce6" stroke-width="32"/>
  <path d="M232,410 L240,490" stroke="#8ab0f0" stroke-width="8"/>
  <path d="M168.0,505.0 L164.8,511.6 L163.6,520.9 L163.8,532.3 L165.0,545.3 L166.9,559.2 L168.9,573.3 L170.8,587.1 L172.0,600.0 L172.7,612.7 L173.4,626.1 L174.1,639.9 L174.9,653.6 L175.8,666.9 L176.9,679.3 L178.3,690.5 L180.0,700.0 L181.8,707.9 L183.4,714.5 L185.2,720.1 L187.2,724.8 L189.8,728.6 L192.9,731.8 L197.0,734.6 L202.0,737.0 L208.7,739.1 L217.0,740.7 L226.5,741.8 L236.5,742.2 L246.4,742.1 L255.7,741.2 L263.8,739.5 L270.0,737.0 L274.4,733.5 L277.4,729.1 L279.4,723.8 L280.6,717.9 L281.4,711.4 L282.0,704.5 L282.8,697.3 L284.0,690.0 L285.5,682.5 L286.8,674.6 L288.1,666.3 L289.4,657.7 L290.6,648.7 L291.7,639.4 L292.9,629.9 L294.0,620.0 L295.6,609.2 L297.8,597.0 L300.2,584.2 L302.5,571.2 L304.2,558.8 L305.0,547.3 L304.4,537.6 L302.0,530.0 L297.7,525.0 L291.7,522.0 L284.3,520.6 L276.0,520.3 L267.1,520.6 L257.8,521.0 L248.7,520.9 L240.0,520.0 L231.0,517.6 L220.9,514.0 L210.4,509.9 L199.9,505.9 L189.9,502.8 L180.9,501.1 L173.4,501.6 Z" fill="#5a90ee"/>
  <g clip-path="url(#cr3)" fill="none" stroke-linecap="round">
   <g filter="url(#blur5)">
   <path d="M230,520 C240,600 240,680 235,760" stroke="#80b0f4" stroke-width="90"/>
   <path d="M245,520 C255,600 255,680 250,760" stroke="#a8ccf8" stroke-width="50"/>
   </g>
   <path d="M270,540 C272,600 270,660 262,720" stroke="#d8ecfe" stroke-width="7"/>
   <path d="M190.0,570.0 L190.4,571.6 L193.1,573.2 L197.6,575.1 L203.1,577.2 L209.2,579.6 L215.3,582.5 L220.8,586.0 L225.0,590.0 L228.5,594.8 L231.9,600.4 L235.1,606.6 L238.1,613.1 L240.7,619.9 L242.8,626.8 L244.3,633.5 L245.0,640.0 L244.5,646.5 L242.5,653.4 L239.7,660.5 L236.6,667.5 L233.5,674.2 L231.1,680.3 L229.7,685.7 L230.0,690.0 L232.1,693.5 L235.7,696.5 L240.3,698.9 L245.6,700.6 L251.1,701.7 L256.5,702.0 L261.2,701.4 L265.0,700.0 L268.0,697.5 L270.7,694.0 L273.2,689.5 L275.3,684.4 L277.1,678.7 L278.5,672.6 L279.5,666.3 L280.0,660.0 L280.1,653.3 L279.7,645.8 L279.0,637.9 L277.8,629.7 L276.3,621.5 L274.5,613.7 L272.4,606.4 L270.0,600.0 L267.3,594.2 L264.4,588.6 L261.1,583.3 L257.5,578.4 L253.6,574.1 L249.4,570.4 L244.8,567.3 L240.0,565.0 L234.1,563.6 L226.9,563.1 L219.0,563.3 L210.9,564.1 L203.4,565.3 L197.0,566.8 L192.3,568.4 Z" fill="#9078e0" stroke="#3446b0" stroke-width="7"/>
   <path d="M222,605 C232,630 236,660 242,682" stroke="#1c2a80" stroke-width="12"/>
  </g>
  <path d="M305.4,100.9 L308.0,104.1 L309.4,107.5 L309.3,111.0 L307.5,114.6 L304.0,118.1 L299.4,121.4 L294.1,124.5 L288.9,127.3 L284.0,130.2 L279.8,133.1 L276.2,136.2 L272.8,139.5 L269.1,142.9 L264.8,146.3 L259.5,149.4 L253.3,151.9 L246.1,153.9 L238.4,155.2 L230.6,155.9 L222.8,156.3 L215.4,156.6 L208.3,157.0 L201.3,157.8 L194.2,158.8 L186.9,160.1 L179.2,161.3 L171.4,162.3 L163.6,162.6 L156.2,162.1 L149.5,160.9 L143.8,159.0 L138.8,156.6 L134.5,154.0 L130.5,151.5 L126.3,149.2 L121.6,147.3 L116.3,145.5 L110.5,143.8 L104.8,141.8 L99.5,139.6 L95.4,136.9 L92.9,133.8 L92.0,130.3 L92.7,126.7 L94.6,123.1 L97.0,119.5 L99.3,116.1 L101.0,112.9 L102.0,109.6 L102.5,106.3 L102.7,102.8 L103.2,99.2 L104.7,95.5 L107.6,92.0 L111.9,88.7 L117.6,85.8 L124.2,83.4 L131.4,81.3 L138.6,79.5 L145.4,77.7 L151.8,75.9 L157.8,73.7 L163.7,71.3 L169.8,68.7 L176.4,66.1 L183.4,64.0 L190.9,62.4 L198.6,61.6 L206.3,61.6 L213.6,62.2 L220.5,63.3 L227.0,64.6 L233.3,65.8 L239.6,66.6 L246.3,67.1 L253.3,67.4 L260.7,67.7 L268.2,68.2 L275.2,69.2 L281.3,70.9 L286.3,73.2 L289.8,76.1 L292.0,79.4 L293.3,82.8 L294.2,86.1 L295.3,89.3 L297.0,92.3 L299.4,95.1 L302.4,98.0 Z" fill="#8e72e2" stroke="#2c2a88" stroke-width="7"/>
  <path d="M274.5,102.7 L275.2,104.7 L274.8,106.8 L273.3,109.0 L270.9,111.1 L267.9,113.1 L264.6,114.9 L261.4,116.6 L258.5,118.3 L256.0,120.0 L253.9,121.8 L252.1,123.8 L250.3,125.8 L248.2,127.9 L245.6,130.0 L242.4,131.9 L238.6,133.5 L234.1,134.8 L229.3,135.7 L224.3,136.1 L219.3,136.3 L214.5,136.3 L210.0,136.2 L205.6,136.2 L201.3,136.4 L197.0,136.8 L192.5,137.4 L187.8,138.1 L182.9,138.7 L177.9,139.1 L172.9,139.2 L168.4,138.8 L164.3,138.0 L161.0,136.7 L158.4,135.1 L156.4,133.3 L154.9,131.4 L153.6,129.6 L152.1,127.9 L150.3,126.4 L148.1,125.0 L145.4,123.7 L142.5,122.3 L139.7,120.8 L137.2,119.2 L135.5,117.3 L134.8,115.3 L135.2,113.2 L136.7,111.0 L139.1,108.9 L142.1,106.9 L145.4,105.1 L148.6,103.4 L151.5,101.7 L154.0,100.0 L156.1,98.2 L157.9,96.2 L159.7,94.2 L161.8,92.1 L164.4,90.0 L167.6,88.1 L171.4,86.5 L175.9,85.2 L180.7,84.3 L185.7,83.9 L190.7,83.7 L195.5,83.7 L200.0,83.8 L204.4,83.8 L208.7,83.6 L213.0,83.2 L217.5,82.6 L222.2,81.9 L227.1,81.3 L232.1,80.9 L237.1,80.8 L241.6,81.2 L245.7,82.0 L249.0,83.3 L251.6,84.9 L253.6,86.7 L255.1,88.6 L256.4,90.4 L257.9,92.1 L259.7,93.6 L261.9,95.0 L264.6,96.3 L267.5,97.7 L270.3,99.2 L272.8,100.8 Z" fill="#6a50d2"/>
  <path d="M188,45 L212,118" stroke="#2a4cc0" stroke-width="32" stroke-linecap="round"/>
  <path d="M307.8,500.0 L309.5,502.4 L310.4,505.0 L310.3,507.7 L309.0,510.3 L306.5,512.8 L303.3,515.1 L299.7,517.3 L296.1,519.3 L292.8,521.2 L289.8,523.3 L287.3,525.5 L284.9,527.9 L282.4,530.3 L279.4,532.7 L275.7,534.8 L271.4,536.6 L266.5,537.8 L261.3,538.6 L256.0,538.9 L250.7,538.9 L245.6,538.9 L240.8,539.0 L236.0,539.3 L231.2,539.9 L226.2,540.6 L221.0,541.3 L215.6,541.8 L210.3,541.8 L205.3,541.2 L200.8,540.1 L196.9,538.4 L193.6,536.5 L190.7,534.4 L188.0,532.4 L185.2,530.6 L182.1,529.0 L178.5,527.5 L174.6,526.0 L170.7,524.4 L167.2,522.5 L164.5,520.4 L162.8,518.0 L162.3,515.4 L162.8,512.7 L164.2,510.0 L165.9,507.4 L167.5,505.0 L168.7,502.6 L169.5,500.2 L169.8,497.7 L170.1,495.1 L170.5,492.4 L171.6,489.7 L173.6,487.1 L176.6,484.8 L180.5,482.8 L185.1,481.2 L190.0,479.9 L194.9,478.8 L199.6,477.6 L203.9,476.4 L208.1,475.0 L212.1,473.4 L216.3,471.6 L220.8,469.9 L225.6,468.5 L230.7,467.6 L236.0,467.2 L241.2,467.4 L246.2,468.1 L250.8,469.2 L255.2,470.3 L259.5,471.4 L263.8,472.2 L268.3,472.8 L273.1,473.3 L278.1,473.7 L283.1,474.3 L287.9,475.3 L292.0,476.7 L295.3,478.6 L297.6,480.9 L299.1,483.4 L299.9,486.0 L300.5,488.5 L301.2,491.0 L302.3,493.2 L303.8,495.4 L305.8,497.7 Z" fill="#8e72e2" stroke="#2c2a88" stroke-width="7"/>
  <path d="M286.5,501.7 L286.9,503.2 L286.6,504.7 L285.6,506.2 L283.9,507.6 L281.9,509.0 L279.6,510.2 L277.4,511.3 L275.5,512.4 L273.8,513.6 L272.4,514.8 L271.1,516.1 L269.9,517.5 L268.4,519.0 L266.7,520.4 L264.5,521.7 L261.9,522.7 L258.9,523.5 L255.7,524.0 L252.3,524.2 L249.0,524.2 L245.8,524.0 L242.8,523.8 L239.9,523.7 L237.0,523.8 L234.1,523.9 L231.1,524.2 L228.0,524.6 L224.7,524.9 L221.3,525.0 L218.0,524.9 L215.0,524.5 L212.3,523.8 L210.1,522.8 L208.4,521.6 L207.2,520.2 L206.2,518.8 L205.3,517.5 L204.4,516.3 L203.2,515.2 L201.8,514.1 L200.0,513.1 L198.1,512.0 L196.2,510.9 L194.6,509.6 L193.5,508.3 L193.1,506.8 L193.4,505.3 L194.4,503.8 L196.1,502.4 L198.1,501.0 L200.4,499.8 L202.6,498.7 L204.5,497.6 L206.2,496.4 L207.6,495.2 L208.9,493.9 L210.1,492.5 L211.6,491.0 L213.3,489.6 L215.5,488.3 L218.1,487.3 L221.1,486.5 L224.3,486.0 L227.7,485.8 L231.0,485.8 L234.2,486.0 L237.2,486.2 L240.1,486.3 L243.0,486.2 L245.9,486.1 L248.9,485.8 L252.0,485.4 L255.3,485.1 L258.7,485.0 L262.0,485.1 L265.0,485.5 L267.7,486.2 L269.9,487.2 L271.6,488.4 L272.8,489.8 L273.8,491.2 L274.7,492.5 L275.6,493.7 L276.8,494.8 L278.2,495.9 L280.0,496.9 L281.9,498.0 L283.8,499.1 L285.4,500.4 Z" fill="#6a50d2"/>
  <path d="M242,470 L248,515" stroke="#4a7ce6" stroke-width="28" stroke-linecap="round"/>
  <path d="M228,728 L218,850" stroke="#2f55c8" stroke-width="26"/>
 </g>
</g>


<g id="neuronR" transform="translate(730,175) scale(0.2267)">
 <g fill="#4a74da">
<path d="M689.4,224.8 L688.2,221.5 L686.7,217.2 L685.1,211.9 L683.3,205.8 L681.3,199.1 L679.3,192.0 L677.3,184.7 L675.2,177.3 L673.0,170.0 L670.8,162.9 L668.6,156.2 L666.3,149.9 L663.7,144.1 L661.0,138.9 L658.2,134.1 L655.4,129.8 L652.5,125.9 L649.7,122.2 L647.0,118.6 L644.5,115.1 L642.0,111.4 L639.6,107.6 L637.4,103.4 L635.3,98.8 L633.2,93.2 L630.9,86.7 L628.7,79.5 L626.5,71.8 L624.4,63.9 L622.4,55.9 L620.6,48.1 L618.8,40.6 L617.3,33.7 L615.9,27.5 L614.7,22.3 L613.8,18.2 A8.0,8.0 0 0 0 598.2,21.8 L598.2,21.8 L599.1,25.8 L600.3,31.0 L601.6,37.1 L603.1,44.1 L604.7,51.6 L606.3,59.6 L608.0,67.7 L609.8,75.9 L611.5,83.9 L613.2,91.6 L615.0,98.7 L616.7,105.2 L618.6,111.2 L620.7,116.7 L622.9,121.7 L625.2,126.4 L627.4,130.8 L629.5,134.8 L631.5,138.7 L633.2,142.5 L634.7,146.2 L636.0,149.9 L637.0,153.8 L637.7,158.1 L638.3,163.1 L638.6,168.9 L638.7,175.4 L638.6,182.3 L638.4,189.4 L637.9,196.5 L637.4,203.5 L636.7,210.2 L636.1,216.5 L635.4,222.2 L634.9,227.2 L634.6,231.2 Z"/>
<path d="M516.5,239.4 L514.3,236.9 L511.5,233.7 L508.3,230.0 L504.7,225.8 L500.9,221.3 L496.9,216.5 L493.0,211.6 L489.1,206.6 L485.5,201.7 L482.1,197.0 L479.0,192.7 L476.4,188.7 L473.9,184.9 L471.6,181.4 L469.4,178.2 L467.5,175.5 L465.7,172.9 L464.2,170.6 L462.8,168.2 L461.5,165.8 L460.3,163.2 L459.2,160.2 L458.1,156.7 L457.1,152.7 L456.2,147.8 L455.5,142.0 L455.0,135.3 L454.6,128.1 L454.4,120.7 L454.3,113.1 L454.4,105.7 L454.5,98.6 L454.7,91.9 L454.8,86.0 L454.9,81.0 L455.0,77.1 A8.0,8.0 0 0 0 439.0,76.9 L439.0,76.9 L438.9,80.7 L438.8,85.6 L438.6,91.4 L438.3,98.0 L438.0,105.2 L437.7,112.8 L437.3,120.5 L437.0,128.2 L436.8,135.6 L436.6,142.8 L436.7,149.4 L436.9,155.3 L437.4,160.5 L438.0,165.2 L438.8,169.6 L439.8,173.6 L441.0,177.4 L442.2,180.9 L443.5,184.3 L444.7,187.5 L446.0,190.7 L447.2,194.0 L448.4,197.4 L449.6,201.3 L451.1,206.1 L452.8,211.4 L454.6,217.2 L456.4,223.2 L458.3,229.4 L460.1,235.6 L461.8,241.7 L463.3,247.4 L464.7,252.8 L465.9,257.5 L466.8,261.5 L467.5,264.6 Z"/>
<path d="M745.1,255.2 L748.2,252.9 L752.0,250.1 L756.2,246.8 L760.9,243.3 L765.9,239.5 L771.2,235.7 L776.7,232.0 L782.4,228.3 L787.9,225.0 L793.4,222.0 L798.5,219.4 L803.2,217.4 L807.9,215.7 L812.8,214.2 L817.8,212.9 L822.9,211.7 L828.0,210.8 L833.1,210.0 L838.2,209.4 L843.2,209.0 L848.1,208.7 L852.8,208.5 L857.3,208.5 L861.5,208.5 L865.4,208.7 L869.2,209.1 L873.0,209.7 L876.8,210.5 L880.5,211.4 L884.1,212.4 L887.4,213.4 L890.6,214.5 L893.6,215.4 L896.3,216.3 L898.8,217.1 L900.9,217.7 A8.0,8.0 0 0 0 905.1,202.3 L905.1,202.3 L903.4,201.8 L901.3,201.1 L898.7,200.3 L895.7,199.2 L892.3,198.1 L888.7,197.0 L884.8,195.8 L880.7,194.7 L876.3,193.6 L871.8,192.7 L867.2,192.0 L862.5,191.5 L857.9,191.2 L853.0,190.9 L848.0,190.7 L842.8,190.5 L837.4,190.4 L831.9,190.3 L826.2,190.4 L820.5,190.6 L814.6,190.9 L808.7,191.3 L802.8,191.9 L796.8,192.6 L790.5,193.7 L783.8,195.1 L776.9,196.7 L769.9,198.4 L762.9,200.2 L756.0,201.9 L749.3,203.6 L743.1,205.1 L737.3,206.5 L732.2,207.5 L728.1,208.3 L724.9,208.8 Z"/>
<path d="M870.1,399.5 L874.2,397.8 L879.5,395.8 L885.8,393.5 L893.0,391.0 L900.8,388.3 L909.1,385.5 L917.6,382.7 L926.2,379.8 L934.7,377.1 L942.9,374.4 L950.6,371.8 L957.3,369.5 L963.1,367.6 L968.8,366.1 L974.7,364.8 L980.9,363.6 L987.1,362.4 L993.5,361.0 L999.9,359.3 L1006.3,357.0 L1012.6,354.0 L1018.6,350.1 L1024.2,345.1 L1029.2,339.0 L1033.4,331.5 L1036.8,322.9 L1039.7,313.5 L1042.2,303.4 L1044.4,292.9 L1046.4,282.3 L1048.1,271.8 L1049.8,261.8 L1051.2,252.5 L1052.5,244.4 L1053.7,237.7 L1054.8,232.7 A8.0,8.0 0 0 0 1039.2,229.3 L1039.2,229.3 L1038.0,234.7 L1036.8,241.7 L1035.4,249.9 L1033.8,259.1 L1032.0,268.9 L1030.0,279.1 L1027.7,289.2 L1025.1,299.0 L1022.3,308.1 L1019.2,316.1 L1016.0,322.5 L1012.8,327.0 L1009.7,330.1 L1006.3,332.4 L1002.7,334.1 L998.7,335.3 L994.3,336.2 L989.4,336.7 L984.0,337.0 L978.1,337.1 L971.8,337.2 L965.0,337.4 L957.9,337.8 L950.7,338.5 L943.6,339.3 L936.0,339.9 L927.8,340.4 L919.1,340.8 L910.3,341.0 L901.6,341.1 L893.0,341.1 L884.8,341.1 L877.2,340.9 L870.4,340.8 L864.5,340.6 L859.9,340.5 Z"/>
<path d="M446.4,307.7 L442.9,308.3 L438.5,309.0 L433.7,309.9 L428.5,310.9 L422.9,311.9 L417.1,312.8 L411.1,313.6 L405.2,314.3 L399.4,314.7 L393.9,314.9 L388.9,314.9 L384.7,314.6 L381.0,314.0 L377.2,313.0 L373.3,311.5 L369.3,309.7 L365.1,307.6 L360.8,305.2 L356.3,302.8 L351.7,300.4 L346.9,298.0 L341.8,295.9 L336.4,294.2 L330.7,293.0 L324.8,292.5 L318.8,292.4 L312.6,292.7 L306.4,293.2 L300.2,293.9 L294.2,294.8 L288.3,295.7 L282.9,296.6 L277.9,297.5 L273.5,298.2 L269.9,298.7 L267.1,299.1 A8.0,8.0 0 0 0 268.9,314.9 L268.9,314.9 L272.0,314.6 L276.0,314.0 L280.5,313.3 L285.4,312.5 L290.8,311.7 L296.3,311.0 L302.0,310.3 L307.7,309.9 L313.3,309.7 L318.5,309.8 L323.3,310.2 L327.3,311.0 L330.9,312.1 L334.3,313.6 L337.8,315.6 L341.4,317.9 L345.1,320.6 L348.8,323.5 L352.8,326.6 L357.0,329.8 L361.4,333.0 L366.3,336.1 L371.6,338.9 L377.3,341.4 L383.3,343.5 L389.5,345.3 L395.9,347.0 L402.5,348.5 L409.0,350.0 L415.4,351.4 L421.6,352.8 L427.5,354.0 L432.7,355.3 L437.3,356.4 L440.8,357.4 L443.6,358.3 Z"/>
<path d="M403.8,423.7 L400.3,423.7 L395.9,423.8 L390.8,423.8 L385.0,423.8 L378.7,423.8 L372.1,423.8 L365.3,423.7 L358.3,423.6 L351.3,423.5 L344.5,423.3 L337.9,423.1 L331.5,422.9 L325.1,422.6 L318.7,422.6 L312.3,422.6 L306.1,422.6 L300.1,422.7 L294.1,422.6 L288.4,422.5 L282.8,422.2 L277.4,421.6 L272.3,420.9 L267.3,419.9 L262.6,418.6 L257.9,416.8 L253.0,414.7 L248.0,412.2 L243.0,409.4 L238.1,406.4 L233.2,403.1 L228.5,399.7 L223.9,396.2 L219.4,392.7 L215.1,389.1 L211.1,385.7 L207.3,382.3 L203.8,379.1 L200.4,376.0 L197.3,372.9 L194.4,369.9 L191.7,366.9 L189.2,363.9 L187.0,361.0 L184.9,358.0 L183.1,354.9 L181.5,351.9 L180.0,348.7 L178.8,345.6 L178.0,342.3 L177.3,338.6 L177.0,334.3 L176.8,329.8 L176.9,325.2 L177.1,320.4 L177.5,315.8 L177.9,311.3 L178.3,307.2 L178.6,303.4 L178.9,300.0 L179.0,297.3 A8.0,8.0 0 0 0 163.0,296.7 L163.0,296.7 L162.9,299.0 L162.7,302.0 L162.3,305.6 L161.9,309.8 L161.5,314.5 L161.1,319.4 L160.8,324.6 L160.7,329.9 L160.8,335.2 L161.2,340.4 L161.9,345.6 L163.2,350.4 L164.7,354.8 L166.4,359.0 L168.4,363.0 L170.6,366.8 L173.0,370.6 L175.6,374.3 L178.4,377.9 L181.4,381.5 L184.5,385.0 L187.8,388.6 L191.2,392.1 L194.7,395.7 L198.4,399.4 L202.4,403.2 L206.7,407.3 L211.1,411.4 L215.8,415.5 L220.6,419.6 L225.7,423.7 L230.9,427.7 L236.3,431.5 L241.8,435.1 L247.5,438.4 L253.4,441.4 L259.5,444.0 L265.8,446.3 L272.1,448.1 L278.4,449.7 L284.8,451.1 L291.1,452.3 L297.3,453.4 L303.5,454.4 L309.5,455.5 L315.3,456.6 L320.9,457.8 L326.5,459.1 L332.4,460.7 L338.9,462.4 L345.5,464.1 L352.3,465.9 L359.1,467.7 L365.7,469.6 L372.2,471.4 L378.2,473.1 L383.7,474.7 L388.6,476.1 L392.8,477.3 L396.2,478.3 Z"/>
<path d="M389.6,530.9 L383.8,532.9 L376.6,535.5 L368.5,538.4 L359.7,541.7 L350.1,545.1 L340.0,548.6 L329.5,552.0 L318.8,555.2 L308.1,558.1 L297.5,560.5 L287.3,562.5 L277.6,563.8 L267.8,564.6 L257.3,565.0 L246.4,565.0 L235.1,564.6 L223.8,564.0 L212.4,563.1 L201.1,562.0 L190.2,560.8 L179.6,559.4 L169.5,558.0 L160.2,556.6 L151.6,555.3 L143.8,554.1 L136.7,552.9 L130.2,551.6 L124.1,550.3 L118.5,549.0 L113.3,547.6 L108.5,546.2 L103.9,544.7 L99.4,543.0 L95.1,541.2 L90.8,539.3 L86.6,537.2 L82.6,535.0 L78.6,532.3 L74.7,529.4 L70.9,526.2 L67.1,522.8 L63.6,519.4 L60.2,516.0 L57.1,512.8 L54.2,509.7 L51.6,506.9 L49.2,504.5 L47.1,502.5 A7.5,7.5 0 0 0 36.9,513.5 L36.9,513.5 L38.6,515.1 L40.8,517.3 L43.3,520.0 L46.2,523.1 L49.5,526.5 L53.0,530.1 L56.8,533.8 L60.9,537.5 L65.2,541.2 L69.8,544.7 L74.5,547.9 L79.4,550.8 L84.1,553.2 L88.8,555.4 L93.6,557.5 L98.4,559.4 L103.5,561.2 L108.8,563.0 L114.3,564.6 L120.3,566.3 L126.6,567.8 L133.3,569.4 L140.6,571.0 L148.4,572.7 L157.0,574.4 L166.3,576.4 L176.4,578.5 L187.0,580.7 L198.0,582.9 L209.4,585.0 L221.0,587.1 L232.6,589.1 L244.3,590.8 L255.9,592.3 L267.3,593.4 L278.4,594.2 L289.7,594.4 L301.5,594.1 L313.5,593.5 L325.5,592.6 L337.4,591.5 L349.0,590.3 L360.1,589.1 L370.5,587.9 L379.9,586.8 L388.2,585.9 L395.0,585.4 L400.4,585.1 Z"/>
<path d="M566.1,588.3 L565.7,592.2 L565.0,597.1 L564.1,602.9 L563.0,609.6 L561.7,616.8 L560.2,624.3 L558.7,632.1 L557.2,639.9 L555.6,647.5 L554.1,654.9 L552.7,661.8 L551.6,668.1 L550.7,673.8 L549.8,679.1 L549.1,684.2 L548.5,689.0 L548.0,693.7 L547.6,698.3 L547.2,702.9 L546.9,707.4 L546.6,712.0 L546.3,716.8 L546.0,721.7 L545.7,727.0 L545.3,732.8 L545.0,739.1 L544.6,745.9 L544.3,752.9 L544.0,760.0 L543.7,767.0 L543.4,773.8 L543.1,780.3 L542.8,786.2 L542.5,791.5 L542.2,796.0 L542.0,799.5 A8.0,8.0 0 0 0 558.0,800.5 L558.0,800.5 L558.2,797.0 L558.5,792.4 L558.8,787.1 L559.1,781.2 L559.6,774.8 L560.1,768.0 L560.6,761.0 L561.2,754.1 L561.9,747.2 L562.7,740.7 L563.5,734.6 L564.3,729.0 L565.2,724.0 L566.0,719.1 L566.9,714.6 L567.8,710.2 L568.7,706.0 L569.6,701.9 L570.7,697.9 L571.9,693.8 L573.2,689.6 L574.7,685.2 L576.5,680.7 L578.4,675.9 L580.7,670.6 L583.6,664.8 L586.8,658.5 L590.3,652.0 L594.1,645.3 L598.0,638.7 L601.9,632.2 L605.8,626.1 L609.4,620.5 L612.7,615.5 L615.6,611.1 L617.9,607.7 Z"/>
<path d="M834.4,505.0 L837.4,505.5 L841.2,506.2 L845.8,507.2 L851.0,508.5 L856.7,509.9 L862.8,511.4 L869.0,513.0 L875.3,514.7 L881.5,516.3 L887.5,517.9 L893.4,519.3 L898.8,520.6 L904.0,521.6 L908.9,522.4 L913.7,523.0 L918.3,523.6 L922.9,524.0 L927.3,524.4 L931.6,524.7 L935.8,525.0 L940.0,525.4 L944.1,525.8 L948.2,526.2 L952.3,526.8 L956.7,527.4 L961.4,528.2 L966.3,529.0 L971.3,529.8 L976.3,530.7 L981.1,531.6 L985.8,532.5 L990.2,533.3 L994.3,534.1 L997.9,534.8 L1001.0,535.4 L1003.5,535.9 A8.0,8.0 0 0 0 1006.5,520.1 L1006.5,520.1 L1004.1,519.7 L1001.0,519.1 L997.4,518.3 L993.3,517.5 L988.9,516.6 L984.2,515.7 L979.4,514.6 L974.5,513.6 L969.6,512.5 L964.7,511.4 L960.1,510.3 L955.7,509.2 L951.4,508.2 L947.1,507.3 L942.9,506.4 L938.7,505.5 L934.6,504.6 L930.6,503.6 L926.6,502.6 L922.7,501.5 L918.8,500.2 L914.9,498.8 L911.0,497.2 L907.2,495.4 L903.1,493.3 L898.6,490.7 L893.8,487.7 L888.8,484.4 L883.8,480.9 L878.9,477.3 L874.1,473.7 L869.6,470.2 L865.4,466.9 L861.6,463.8 L858.3,461.1 L855.6,459.0 Z"/>
<path d="M827.8,613.0 L830.5,613.5 L833.8,614.1 L837.7,614.8 L842.0,615.8 L846.6,616.9 L851.4,618.1 L856.2,619.6 L860.9,621.1 L865.5,622.8 L869.8,624.5 L873.8,626.1 L877.3,627.7 L880.5,629.3 L883.7,631.0 L886.9,632.8 L890.0,634.7 L893.0,636.5 L895.9,638.4 L898.6,640.2 L901.1,641.9 L903.4,643.5 L905.5,644.9 L907.3,646.2 L908.7,647.2 A7.5,7.5 0 0 0 917.3,634.8 L917.3,634.8 L915.8,633.8 L914.1,632.6 L912.1,631.2 L909.8,629.5 L907.3,627.7 L904.6,625.8 L901.8,623.7 L898.9,621.5 L895.9,619.2 L892.9,616.9 L889.8,614.6 L886.7,612.3 L883.5,609.8 L880.0,607.1 L876.2,604.1 L872.4,600.9 L868.5,597.6 L864.8,594.2 L861.1,590.8 L857.8,587.5 L854.7,584.3 L852.0,581.4 L849.8,579.0 L848.2,577.0 Z"/>
<path d="M765.8,680.5 L762.4,681.2 L758.1,682.2 L753.0,683.2 L747.2,684.2 L741.0,685.2 L734.6,686.1 L728.0,686.9 L721.4,687.5 L715.0,688.0 L708.9,688.3 L703.4,688.4 L698.6,688.4 L694.3,688.4 L690.0,688.2 L685.8,687.9 L681.8,687.6 L678.0,687.2 L674.3,686.8 L670.9,686.3 L667.7,685.9 L664.8,685.5 L662.2,685.1 L659.9,684.8 L658.0,684.6 A7.5,7.5 0 0 0 656.0,699.4 L656.0,699.4 L657.9,699.7 L660.1,700.0 L662.7,700.4 L665.6,700.8 L668.8,701.3 L672.3,701.9 L676.0,702.4 L679.9,703.0 L684.1,703.6 L688.4,704.3 L692.8,704.9 L697.4,705.6 L702.3,706.2 L707.9,707.0 L714.0,708.0 L720.4,709.0 L727.0,710.2 L733.6,711.5 L740.0,712.9 L746.1,714.4 L751.7,715.8 L756.7,717.2 L760.9,718.5 L764.2,719.5 Z"/>
<path d="M773.6,709.7 L771.1,710.5 L767.8,711.5 L763.8,712.6 L759.2,713.8 L754.2,715.1 L748.8,716.3 L743.3,717.6 L737.7,718.9 L732.0,720.1 L726.5,721.3 L721.2,722.6 L716.2,723.9 L711.3,725.3 L706.4,726.9 L701.3,728.6 L696.3,730.4 L691.3,732.2 L686.4,734.0 L681.8,735.7 L677.5,737.3 L673.5,738.8 L670.0,740.1 L667.0,741.1 L664.6,741.9 A7.5,7.5 0 0 0 669.4,756.1 L669.4,756.1 L671.9,755.3 L675.0,754.2 L678.6,753.0 L682.5,751.6 L686.9,750.1 L691.4,748.6 L696.2,747.2 L701.1,745.8 L706.0,744.6 L710.8,743.5 L715.4,742.7 L719.8,742.1 L724.2,741.8 L729.1,741.6 L734.3,741.6 L739.7,741.8 L745.1,742.2 L750.6,742.7 L755.8,743.3 L760.8,743.9 L765.5,744.6 L769.7,745.3 L773.4,745.9 L776.4,746.3 Z"/>
<path d="M477.5,578.9 L477.0,580.8 L476.2,583.3 L475.3,586.3 L474.2,589.6 L472.9,593.2 L471.5,597.0 L470.1,600.8 L468.6,604.8 L467.0,608.6 L465.5,612.4 L464.1,615.9 L462.7,619.4 L461.4,623.1 L460.3,626.7 L459.4,630.2 L458.7,633.5 L458.0,636.6 L457.4,639.4 L456.8,642.0 L456.1,644.1 L455.5,645.9 L454.8,647.3 L454.1,648.3 L453.5,649.1 L452.5,649.7 L450.8,650.4 L448.4,651.0 L445.6,651.4 L442.4,651.7 L439.1,651.8 L435.7,651.8 L432.4,651.7 L429.3,651.6 L426.4,651.5 L423.8,651.4 L421.8,651.5 A7.5,7.5 0 0 0 422.2,666.5 L422.2,666.5 L423.8,666.4 L425.9,666.5 L428.6,666.6 L431.8,666.8 L435.3,666.9 L439.1,667.1 L442.9,667.1 L446.9,666.9 L450.9,666.6 L454.8,665.9 L458.7,664.8 L462.5,662.9 L465.8,660.5 L468.5,657.7 L470.7,654.7 L472.4,651.6 L474.0,648.6 L475.3,645.6 L476.6,642.6 L477.9,639.8 L479.1,637.1 L480.4,634.7 L481.8,632.6 L483.3,630.6 L485.2,628.3 L487.5,625.6 L490.0,622.8 L492.7,619.9 L495.5,617.0 L498.3,614.2 L501.2,611.4 L503.9,608.9 L506.5,606.5 L508.8,604.4 L510.8,602.6 L512.5,601.1 Z"/>
<path d="M648.2,122.0 L649.7,119.4 L651.5,116.0 L653.4,112.2 L655.6,108.1 L657.9,103.8 L660.5,99.3 L663.1,95.0 L665.9,90.8 L668.7,87.0 L671.5,83.7 L674.1,81.0 L676.3,79.2 L678.6,77.8 L681.2,76.7 L684.3,75.8 L687.7,75.2 L691.3,74.8 L694.9,74.5 L698.5,74.5 L702.0,74.5 L705.3,74.6 L708.4,74.6 L711.2,74.6 L713.5,74.5 A7.5,7.5 0 0 0 712.5,59.5 L712.5,59.5 L710.8,59.6 L708.6,59.6 L705.7,59.5 L702.3,59.4 L698.5,59.3 L694.5,59.3 L690.2,59.5 L685.8,59.8 L681.3,60.4 L676.7,61.3 L672.1,62.8 L667.7,64.8 L663.4,67.6 L659.3,70.8 L655.3,74.4 L651.3,78.2 L647.3,82.3 L643.4,86.3 L639.7,90.3 L636.1,94.0 L632.9,97.4 L630.0,100.3 L627.6,102.4 L625.8,104.0 Z"/>
<path d="M657.3,168.4 L659.5,167.9 L662.2,167.3 L665.2,166.6 L668.4,165.8 L671.8,165.1 L675.4,164.3 L679.1,163.7 L682.8,163.2 L686.5,162.8 L690.0,162.5 L693.4,162.5 L696.4,162.7 L699.5,163.1 L702.9,163.8 L706.6,164.7 L710.5,165.9 L714.3,167.2 L718.2,168.6 L721.9,170.1 L725.4,171.5 L728.7,172.9 L731.6,174.1 L734.2,175.2 L736.3,176.0 A7.5,7.5 0 0 0 741.7,162.0 L741.7,162.0 L739.8,161.3 L737.5,160.3 L734.6,159.0 L731.3,157.6 L727.8,156.0 L723.9,154.4 L720.0,152.7 L715.9,151.0 L711.8,149.4 L707.7,147.8 L703.6,146.5 L699.6,145.3 L695.5,144.4 L691.3,143.7 L687.1,143.1 L682.8,142.6 L678.6,142.2 L674.5,141.8 L670.6,141.4 L666.9,141.1 L663.6,140.7 L660.7,140.3 L658.4,140.0 L656.7,139.6 Z"/>
<path d="M636.0,104.7 L634.2,103.5 L632.0,102.1 L629.4,100.3 L626.5,98.3 L623.4,96.1 L620.1,93.8 L616.8,91.3 L613.4,88.8 L610.1,86.2 L606.9,83.6 L603.9,81.1 L601.0,78.8 L598.2,76.4 L595.3,73.9 L592.3,71.2 L589.3,68.5 L586.3,65.8 L583.4,63.1 L580.6,60.5 L578.0,58.1 L575.6,55.8 L573.5,53.7 L571.7,52.0 L570.2,50.6 A7.5,7.5 0 0 0 559.8,61.4 L559.8,61.4 L561.2,62.8 L563.0,64.5 L565.1,66.6 L567.5,68.9 L570.1,71.4 L572.7,74.1 L575.5,76.9 L578.3,79.8 L581.2,82.8 L583.9,85.7 L586.5,88.5 L589.0,91.2 L591.4,94.0 L594.0,97.0 L596.7,100.1 L599.4,103.3 L602.0,106.6 L604.6,109.8 L607.1,113.0 L609.4,116.0 L611.4,118.9 L613.3,121.4 L614.8,123.6 L616.0,125.3 Z"/>
<path d="M645.1,146.6 L643.1,146.2 L640.5,145.8 L637.5,145.2 L634.1,144.5 L630.4,143.7 L626.5,142.8 L622.5,141.9 L618.4,140.8 L614.3,139.8 L610.3,138.8 L606.4,137.7 L602.8,136.8 L599.1,135.8 L595.3,134.8 L591.4,133.8 L587.4,132.8 L583.5,131.8 L579.6,130.7 L575.9,129.7 L572.5,128.8 L569.3,127.9 L566.4,127.1 L564.0,126.4 L562.1,125.8 A7.5,7.5 0 0 0 557.9,140.2 L557.9,140.2 L559.8,140.8 L562.3,141.5 L565.1,142.3 L568.3,143.2 L571.7,144.3 L575.4,145.4 L579.1,146.6 L582.9,147.9 L586.7,149.2 L590.4,150.5 L593.9,151.9 L597.2,153.2 L600.5,154.6 L604.0,156.2 L607.6,158.0 L611.3,159.8 L614.9,161.7 L618.5,163.7 L621.9,165.6 L625.2,167.5 L628.1,169.3 L630.8,170.9 L633.1,172.3 L634.9,173.4 Z"/>
<path d="M454.5,156.7 L452.1,155.8 L449.1,154.6 L445.8,153.4 L442.1,151.9 L438.1,150.4 L434.0,148.6 L429.9,146.8 L425.8,144.8 L421.8,142.7 L418.0,140.6 L414.6,138.5 L411.6,136.4 L408.8,134.2 L405.9,131.6 L403.0,128.7 L400.0,125.6 L397.2,122.4 L394.4,119.1 L391.8,115.9 L389.3,112.8 L387.1,109.9 L385.1,107.3 L383.3,105.0 L381.8,103.2 A7.5,7.5 0 0 0 370.2,112.8 L370.2,112.8 L371.6,114.4 L373.2,116.5 L375.2,119.1 L377.4,122.0 L379.8,125.2 L382.5,128.7 L385.2,132.2 L388.1,135.8 L391.1,139.4 L394.1,143.0 L397.2,146.4 L400.4,149.6 L403.7,152.6 L407.3,155.7 L411.1,158.7 L415.0,161.8 L418.9,164.8 L422.7,167.7 L426.4,170.6 L429.9,173.3 L433.0,175.7 L435.7,177.9 L437.9,179.8 L439.5,181.3 Z"/>
<path d="M485.5,212.1 L486.1,210.1 L486.9,207.7 L487.8,204.8 L489.0,201.5 L490.2,198.0 L491.6,194.3 L493.1,190.5 L494.7,186.7 L496.2,183.0 L497.8,179.4 L499.2,175.9 L500.6,172.7 L501.8,169.6 L503.1,166.5 L504.3,163.3 L505.5,160.2 L506.7,157.1 L507.8,154.1 L508.9,151.3 L509.9,148.6 L510.8,146.2 L511.6,144.1 L512.4,142.3 L512.9,140.8 A7.5,7.5 0 0 0 499.1,135.2 L499.1,135.2 L498.4,136.7 L497.7,138.6 L496.8,140.7 L495.9,143.1 L494.8,145.7 L493.7,148.4 L492.5,151.2 L491.2,154.1 L489.8,157.0 L488.4,159.9 L486.9,162.7 L485.4,165.3 L483.8,168.0 L481.9,170.9 L479.8,174.0 L477.5,177.2 L475.2,180.4 L472.7,183.6 L470.3,186.6 L467.9,189.4 L465.7,192.1 L463.7,194.4 L461.9,196.4 L460.5,197.9 Z"/>
<path d="M448.8,167.1 L447.7,167.2 L446.4,167.3 L444.8,167.4 L442.9,167.4 L440.8,167.5 L438.5,167.5 L436.1,167.5 L433.7,167.5 L431.3,167.5 L428.8,167.5 L426.4,167.6 L424.0,167.7 L421.6,167.9 L419.3,168.2 L416.9,168.6 L414.5,169.0 L412.1,169.4 L409.9,169.8 L407.7,170.2 L405.7,170.6 L403.8,170.9 L402.2,171.2 L400.9,171.4 L399.9,171.6 A7.5,7.5 0 0 0 402.1,186.4 L402.1,186.4 L403.3,186.2 L404.8,186.0 L406.4,185.7 L408.2,185.4 L410.2,185.1 L412.3,184.8 L414.4,184.6 L416.5,184.4 L418.6,184.2 L420.5,184.2 L422.4,184.2 L424.0,184.3 L425.6,184.5 L427.4,184.9 L429.3,185.3 L431.3,185.9 L433.4,186.5 L435.4,187.1 L437.3,187.9 L439.2,188.6 L441.0,189.3 L442.6,189.9 L444.0,190.5 L445.2,190.9 Z"/>
<path d="M463.7,221.6 L462.0,221.9 L459.6,222.1 L456.5,222.2 L452.8,222.3 L448.7,222.4 L444.4,222.5 L439.9,222.7 L435.3,223.1 L430.8,223.6 L426.3,224.4 L421.9,225.6 L417.7,227.5 L414.1,230.0 L411.2,232.8 L408.8,235.9 L406.7,239.1 L405.0,242.3 L403.5,245.7 L402.2,249.0 L401.1,252.3 L400.2,255.6 L399.5,258.8 L398.9,261.8 L398.3,264.8 L398.0,268.1 L398.0,271.5 L398.3,274.8 L398.8,278.1 L399.5,281.2 L400.2,284.2 L401.0,287.0 L401.7,289.6 L402.4,291.9 L403.0,293.9 L403.4,295.4 L403.7,296.6 A7.5,7.5 0 0 0 418.3,293.4 L418.3,293.4 L418.0,291.8 L417.4,289.8 L416.8,287.7 L416.1,285.4 L415.5,283.0 L414.8,280.5 L414.2,278.0 L413.8,275.5 L413.5,273.2 L413.3,271.0 L413.4,269.0 L413.7,267.2 L414.2,265.1 L414.8,262.7 L415.6,260.1 L416.6,257.6 L417.6,255.1 L418.8,252.7 L420.0,250.5 L421.4,248.6 L422.7,247.0 L424.1,245.7 L425.3,244.9 L426.3,244.5 L427.4,244.3 L429.4,244.1 L432.1,244.2 L435.4,244.5 L438.9,245.0 L442.6,245.7 L446.4,246.6 L450.1,247.5 L453.6,248.4 L456.9,249.2 L459.9,249.9 L462.3,250.4 Z"/>
<path d="M814.4,205.7 L814.1,204.5 L814.0,203.0 L813.9,200.9 L813.9,198.3 L813.8,195.2 L813.7,191.8 L813.6,188.1 L813.2,184.2 L812.7,180.0 L811.9,175.6 L810.9,171.1 L809.5,166.6 L807.7,161.7 L805.5,156.5 L803.0,150.9 L800.3,145.1 L797.5,139.1 L794.7,133.1 L791.9,127.2 L789.3,121.6 L787.0,116.5 L784.9,111.9 L783.2,108.0 L781.9,105.1 A7.5,7.5 0 0 0 768.1,110.9 L768.1,110.9 L769.4,114.0 L771.1,118.0 L773.2,122.6 L775.5,127.8 L777.9,133.5 L780.3,139.4 L782.7,145.4 L784.9,151.4 L786.8,157.2 L788.5,162.6 L789.7,167.5 L790.5,171.4 L790.9,174.8 L791.0,178.1 L790.8,181.2 L790.5,184.2 L790.0,187.1 L789.4,189.8 L788.7,192.4 L788.0,194.9 L787.3,197.3 L786.6,199.7 L786.0,202.2 L785.6,204.3 Z"/>
<path d="M826.1,238.5 L829.0,239.2 L832.7,239.9 L836.8,240.5 L841.2,241.3 L845.8,242.1 L850.6,243.1 L855.5,244.2 L860.3,245.6 L864.9,247.1 L869.2,248.9 L873.0,250.8 L876.3,252.9 L879.5,255.4 L882.9,258.8 L886.4,262.8 L889.9,267.3 L893.4,272.0 L896.7,276.9 L899.8,281.8 L902.7,286.6 L905.4,291.0 L907.8,295.0 L910.0,298.5 L911.7,301.1 A7.5,7.5 0 0 0 924.3,292.9 L924.3,292.9 L922.6,290.4 L920.7,287.2 L918.3,283.3 L915.7,278.8 L912.8,273.9 L909.7,268.7 L906.4,263.4 L903.0,258.1 L899.4,252.9 L895.7,247.9 L891.8,243.3 L887.7,239.1 L883.2,235.5 L878.4,232.2 L873.4,229.2 L868.2,226.4 L863.0,223.9 L857.9,221.6 L853.0,219.4 L848.4,217.4 L844.2,215.6 L840.7,214.0 L838.0,212.7 L835.9,211.5 Z"/>
<path d="M848.9,242.0 L849.4,243.5 L850.1,245.3 L850.9,247.3 L851.7,249.5 L852.5,251.8 L853.4,254.3 L854.2,256.9 L855.0,259.6 L855.7,262.3 L856.3,265.0 L856.8,267.7 L857.2,270.3 L857.5,273.0 L857.7,276.1 L857.8,279.5 L857.8,283.1 L857.7,286.7 L857.6,290.4 L857.4,293.9 L857.2,297.3 L857.0,300.4 L856.8,303.2 L856.6,305.6 L856.5,307.5 A7.5,7.5 0 0 0 871.5,308.5 L871.5,308.5 L871.6,306.6 L871.8,304.3 L872.0,301.6 L872.3,298.4 L872.6,295.0 L872.9,291.4 L873.3,287.7 L873.6,283.9 L874.0,280.2 L874.3,276.5 L874.6,273.0 L874.8,269.7 L874.9,266.6 L875.0,263.3 L875.0,260.1 L875.0,257.0 L874.9,253.9 L874.9,250.9 L874.9,248.1 L874.9,245.5 L874.9,243.1 L874.9,241.0 L875.0,239.4 L875.1,238.0 Z"/>
<path d="M1022.3,351.9 L1025.2,352.3 L1029.0,352.7 L1033.2,353.1 L1037.8,353.7 L1042.8,354.3 L1048.0,355.0 L1053.4,355.9 L1058.8,356.8 L1064.2,358.0 L1069.3,359.2 L1074.1,360.6 L1078.5,362.0 L1082.9,363.7 L1087.5,365.8 L1092.4,368.3 L1097.3,370.9 L1102.2,373.7 L1106.9,376.5 L1111.5,379.3 L1115.9,382.0 L1119.9,384.6 L1123.5,386.9 L1126.6,388.9 L1129.1,390.4 A7.5,7.5 0 0 0 1136.9,377.6 L1136.9,377.6 L1134.5,376.1 L1131.6,374.3 L1128.0,372.0 L1124.0,369.4 L1119.7,366.5 L1115.1,363.5 L1110.2,360.4 L1105.3,357.3 L1100.2,354.2 L1095.2,351.2 L1090.3,348.5 L1085.5,346.0 L1080.5,343.7 L1075.3,341.5 L1069.9,339.3 L1064.4,337.2 L1059.0,335.2 L1053.6,333.3 L1048.4,331.4 L1043.6,329.6 L1039.2,328.0 L1035.3,326.5 L1032.2,325.2 L1029.7,324.1 Z"/>
<path d="M949.1,372.5 L953.3,373.6 L958.6,374.8 L964.6,376.1 L971.3,377.5 L978.3,379.1 L985.7,380.9 L993.2,383.0 L1000.6,385.3 L1007.8,387.9 L1014.5,390.7 L1020.5,393.7 L1025.7,397.0 L1030.6,400.7 L1035.6,405.4 L1040.6,410.8 L1045.6,416.7 L1050.4,422.9 L1055.0,429.3 L1059.4,435.6 L1063.4,441.7 L1067.1,447.4 L1070.5,452.5 L1073.4,457.0 L1075.9,460.4 A7.5,7.5 0 0 0 1088.1,451.6 L1088.1,451.6 L1085.8,448.4 L1083.0,444.3 L1079.8,439.2 L1076.1,433.5 L1072.0,427.2 L1067.6,420.6 L1063.0,413.8 L1058.1,407.0 L1052.9,400.4 L1047.6,394.1 L1042.1,388.2 L1036.3,383.0 L1030.0,378.4 L1023.1,374.2 L1015.8,370.2 L1008.2,366.5 L1000.5,363.1 L992.9,359.8 L985.5,356.8 L978.6,354.0 L972.2,351.4 L966.7,349.1 L962.3,347.2 L958.9,345.5 Z"/>
<path d="M972.0,348.5 L971.6,347.4 L971.0,346.0 L970.4,344.6 L969.7,343.0 L969.0,341.4 L968.4,339.7 L967.8,338.0 L967.2,336.3 L966.8,334.7 L966.5,333.2 L966.3,331.9 L966.2,330.9 L966.2,329.9 L966.3,328.8 L966.5,327.4 L966.9,326.0 L967.4,324.6 L967.9,323.1 L968.5,321.7 L969.0,320.3 L969.6,319.0 L970.1,317.8 L970.6,316.7 L971.0,315.7 A7.5,7.5 0 0 0 957.0,310.3 L957.0,310.3 L956.7,311.0 L956.4,311.8 L955.9,312.9 L955.3,314.2 L954.6,315.7 L953.9,317.4 L953.1,319.1 L952.3,320.9 L951.6,322.8 L950.9,324.8 L950.3,326.9 L949.8,329.1 L949.5,331.4 L949.3,333.6 L949.2,335.8 L949.1,338.1 L949.0,340.3 L948.9,342.4 L948.8,344.5 L948.7,346.4 L948.6,348.1 L948.4,349.6 L948.2,350.7 L948.0,351.5 Z"/>
<path d="M351.6,301.5 L351.0,300.7 L350.3,299.6 L349.5,298.6 L348.7,297.6 L347.9,296.5 L347.1,295.3 L346.3,294.2 L345.7,293.1 L345.1,292.0 L344.7,291.1 L344.4,290.4 L344.2,290.0 L344.1,289.6 L344.0,289.0 L344.1,288.2 L344.3,287.3 L344.5,286.3 L344.8,285.3 L345.2,284.2 L345.6,283.2 L346.0,282.2 L346.4,281.3 L346.8,280.3 L347.1,279.5 A7.5,7.5 0 0 0 332.9,274.5 L332.9,274.5 L332.8,275.0 L332.5,275.5 L332.2,276.4 L331.7,277.4 L331.2,278.6 L330.7,279.9 L330.1,281.3 L329.5,282.8 L329.0,284.4 L328.5,286.1 L328.1,288.0 L327.8,290.0 L327.8,292.0 L327.8,294.0 L327.9,295.9 L328.1,297.7 L328.3,299.5 L328.4,301.3 L328.5,303.0 L328.6,304.5 L328.7,305.9 L328.7,307.0 L328.6,307.8 L328.4,308.5 Z"/>
<path d="M375.6,313.6 L372.5,314.0 L368.5,314.3 L363.4,314.5 L357.5,314.6 L351.1,314.7 L344.3,314.8 L337.4,315.1 L330.5,315.4 L323.7,316.0 L317.3,316.9 L311.2,318.3 L305.6,320.4 L300.6,323.5 L296.4,327.2 L292.9,331.5 L289.9,336.0 L287.3,340.6 L285.0,345.2 L283.0,349.7 L281.3,354.0 L279.8,357.9 L278.4,361.2 L277.4,363.6 L276.4,365.5 A7.5,7.5 0 0 0 289.6,372.5 L289.6,372.5 L290.9,370.1 L292.3,367.0 L293.7,363.5 L295.2,359.7 L296.9,355.8 L298.7,351.8 L300.8,347.9 L303.0,344.3 L305.3,341.2 L307.7,338.6 L310.1,336.8 L312.4,335.6 L315.4,334.8 L319.6,334.3 L324.7,334.2 L330.5,334.5 L336.6,335.1 L343.0,336.0 L349.2,337.1 L355.3,338.4 L361.0,339.6 L366.2,340.8 L370.8,341.7 L374.4,342.4 Z"/>
<path d="M388.8,335.0 L387.5,335.6 L385.7,336.5 L383.4,337.4 L380.6,338.4 L377.6,339.4 L374.4,340.5 L371.1,341.5 L367.9,342.5 L364.7,343.5 L361.7,344.5 L358.8,345.7 L356.0,347.2 L353.4,349.2 L351.4,351.5 L350.0,354.0 L349.0,356.4 L348.4,358.7 L348.1,360.9 L347.9,362.8 L347.8,364.4 L347.8,365.8 L347.8,366.8 L347.7,367.2 L347.7,367.5 A7.5,7.5 0 0 0 362.3,370.5 L362.3,370.5 L362.6,369.3 L362.7,367.7 L362.8,366.4 L362.8,365.1 L362.9,364.0 L363.0,362.9 L363.2,362.0 L363.4,361.3 L363.6,360.9 L363.8,360.8 L363.9,360.8 L364.0,360.8 L364.7,360.6 L366.3,360.3 L368.6,360.0 L371.2,359.7 L374.2,359.6 L377.2,359.7 L380.3,359.8 L383.4,360.0 L386.3,360.3 L388.9,360.6 L391.3,360.9 L393.2,361.0 Z"/>
<path d="M197.4,361.1 L194.1,360.0 L189.8,358.4 L184.6,356.4 L178.7,353.9 L172.3,351.2 L165.6,348.4 L158.6,345.5 L151.6,342.7 L144.7,340.1 L138.0,337.9 L131.5,336.0 L125.4,334.8 L119.4,334.4 L113.5,334.6 L107.8,335.3 L102.3,336.4 L97.0,337.8 L92.0,339.3 L87.3,340.9 L83.0,342.5 L79.2,344.0 L75.8,345.3 L73.2,346.2 L71.0,346.8 A7.5,7.5 0 0 0 75.0,361.2 L75.0,361.2 L77.7,360.5 L80.9,359.4 L84.4,358.1 L88.2,356.7 L92.3,355.2 L96.6,353.8 L101.0,352.5 L105.5,351.5 L110.0,350.8 L114.4,350.5 L118.6,350.6 L122.6,351.2 L126.9,352.4 L132.0,354.3 L137.7,356.9 L143.6,360.0 L149.7,363.5 L155.8,367.2 L161.7,371.1 L167.3,374.9 L172.5,378.5 L177.2,381.8 L181.3,384.7 L184.6,386.9 Z"/>
<path d="M201.4,369.6 L198.9,370.0 L195.7,370.3 L191.7,370.6 L187.0,370.8 L181.9,371.1 L176.4,371.3 L170.8,371.6 L165.0,372.0 L159.2,372.6 L153.6,373.3 L148.1,374.3 L142.9,375.6 L137.8,377.4 L132.9,379.6 L128.1,382.1 L123.4,384.9 L118.8,387.7 L114.4,390.6 L110.2,393.4 L106.3,396.1 L102.8,398.5 L99.7,400.7 L97.1,402.3 L95.1,403.6 A7.5,7.5 0 0 0 102.9,416.4 L102.9,416.4 L105.2,415.0 L108.1,413.1 L111.3,410.9 L114.8,408.5 L118.6,406.0 L122.6,403.4 L126.8,400.9 L131.1,398.6 L135.4,396.4 L139.5,394.6 L143.5,393.3 L147.1,392.4 L150.9,391.9 L155.2,391.7 L160.0,391.8 L165.0,392.1 L170.2,392.7 L175.3,393.4 L180.4,394.3 L185.2,395.3 L189.7,396.2 L193.9,397.1 L197.6,397.9 L200.6,398.4 Z"/>
<path d="M241.0,428.4 L239.2,428.2 L237.0,427.9 L234.2,427.5 L231.0,426.9 L227.6,426.3 L223.9,425.6 L220.1,424.8 L216.3,424.1 L212.4,423.4 L208.6,422.7 L204.9,422.1 L201.3,421.7 L197.7,421.4 L194.1,421.3 L190.5,421.3 L186.9,421.4 L183.4,421.5 L179.9,421.7 L176.7,421.9 L173.6,422.1 L170.8,422.2 L168.4,422.4 L166.4,422.5 L164.8,422.5 A7.5,7.5 0 0 0 165.2,437.5 L165.2,437.5 L166.9,437.5 L169.2,437.4 L171.6,437.2 L174.4,437.1 L177.3,437.0 L180.4,436.9 L183.6,436.9 L186.9,437.0 L190.1,437.1 L193.2,437.4 L196.1,437.8 L198.7,438.3 L201.4,439.0 L204.4,439.9 L207.6,441.1 L210.8,442.4 L214.2,443.9 L217.4,445.4 L220.6,447.0 L223.6,448.6 L226.4,450.1 L228.9,451.4 L231.2,452.7 L233.0,453.6 Z"/>
<path d="M252.4,442.8 L250.9,443.2 L249.0,443.7 L246.7,444.2 L244.0,444.8 L241.1,445.4 L237.9,446.0 L234.7,446.6 L231.3,447.2 L228.0,447.8 L224.7,448.4 L221.6,449.0 L218.5,449.7 L215.6,450.5 L212.6,451.4 L209.6,452.4 L206.7,453.4 L203.8,454.4 L201.0,455.4 L198.3,456.4 L195.8,457.3 L193.6,458.1 L191.6,458.9 L190.0,459.4 L188.7,459.9 A7.5,7.5 0 0 0 193.3,474.1 L193.3,474.1 L194.8,473.6 L196.6,473.0 L198.7,472.3 L200.9,471.5 L203.3,470.7 L205.9,469.8 L208.6,469.0 L211.3,468.2 L214.0,467.6 L216.6,467.0 L219.1,466.6 L221.5,466.3 L223.9,466.1 L226.6,466.1 L229.5,466.1 L232.5,466.3 L235.6,466.6 L238.7,466.9 L241.7,467.3 L244.6,467.7 L247.3,468.2 L249.7,468.6 L251.9,468.9 L253.6,469.2 Z"/>
<path d="M241.3,457.2 L241.2,458.4 L241.0,459.9 L240.8,461.8 L240.4,463.9 L240.0,466.2 L239.5,468.6 L238.9,471.1 L238.3,473.5 L237.8,476.0 L237.2,478.4 L236.6,480.7 L236.2,482.9 L235.8,485.0 L235.5,487.1 L235.3,489.2 L235.1,491.2 L235.0,493.1 L234.9,494.9 L234.8,496.6 L234.8,498.1 L234.7,499.5 L234.6,500.7 L234.6,501.6 L234.5,502.3 A7.5,7.5 0 0 0 249.5,503.7 L249.5,503.7 L249.6,502.7 L249.6,501.5 L249.7,500.2 L249.8,498.9 L249.9,497.5 L250.0,496.0 L250.2,494.4 L250.4,492.9 L250.6,491.4 L251.0,489.9 L251.4,488.4 L251.8,487.1 L252.4,485.7 L253.2,484.0 L254.2,482.1 L255.3,480.2 L256.5,478.2 L257.8,476.2 L259.1,474.2 L260.4,472.4 L261.7,470.7 L262.9,469.2 L263.9,467.8 L264.7,466.8 Z"/>
<path d="M123.0,542.0 L122.2,542.3 L121.3,542.7 L120.0,543.2 L118.4,543.6 L116.7,544.1 L114.8,544.6 L112.9,545.2 L110.8,545.7 L108.8,546.2 L106.8,546.8 L104.7,547.4 L102.7,548.1 L100.8,548.9 L98.9,549.7 L97.1,550.7 L95.4,551.6 L93.7,552.5 L92.1,553.5 L90.6,554.4 L89.3,555.2 L88.0,555.9 L87.0,556.6 L86.1,557.0 L85.5,557.4 A7.5,7.5 0 0 0 92.5,570.6 L92.5,570.6 L93.4,570.2 L94.4,569.6 L95.6,568.9 L96.8,568.2 L98.1,567.5 L99.5,566.8 L100.9,566.1 L102.3,565.4 L103.7,564.9 L105.0,564.4 L106.2,564.1 L107.3,563.9 L108.3,563.8 L109.7,563.8 L111.2,563.8 L112.8,563.9 L114.5,564.1 L116.2,564.4 L117.9,564.6 L119.5,565.0 L121.1,565.3 L122.5,565.6 L123.9,565.8 L125.0,566.0 Z"/>
<path d="M266.4,575.0 L266.3,575.9 L266.1,577.1 L265.9,578.5 L265.5,580.2 L265.1,582.1 L264.6,584.2 L264.0,586.4 L263.5,588.6 L263.0,590.9 L262.4,593.3 L262.0,595.7 L261.6,598.1 L261.3,600.6 L261.2,603.1 L261.1,605.7 L261.0,608.3 L260.9,610.8 L260.9,613.3 L260.8,615.8 L260.8,618.0 L260.7,620.1 L260.7,621.9 L260.6,623.4 L260.5,624.5 A7.5,7.5 0 0 0 275.5,625.5 L275.5,625.5 L275.6,624.2 L275.6,622.5 L275.7,620.7 L275.8,618.6 L276.0,616.4 L276.1,614.2 L276.4,611.8 L276.7,609.5 L277.0,607.3 L277.4,605.2 L277.9,603.4 L278.4,601.9 L279.0,600.5 L279.7,599.0 L280.6,597.4 L281.5,595.8 L282.6,594.2 L283.7,592.7 L284.8,591.2 L285.9,589.8 L287.0,588.4 L288.0,587.2 L288.9,586.0 L289.6,585.0 Z"/>
<path d="M304.6,579.6 L304.7,580.4 L304.9,581.3 L305.0,582.6 L305.1,584.1 L305.1,585.8 L305.1,587.7 L305.1,589.6 L305.2,591.6 L305.2,593.7 L305.2,595.8 L305.3,597.9 L305.5,600.0 L305.7,602.1 L306.1,604.2 L306.5,606.3 L306.9,608.4 L307.4,610.5 L307.8,612.5 L308.2,614.4 L308.6,616.2 L308.9,617.8 L309.2,619.2 L309.5,620.4 L309.6,621.2 A7.5,7.5 0 0 0 324.4,618.8 L324.4,618.8 L324.2,617.7 L324.0,616.4 L323.7,614.9 L323.4,613.3 L323.1,611.6 L322.8,609.8 L322.6,607.9 L322.4,606.1 L322.3,604.3 L322.3,602.7 L322.4,601.2 L322.5,600.0 L322.8,598.9 L323.2,597.6 L323.6,596.2 L324.2,594.8 L324.8,593.3 L325.5,591.8 L326.2,590.4 L326.9,589.1 L327.7,587.8 L328.3,586.5 L328.9,585.3 L329.4,584.4 Z"/>
<path d="M327.1,587.7 L327.9,589.8 L328.9,592.4 L330.0,595.6 L331.2,599.2 L332.5,603.1 L333.9,607.3 L335.3,611.6 L336.7,616.0 L338.0,620.3 L339.4,624.6 L340.7,628.6 L342.0,632.4 L343.4,636.1 L344.9,639.8 L346.4,643.5 L348.0,647.2 L349.6,650.8 L351.1,654.3 L352.6,657.6 L354.0,660.8 L355.3,663.6 L356.4,666.1 L357.4,668.2 L358.1,669.9 A7.5,7.5 0 0 0 371.9,664.1 L371.9,664.1 L371.2,662.3 L370.2,660.0 L369.1,657.5 L367.8,654.7 L366.5,651.6 L365.1,648.3 L363.7,644.9 L362.4,641.4 L361.1,637.8 L359.9,634.3 L358.9,630.9 L358.0,627.6 L357.2,624.1 L356.5,620.3 L355.8,616.2 L355.2,611.9 L354.7,607.5 L354.2,603.1 L353.9,598.8 L353.6,594.7 L353.4,591.0 L353.2,587.6 L353.1,584.6 L352.9,582.3 Z"/>
<path d="M266.8,563.8 L265.9,563.3 L264.8,562.7 L263.5,562.0 L262.0,561.1 L260.5,560.1 L258.9,559.1 L257.4,558.0 L255.9,556.9 L254.4,555.7 L253.1,554.6 L251.9,553.6 L250.9,552.7 L249.9,551.8 L249.0,550.9 L248.2,550.1 L247.4,549.2 L246.6,548.4 L245.8,547.6 L245.2,546.9 L244.5,546.2 L244.0,545.6 L243.4,545.0 L243.0,544.5 L242.6,544.0 A7.5,7.5 0 0 0 231.4,554.0 L231.4,554.0 L231.7,554.4 L232.2,554.9 L232.7,555.4 L233.2,556.1 L233.9,556.8 L234.5,557.6 L235.2,558.5 L236.0,559.4 L236.7,560.3 L237.5,561.3 L238.3,562.3 L239.1,563.3 L240.0,564.5 L241.0,565.8 L242.0,567.2 L243.0,568.8 L244.1,570.4 L245.1,572.0 L246.0,573.7 L246.8,575.3 L247.6,576.8 L248.2,578.1 L248.8,579.3 L249.2,580.2 Z"/>
<path d="M461.1,620.8 L461.0,621.9 L460.8,623.3 L460.6,625.1 L460.2,627.3 L459.7,629.7 L459.2,632.2 L458.6,634.9 L458.1,637.7 L457.6,640.5 L457.1,643.4 L456.8,646.3 L456.6,649.2 L456.6,652.1 L456.8,655.0 L457.1,657.9 L457.5,660.7 L458.0,663.5 L458.5,666.2 L458.9,668.8 L459.4,671.2 L459.8,673.4 L460.2,675.3 L460.4,676.8 L460.6,678.0 A7.5,7.5 0 0 0 475.4,676.0 L475.4,676.0 L475.2,674.6 L474.9,672.8 L474.6,670.8 L474.2,668.6 L473.9,666.3 L473.5,663.9 L473.3,661.4 L473.1,659.0 L473.0,656.6 L473.0,654.4 L473.1,652.4 L473.4,650.8 L473.8,649.2 L474.5,647.5 L475.3,645.5 L476.2,643.5 L477.3,641.4 L478.5,639.4 L479.7,637.4 L480.9,635.5 L482.1,633.7 L483.2,632.1 L484.2,630.5 L484.9,629.2 Z"/>
<path d="M550.4,715.0 L548.6,716.1 L546.2,717.5 L543.3,719.1 L540.1,720.9 L536.5,722.8 L532.7,724.7 L528.8,726.6 L524.8,728.6 L521.0,730.4 L517.2,732.2 L513.7,733.9 L510.6,735.6 L507.6,737.2 L504.7,738.9 L501.9,740.6 L499.2,742.3 L496.7,744.0 L494.3,745.6 L492.0,747.2 L489.9,748.6 L488.1,749.9 L486.4,751.0 L485.1,752.0 L483.9,752.7 A7.5,7.5 0 0 0 492.1,765.3 L492.1,765.3 L493.3,764.5 L494.9,763.4 L496.6,762.3 L498.4,761.0 L500.5,759.7 L502.6,758.3 L504.9,756.8 L507.3,755.4 L509.8,754.0 L512.3,752.7 L514.9,751.5 L517.4,750.4 L520.3,749.4 L523.6,748.3 L527.3,747.2 L531.3,746.2 L535.4,745.2 L539.5,744.3 L543.6,743.5 L547.6,742.8 L551.2,742.2 L554.5,741.7 L557.4,741.3 L559.6,741.0 Z"/>
<path d="M558.4,685.0 L557.6,685.4 L556.5,685.9 L555.2,686.4 L553.6,687.0 L551.8,687.6 L549.8,688.2 L547.8,688.9 L545.8,689.5 L543.7,690.1 L541.6,690.8 L539.6,691.4 L537.6,692.2 L535.7,693.0 L533.8,693.8 L532.1,694.8 L530.3,695.7 L528.7,696.6 L527.1,697.5 L525.6,698.4 L524.3,699.2 L523.0,699.9 L522.0,700.6 L521.2,701.0 L520.5,701.4 A7.5,7.5 0 0 0 527.5,714.6 L527.5,714.6 L528.4,714.2 L529.4,713.6 L530.5,712.9 L531.7,712.3 L533.0,711.6 L534.4,710.8 L535.8,710.1 L537.2,709.5 L538.6,708.9 L540.0,708.4 L541.3,708.1 L542.4,707.8 L543.6,707.7 L545.1,707.6 L546.7,707.5 L548.5,707.5 L550.3,707.6 L552.2,707.8 L554.0,707.9 L555.8,708.2 L557.5,708.4 L559.0,708.6 L560.4,708.8 L561.6,709.0 Z"/>
<path d="M566.7,695.8 L567.9,696.5 L569.3,697.3 L570.7,698.0 L572.3,698.8 L573.9,699.7 L575.5,700.6 L577.0,701.6 L578.5,702.6 L579.9,703.6 L581.1,704.5 L582.1,705.4 L582.8,706.2 L583.4,707.1 L584.1,708.3 L584.8,709.8 L585.4,711.5 L586.0,713.3 L586.5,715.2 L587.0,717.0 L587.4,718.9 L587.8,720.6 L588.1,722.2 L588.4,723.7 L588.7,724.8 A7.5,7.5 0 0 0 603.3,721.2 L603.3,721.2 L603.0,720.3 L602.8,719.1 L602.5,717.6 L602.2,715.8 L601.8,713.8 L601.4,711.7 L600.9,709.5 L600.4,707.2 L599.8,704.8 L599.1,702.5 L598.2,700.1 L597.2,697.8 L596.0,695.5 L594.6,693.4 L593.2,691.4 L591.7,689.4 L590.2,687.6 L588.8,685.8 L587.4,684.1 L586.2,682.5 L585.1,681.1 L584.2,679.9 L583.7,678.9 L583.3,678.2 Z"/>
<path d="M579.3,642.1 L580.5,643.8 L582.0,645.7 L583.7,647.9 L585.5,650.2 L587.5,652.7 L589.5,655.4 L591.4,658.3 L593.4,661.2 L595.2,664.1 L596.9,667.1 L598.5,670.0 L599.8,672.8 L600.9,675.8 L602.1,679.2 L603.2,682.9 L604.2,686.9 L605.2,690.9 L606.0,695.0 L606.8,699.0 L607.5,702.8 L608.2,706.3 L608.7,709.5 L609.2,712.3 L609.6,714.4 A7.5,7.5 0 0 0 624.4,711.6 L624.4,711.6 L624.0,709.5 L623.5,706.9 L623.0,703.8 L622.4,700.2 L621.8,696.4 L621.1,692.2 L620.4,688.0 L619.7,683.6 L618.9,679.3 L618.1,675.1 L617.2,671.0 L616.2,667.2 L615.2,663.5 L613.9,659.7 L612.6,656.0 L611.2,652.3 L609.8,648.7 L608.4,645.2 L607.1,641.9 L605.9,638.8 L604.8,635.9 L603.9,633.5 L603.2,631.5 L602.7,629.9 Z"/>
<path d="M912.9,522.4 L914.8,523.9 L917.3,525.7 L920.0,527.5 L922.8,529.3 L925.6,531.3 L928.5,533.4 L931.3,535.6 L933.9,537.9 L936.2,540.2 L938.1,542.4 L939.6,544.5 L940.5,546.3 L941.1,548.5 L941.6,551.5 L941.7,555.1 L941.5,559.1 L941.1,563.3 L940.6,567.6 L939.8,571.9 L939.1,576.0 L938.3,579.8 L937.5,583.3 L937.0,586.4 L936.6,588.9 A7.5,7.5 0 0 0 951.4,591.1 L951.4,591.1 L951.7,589.0 L952.3,586.3 L953.0,582.9 L953.8,579.1 L954.8,574.8 L955.7,570.3 L956.6,565.6 L957.4,560.8 L957.9,556.0 L958.2,551.2 L958.2,546.4 L957.5,541.7 L956.1,537.1 L954.2,532.8 L951.9,528.8 L949.4,524.9 L946.8,521.3 L944.1,517.9 L941.5,514.6 L939.0,511.6 L936.8,509.0 L935.1,506.7 L933.9,505.0 L933.1,503.6 Z"/>
 </g>
 <path d="M483,241 C520,230 560,222 617,215 L662,210 C690,215 710,220 724,225 L754,241 C752,280 754,308 770,330 C790,355 840,370 882,369 C880,400 877,425 852,463 C840,500 822,545 838,595 C835,620 821,636 836,687 L870,780 L780,790 C760,740 740,700 698,636 C670,615 640,610 595,610 C560,600 509,598 458,582 C430,568 400,558 391,544 C381,500 385,470 406,436 C420,400 432,369 437,333 C450,310 468,280 483,241 Z" fill="url(#somaR)"/>
 <linearGradient id="hillR" gradientUnits="userSpaceOnUse" x1="760" y1="480" x2="830" y2="780"><stop offset="0" stop-color="#3a66d4" stop-opacity="0"/><stop offset="0.45" stop-color="#3058c8" stop-opacity="0.75"/><stop offset="1" stop-color="#1c38a8"/></linearGradient>
 <path d="M640,560 C720,520 800,480 852,463 C840,500 822,545 838,595 C835,640 835,690 870,780 L780,790 C760,740 740,690 698,636 C680,610 660,590 640,560 Z" fill="url(#hillR)"/>
 <g fill="#3d64c8" opacity="0.7">
  <circle cx="525" cy="295" r="12"/><circle cx="632" cy="280" r="11"/><circle cx="700" cy="265" r="13"/>
  <circle cx="580" cy="345" r="10"/><circle cx="680" cy="340" r="10"/><circle cx="500" cy="378" r="11"/>
  <circle cx="548" cy="400" r="12"/><circle cx="640" cy="378" r="9"/><circle cx="735" cy="378" r="13"/>
  <circle cx="455" cy="440" r="10"/><circle cx="525" cy="465" r="12"/><circle cx="440" cy="505" r="10"/>
  <circle cx="560" cy="540" r="13"/><circle cx="610" cy="575" r="10"/>
 </g>
 <g fill="#8ab0f4" opacity="0.6">
  <circle cx="760" cy="490" r="9"/><circle cx="760" cy="560" r="10"/><circle cx="762" cy="620" r="10"/><circle cx="775" cy="680" r="12"/><circle cx="740" cy="430" r="8"/>
 </g>
 <ellipse cx="638" cy="470" rx="80" ry="74" fill="url(#nuc)"/>
 <path d="M615,470 Q620,450 640,450 Q662,456 662,472 Q656,494 635,492 Q613,486 615,470 Z" fill="none" stroke="#a88a10" stroke-width="6"/>
</g>


<g id="openR1" transform="translate(880,320) scale(0.199)">
  <path d="M365.0,110.2 L370.7,116.2 L375.0,123.0 L377.1,130.6 L376.8,138.9 L374.2,147.5 L369.7,156.1 L364.2,164.5 L358.5,172.6 L353.2,180.5 L348.9,188.3 L345.3,196.2 L342.0,204.5 L338.5,213.0 L333.9,221.6 L327.9,230.0 L320.1,237.7 L310.7,244.5 L300.0,250.1 L288.7,254.7 L277.4,258.5 L266.3,262.0 L255.8,265.6 L245.6,269.8 L235.4,274.5 L225.1,279.7 L214.3,284.8 L203.0,289.4 L191.4,292.7 L179.9,294.4 L168.9,294.2 L158.8,292.4 L149.5,289.3 L141.0,285.7 L133.0,282.0 L124.9,278.8 L116.3,276.2 L107.1,274.2 L97.4,272.3 L87.5,270.1 L78.3,267.0 L70.4,262.6 L64.4,256.9 L60.7,249.9 L59.0,242.1 L59.0,233.8 L59.8,225.5 L60.7,217.5 L61.0,209.9 L60.4,202.5 L59.0,195.1 L57.2,187.6 L56.0,179.7 L56.1,171.3 L58.1,162.8 L62.5,154.2 L68.9,146.0 L77.1,138.3 L86.3,131.3 L95.8,124.7 L104.8,118.4 L113.2,111.9 L121.0,105.1 L128.5,97.9 L136.2,90.3 L144.6,82.8 L153.9,75.8 L164.2,69.8 L175.4,65.3 L186.9,62.4 L198.5,61.0 L209.8,60.6 L220.6,60.7 L231.0,60.7 L241.3,60.2 L251.8,59.0 L262.8,57.2 L274.1,55.4 L285.6,54.1 L296.9,53.9 L307.2,55.3 L316.3,58.5 L323.7,63.2 L329.5,69.2 L334.1,75.7 L338.2,82.3 L342.2,88.6 L346.9,94.4 L352.4,99.7 L358.6,104.8 Z" fill="#8e72e2" stroke="#2c2a88" stroke-width="11"/>
  <path d="M336.8,120.0 L339.6,124.9 L340.7,130.5 L340.0,136.6 L337.7,142.8 L334.4,149.1 L330.4,155.2 L326.4,161.0 L322.8,166.7 L319.8,172.2 L317.4,177.7 L315.4,183.5 L313.4,189.5 L311.0,195.7 L307.7,201.9 L303.3,208.1 L297.6,213.9 L290.8,219.0 L282.9,223.4 L274.5,226.9 L265.8,229.6 L257.3,231.9 L249.0,233.9 L241.1,236.0 L233.5,238.4 L225.9,241.2 L218.2,244.4 L210.2,247.9 L201.9,251.3 L193.2,254.1 L184.5,256.1 L176.0,257.0 L168.1,256.5 L160.9,254.8 L154.7,252.0 L149.5,248.5 L144.9,244.7 L140.6,240.9 L136.3,237.3 L131.7,234.2 L126.6,231.5 L120.9,229.0 L114.9,226.5 L108.9,223.6 L103.5,220.2 L99.2,216.0 L96.4,211.1 L95.3,205.5 L96.0,199.4 L98.3,193.2 L101.6,186.9 L105.6,180.8 L109.6,175.0 L113.2,169.3 L116.2,163.8 L118.6,158.3 L120.6,152.5 L122.6,146.5 L125.0,140.3 L128.3,134.1 L132.7,127.9 L138.4,122.1 L145.2,117.0 L153.1,112.6 L161.5,109.1 L170.2,106.4 L178.7,104.1 L187.0,102.1 L194.9,100.0 L202.5,97.6 L210.1,94.8 L217.8,91.6 L225.8,88.1 L234.1,84.7 L242.8,81.9 L251.5,79.9 L260.0,79.0 L267.9,79.5 L275.1,81.2 L281.3,84.0 L286.5,87.5 L291.1,91.3 L295.4,95.1 L299.7,98.7 L304.3,101.8 L309.4,104.5 L315.1,107.0 L321.1,109.5 L327.1,112.4 L332.5,115.8 Z" fill="#7458d8"/>
  <path d="M295.0,134.5 L294.8,137.5 L294.0,140.7 L292.5,143.9 L290.6,147.1 L288.6,150.1 L286.6,153.1 L284.8,155.9 L283.3,158.7 L282.0,161.5 L280.8,164.4 L279.7,167.4 L278.3,170.4 L276.6,173.6 L274.4,176.9 L271.7,180.0 L268.3,183.1 L264.3,185.8 L259.8,188.3 L254.9,190.3 L249.9,191.9 L244.9,193.2 L240.0,194.2 L235.3,195.1 L230.7,195.8 L226.3,196.7 L221.9,197.6 L217.5,198.7 L213.0,200.0 L208.4,201.3 L203.5,202.6 L198.5,203.7 L193.5,204.6 L188.7,205.0 L184.1,204.9 L180.0,204.2 L176.5,202.9 L173.7,201.2 L171.5,199.0 L169.8,196.6 L168.6,194.1 L167.7,191.6 L166.9,189.1 L165.9,186.7 L164.8,184.5 L163.4,182.4 L161.8,180.3 L160.1,178.2 L158.4,175.9 L157.0,173.4 L156.1,170.7 L155.9,167.8 L156.5,164.7 L158.0,161.5 L160.3,158.3 L163.3,155.2 L167.0,152.2 L171.0,149.4 L175.2,146.8 L179.3,144.4 L183.4,142.1 L187.2,139.9 L190.9,137.5 L194.4,135.1 L197.9,132.6 L201.5,129.9 L205.3,127.2 L209.4,124.5 L213.9,122.0 L218.6,119.8 L223.5,118.0 L228.5,116.7 L233.5,116.0 L238.2,115.8 L242.7,116.1 L246.8,116.8 L250.5,117.8 L254.1,118.8 L257.4,119.9 L260.7,120.8 L264.1,121.6 L267.7,122.2 L271.5,122.7 L275.4,123.2 L279.4,123.8 L283.4,124.7 L287.0,125.8 L290.2,127.4 L292.6,129.4 L294.2,131.8 Z" fill="#5a40c8"/>
  <linearGradient id="coreR" gradientUnits="userSpaceOnUse" x1="60" y1="-60" x2="220" y2="170"><stop offset="0" stop-color="#2a50c0" stop-opacity="0"/><stop offset="0.45" stop-color="#2448b8"/><stop offset="1" stop-color="#1a2c98"/></linearGradient>
  <path d="M40,-80 C110,-20 160,60 180,120 C195,160 225,180 250,160 C250,120 230,60 200,-10 C180,-60 150,-90 120,-110 Z" fill="url(#coreR)" opacity="0.85"/>
</g>

</svg>
</body></html>
